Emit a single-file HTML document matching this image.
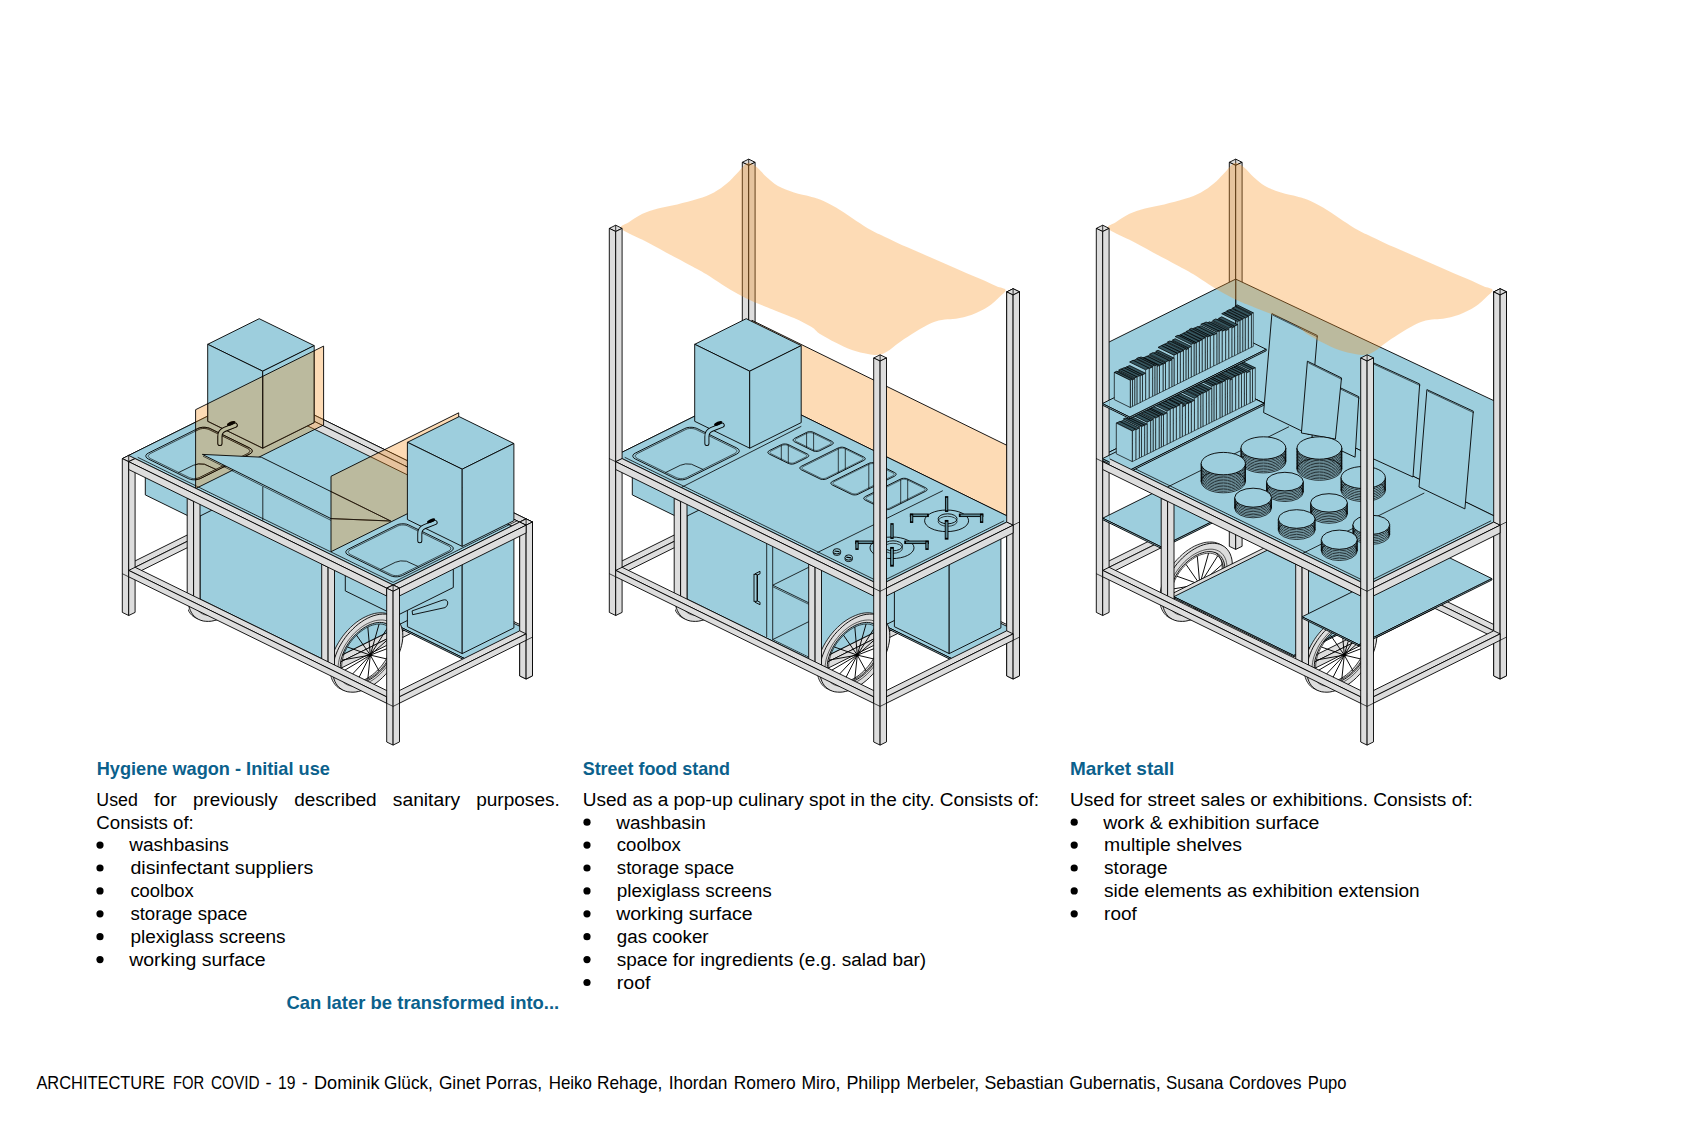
<!DOCTYPE html>
<html><head><meta charset="utf-8"><style>
html,body{margin:0;padding:0;background:#fff;}
svg{display:block;font-family:"Liberation Sans",sans-serif;}
</style></head><body>
<svg width="1688" height="1125" viewBox="0 0 1688 1125">
<rect width="1688" height="1125" fill="#fff"/>
<polygon points="255.3,392.5 261.7,395.6 268.1,392.5 261.7,389.3" fill="#dddddd" stroke="#000" stroke-width="0.9" stroke-linejoin="round"/>
<polygon points="255.3,546.3 261.7,549.4 261.7,395.6 255.3,392.5" fill="#dddddd" stroke="#000" stroke-width="0.9" stroke-linejoin="round"/>
<polygon points="261.7,549.4 268.1,546.3 268.1,392.5 261.7,395.6" fill="#dddddd" stroke="#000" stroke-width="0.9" stroke-linejoin="round"/><line x1="261.7" y1="389.3" x2="261.7" y2="395.6" stroke="#000" stroke-width="0.8"/>
<polygon points="261.7,504.3 519.7,630.8 526.1,627.6 268.1,501.2" fill="#dddddd" stroke="#000" stroke-width="0.9" stroke-linejoin="round"/>
<polygon points="261.7,510.7 519.7,637.2 519.7,630.8 261.7,504.3" fill="#dddddd" stroke="#000" stroke-width="0.9" stroke-linejoin="round"/>
<polygon points="519.7,637.2 526.1,634.0 526.1,627.6 519.7,630.8" fill="#dddddd" stroke="#000" stroke-width="0.9" stroke-linejoin="round"/>
<polygon points="128.7,564.1 135.1,567.3 261.7,504.3 255.3,501.2" fill="#dddddd" stroke="#000" stroke-width="0.9" stroke-linejoin="round"/>
<polygon points="128.7,570.5 135.1,573.7 135.1,567.3 128.7,564.1" fill="#dddddd" stroke="#000" stroke-width="0.9" stroke-linejoin="round"/>
<polygon points="135.1,573.7 261.7,510.7 261.7,504.3 135.1,567.3" fill="#dddddd" stroke="#000" stroke-width="0.9" stroke-linejoin="round"/>
<polygon points="320.2,432.1 326.6,435.2 333.0,432.1 326.6,428.9" fill="#dddddd" stroke="#000" stroke-width="0.9" stroke-linejoin="round"/>
<polygon points="320.2,533.0 326.6,536.1 326.6,435.2 320.2,432.1" fill="#dddddd" stroke="#000" stroke-width="0.9" stroke-linejoin="round"/>
<polygon points="326.6,536.1 333.0,533.0 333.0,432.1 326.6,435.2" fill="#dddddd" stroke="#000" stroke-width="0.9" stroke-linejoin="round"/>
<polygon points="454.7,498.0 461.1,501.1 467.5,498.0 461.1,494.8" fill="#dddddd" stroke="#000" stroke-width="0.9" stroke-linejoin="round"/>
<polygon points="454.7,598.9 461.1,602.0 461.1,501.1 454.7,498.0" fill="#dddddd" stroke="#000" stroke-width="0.9" stroke-linejoin="round"/>
<polygon points="461.1,602.0 467.5,598.9 467.5,498.0 461.1,501.1" fill="#dddddd" stroke="#000" stroke-width="0.9" stroke-linejoin="round"/>
<polygon points="519.7,522.1 526.1,525.2 532.5,522.0 526.1,518.9" fill="#dddddd" stroke="#000" stroke-width="0.9" stroke-linejoin="round"/>
<polygon points="519.7,675.9 526.1,679.0 526.1,525.2 519.7,522.1" fill="#dddddd" stroke="#000" stroke-width="0.9" stroke-linejoin="round"/>
<polygon points="526.1,679.0 532.5,675.8 532.5,522.0 526.1,525.2" fill="#dddddd" stroke="#000" stroke-width="0.9" stroke-linejoin="round"/><line x1="526.1" y1="518.9" x2="526.1" y2="525.2" stroke="#000" stroke-width="0.8"/>
<clipPath id="lw0"><rect x="188.0" y="0" width="200" height="1125"/></clipPath>
<g clip-path="url(#lw0)"><path d="M255.7,563.7 L255.6,560.7 L255.2,557.8 L254.5,555.2 L253.6,552.7 L252.4,550.5 L251.0,548.5 L249.4,546.7 L247.5,545.2 L245.4,544.0 L243.2,543.1 L240.8,542.4 L238.2,542.0 L235.5,542.0 L232.7,542.2 L229.8,542.7 L226.8,543.6 L223.8,544.7 L220.7,546.0 L217.6,547.7 L214.6,549.6 L211.6,551.7 L208.7,554.1 L205.9,556.7 L203.2,559.4 L200.6,562.4 L198.2,565.4 L196.0,568.6 L193.9,571.9 L192.0,575.2 L190.4,578.6 L189.0,582.0 L187.8,585.4 L186.9,588.8 L186.2,592.1 L185.8,595.3 L185.7,598.4 L185.8,601.4 L186.2,604.3 L186.9,606.9 L187.8,609.4 L189.0,611.6 L190.4,613.6 L192.0,615.4 L193.9,616.9 L196.0,618.1 L198.2,619.0 L200.6,619.7 L203.2,620.1 L205.9,620.1 L208.7,619.9 L211.6,619.4 L214.6,618.5 L217.6,617.4 L220.7,616.0 L223.8,614.4 L226.8,612.5 L229.8,610.4 L232.7,608.0 L235.5,605.4 L238.2,602.7 L240.8,599.7 L243.2,596.7 L245.4,593.5 L247.5,590.2 L249.4,586.9 L251.0,583.5 L252.4,580.1 L253.6,576.7 L254.5,573.3 L255.2,570.0 L255.6,566.8 Z M248.1,569.8 L247.8,572.4 L247.3,575.0 L246.5,577.6 L245.6,580.3 L244.5,583.0 L243.2,585.6 L241.8,588.3 L240.1,590.8 L238.4,593.3 L236.5,595.7 L234.4,598.0 L232.3,600.2 L230.1,602.2 L227.8,604.1 L225.5,605.8 L223.1,607.2 L220.7,608.5 L218.3,609.6 L215.9,610.5 L213.6,611.1 L211.3,611.6 L209.1,611.7 L207.0,611.7 L204.9,611.4 L203.0,610.9 L201.3,610.2 L199.6,609.2 L198.2,608.0 L196.9,606.6 L195.8,605.1 L194.9,603.3 L194.1,601.4 L193.6,599.3 L193.3,597.1 L193.2,594.7 L193.3,592.3 L193.6,589.7 L194.1,587.1 L194.9,584.5 L195.8,581.8 L196.9,579.1 L198.2,576.5 L199.6,573.8 L201.3,571.3 L203.0,568.8 L204.9,566.4 L207.0,564.1 L209.1,561.9 L211.3,559.9 L213.6,558.0 L215.9,556.3 L218.3,554.8 L220.7,553.5 L223.1,552.5 L225.5,551.6 L227.8,550.9 L230.1,550.5 L232.3,550.3 L234.5,550.4 L236.5,550.7 L238.4,551.2 L240.1,551.9 L241.8,552.9 L243.2,554.1 L244.5,555.5 L245.6,557.0 L246.5,558.8 L247.3,560.7 L247.8,562.8 L248.1,565.0 L248.2,567.4 Z" fill="#dddddd" stroke="#000" stroke-width="0.8" fill-rule="evenodd"/>
<path d="M258.3,564.9 L258.2,561.9 L257.8,559.1 L257.1,556.5 L256.2,554.0 L255.0,551.8 L253.6,549.8 L252.0,548.0 L250.1,546.5 L248.0,545.3 L245.8,544.3 L243.4,543.7 L240.8,543.3 L238.1,543.2 L235.3,543.5 L232.4,544.0 L229.4,544.8 L226.4,545.9 L223.3,547.3 L220.2,549.0 L217.2,550.9 L214.2,553.0 L211.3,555.4 L208.5,557.9 L205.8,560.7 L203.2,563.6 L200.8,566.7 L198.6,569.9 L196.5,573.1 L194.6,576.5 L193.0,579.9 L191.6,583.3 L190.4,586.7 L189.5,590.1 L188.8,593.4 L188.4,596.6 L188.3,599.7 L188.4,602.7 L188.8,605.5 L189.5,608.2 L190.4,610.6 L191.6,612.9 L193.0,614.9 L194.6,616.6 L196.5,618.1 L198.6,619.4 L200.8,620.3 L203.2,621.0 L205.8,621.3 L208.5,621.4 L211.3,621.2 L214.2,620.6 L217.2,619.8 L220.2,618.7 L223.3,617.3 L226.4,615.7 L229.4,613.8 L232.4,611.6 L235.3,609.3 L238.1,606.7 L240.8,603.9 L243.4,601.0 L245.8,597.9 L248.0,594.8 L250.1,591.5 L252.0,588.1 L253.6,584.8 L255.0,581.3 L256.2,577.9 L257.1,574.6 L257.8,571.3 L258.2,568.0 Z M250.7,571.1 L250.4,573.6 L249.9,576.2 L249.1,578.9 L248.2,581.6 L247.1,584.2 L245.8,586.9 L244.4,589.5 L242.7,592.1 L241.0,594.6 L239.1,597.0 L237.0,599.3 L234.9,601.5 L232.7,603.5 L230.4,605.3 L228.1,607.0 L225.7,608.5 L223.3,609.8 L220.9,610.9 L218.5,611.8 L216.2,612.4 L213.9,612.8 L211.7,613.0 L209.6,613.0 L207.5,612.7 L205.6,612.2 L203.9,611.4 L202.2,610.5 L200.8,609.3 L199.5,607.9 L198.4,606.3 L197.5,604.6 L196.7,602.6 L196.2,600.6 L195.9,598.3 L195.8,596.0 L195.9,593.5 L196.2,591.0 L196.7,588.4 L197.5,585.8 L198.4,583.1 L199.5,580.4 L200.8,577.7 L202.2,575.1 L203.9,572.5 L205.6,570.0 L207.5,567.6 L209.6,565.3 L211.7,563.2 L213.9,561.2 L216.2,559.3 L218.5,557.6 L220.9,556.1 L223.3,554.8 L225.7,553.7 L228.1,552.9 L230.4,552.2 L232.7,551.8 L234.9,551.6 L237.1,551.7 L239.1,552.0 L241.0,552.5 L242.7,553.2 L244.4,554.2 L245.8,555.3 L247.1,556.7 L248.2,558.3 L249.1,560.1 L249.9,562.0 L250.4,564.1 L250.7,566.3 L250.8,568.7 Z" fill="#dddddd" stroke="#000" stroke-width="0.9" fill-rule="evenodd"/>
<polygon points="253.0,567.6 252.9,565.0 252.5,562.6 252.0,560.4 251.2,558.3 250.2,556.4 249.0,554.7 247.6,553.2 246.1,551.9 244.3,550.9 242.4,550.1 240.3,549.5 238.2,549.2 235.9,549.2 233.5,549.4 231.0,549.8 228.5,550.5 225.9,551.4 223.3,552.6 220.7,554.0 218.1,555.6 215.6,557.5 213.1,559.5 210.7,561.6 208.5,564.0 206.3,566.5 204.2,569.1 202.3,571.8 200.5,574.5 199.0,577.4 197.6,580.3 196.4,583.1 195.4,586.0 194.6,588.9 194.1,591.7 193.7,594.4 193.6,597.1 193.7,599.6 194.1,602.0 194.6,604.3 195.4,606.3 196.4,608.2 197.6,610.0 199.0,611.4 200.5,612.7 202.3,613.8 204.2,614.6 206.3,615.1 208.4,615.4 210.7,615.5 213.1,615.3 215.6,614.8 218.1,614.1 220.7,613.2 223.3,612.0 225.9,610.6 228.5,609.0 231.0,607.2 233.5,605.2 235.9,603.0 238.1,600.7 240.3,598.2 242.4,595.6 244.3,592.9 246.1,590.1 247.6,587.3 249.0,584.4 250.2,581.5 251.2,578.6 252.0,575.7 252.5,572.9 252.9,570.2" fill="none" stroke="#000" stroke-width="0.6" stroke-linejoin="round"/>
<polygon points="249.4,569.3 249.3,567.1 249.0,565.0 248.5,563.0 247.8,561.2 247.0,559.5 245.9,558.0 244.7,556.7 243.3,555.6 241.8,554.7 240.1,554.0 238.3,553.5 236.4,553.2 234.3,553.2 232.2,553.4 230.1,553.8 227.8,554.4 225.6,555.2 223.3,556.2 221.0,557.4 218.8,558.9 216.5,560.5 214.4,562.2 212.3,564.1 210.3,566.2 208.3,568.4 206.5,570.7 204.8,573.0 203.3,575.5 201.9,578.0 200.7,580.5 199.6,583.0 198.8,585.6 198.1,588.1 197.6,590.6 197.3,593.0 197.2,595.3 197.3,597.5 197.6,599.6 198.1,601.6 198.8,603.4 199.6,605.1 200.7,606.6 201.9,607.9 203.3,609.0 204.8,609.9 206.5,610.7 208.3,611.1 210.2,611.4 212.3,611.5 214.4,611.3 216.5,610.9 218.8,610.3 221.0,609.5 223.3,608.4 225.6,607.2 227.8,605.8 230.1,604.2 232.2,602.4 234.3,600.5 236.3,598.4 238.3,596.3 240.1,594.0 241.8,591.6 243.3,589.2 244.7,586.7 245.9,584.1 247.0,581.6 247.8,579.1 248.5,576.5 249.0,574.1 249.3,571.7" fill="none" stroke="#000" stroke-width="0.7" stroke-linejoin="round"/>
<line x1="225.8" y1="584.3" x2="248.7" y2="563.9" stroke="#000" stroke-width="0.95"/>
<line x1="225.8" y1="584.3" x2="243.7" y2="555.9" stroke="#000" stroke-width="0.95"/>
<line x1="225.8" y1="584.3" x2="234.6" y2="553.2" stroke="#000" stroke-width="0.95"/>
<line x1="225.8" y1="584.3" x2="223.3" y2="556.2" stroke="#000" stroke-width="0.95"/>
<line x1="225.8" y1="584.3" x2="212.0" y2="564.4" stroke="#000" stroke-width="0.95"/>
<line x1="225.8" y1="584.3" x2="202.9" y2="576.2" stroke="#000" stroke-width="0.95"/>
<line x1="225.8" y1="584.3" x2="197.9" y2="589.2" stroke="#000" stroke-width="0.95"/>
<line x1="225.8" y1="584.3" x2="197.9" y2="600.8" stroke="#000" stroke-width="0.95"/>
<line x1="225.8" y1="584.3" x2="202.9" y2="608.7" stroke="#000" stroke-width="0.95"/>
<line x1="225.8" y1="584.3" x2="212.0" y2="611.5" stroke="#000" stroke-width="0.95"/>
<line x1="225.8" y1="584.3" x2="223.3" y2="608.4" stroke="#000" stroke-width="0.95"/>
<line x1="225.8" y1="584.3" x2="234.6" y2="600.2" stroke="#000" stroke-width="0.95"/>
<line x1="225.8" y1="584.3" x2="243.7" y2="588.5" stroke="#000" stroke-width="0.95"/>
<line x1="225.8" y1="584.3" x2="248.7" y2="575.5" stroke="#000" stroke-width="0.95"/>
<circle cx="225.8" cy="584.3" r="1.6" fill="#000"/></g>
<polygon points="193.6,595.9 200.0,599.1 326.6,536.1 320.2,533.0" fill="#dddddd" stroke="#000" stroke-width="0.9" stroke-linejoin="round"/>
<polygon points="193.6,602.3 200.0,605.5 200.0,599.1 193.6,595.9" fill="#dddddd" stroke="#000" stroke-width="0.9" stroke-linejoin="round"/>
<polygon points="200.0,605.5 326.6,542.5 326.6,536.1 200.0,599.1" fill="#dddddd" stroke="#000" stroke-width="0.9" stroke-linejoin="round"/><polygon points="328.1,661.8 334.5,665.0 461.1,602.0 454.7,598.9" fill="#dddddd" stroke="#000" stroke-width="0.9" stroke-linejoin="round"/>
<polygon points="328.1,668.2 334.5,671.4 334.5,665.0 328.1,661.8" fill="#dddddd" stroke="#000" stroke-width="0.9" stroke-linejoin="round"/>
<polygon points="334.5,671.4 461.1,608.4 461.1,602.0 334.5,665.0" fill="#dddddd" stroke="#000" stroke-width="0.9" stroke-linejoin="round"/>
<polygon points="200.0,498.2 328.1,560.9 454.7,498.0 326.6,435.2" fill="#9dcedd" stroke="#000" stroke-width="0.9" stroke-linejoin="round"/>
<polygon points="200.0,599.1 328.1,661.8 328.1,560.9 200.0,498.2" fill="#9dcedd" stroke="#000" stroke-width="0.9" stroke-linejoin="round"/>
<polygon points="328.1,661.8 454.7,598.9 454.7,498.0 328.1,560.9" fill="#9dcedd" stroke="#000" stroke-width="0.9" stroke-linejoin="round"/>
<polygon points="397.3,625.5 465.3,658.9 525.3,629.0 457.3,595.7" fill="#9dcedd" stroke="#000" stroke-width="0.9" stroke-linejoin="round"/>
<polygon points="397.3,627.0 465.3,660.4 465.3,658.9 397.3,625.5" fill="#9dcedd" stroke="#000" stroke-width="0.9" stroke-linejoin="round"/>
<polygon points="465.3,660.4 525.3,630.5 525.3,629.0 465.3,658.9" fill="#9dcedd" stroke="#000" stroke-width="0.9" stroke-linejoin="round"/>
<polygon points="407.4,519.5 462.2,546.4 513.9,520.7 459.1,493.8" fill="#9dcedd" stroke="#000" stroke-width="0.9" stroke-linejoin="round"/>
<polygon points="407.4,626.7 462.2,653.6 462.2,546.4 407.4,519.5" fill="#9dcedd" stroke="#000" stroke-width="0.9" stroke-linejoin="round"/>
<polygon points="462.2,653.6 513.9,627.9 513.9,520.7 462.2,546.4" fill="#9dcedd" stroke="#000" stroke-width="0.9" stroke-linejoin="round"/>
<polygon points="145.3,456.1 194.3,480.1 252.3,451.2 203.3,427.2" fill="#9dcedd" stroke="#000" stroke-width="0.9" stroke-linejoin="round"/>
<polygon points="145.3,494.9 194.3,518.9 194.3,480.1 145.3,456.1" fill="#9dcedd" stroke="#000" stroke-width="0.9" stroke-linejoin="round"/>
<polygon points="194.3,518.9 252.3,490.0 252.3,451.2 194.3,480.1" fill="#9dcedd" stroke="#000" stroke-width="0.9" stroke-linejoin="round"/>
<polygon points="345.3,552.1 396.3,577.1 453.3,548.7 402.3,523.7" fill="#9dcedd" stroke="#000" stroke-width="0.9" stroke-linejoin="round"/>
<polygon points="345.3,590.9 396.3,615.9 396.3,577.1 345.3,552.1" fill="#9dcedd" stroke="#000" stroke-width="0.9" stroke-linejoin="round"/>
<polygon points="396.3,615.9 453.3,587.5 453.3,548.7 396.3,577.1" fill="#9dcedd" stroke="#000" stroke-width="0.9" stroke-linejoin="round"/>
<path d="M412.1,610.9 L442.0,600.3 Q447.5,598.5 447.8,603 Q447.8,606 445.0,607.6 L412.6,614.7 Z" fill="none" stroke="#000" stroke-width="0.9"/>
<path d="M400.2,634.5 L400.1,631.5 L399.7,628.6 L399.0,626.0 L398.1,623.5 L396.9,621.3 L395.5,619.3 L393.9,617.5 L392.0,616.0 L389.9,614.8 L387.7,613.9 L385.3,613.2 L382.7,612.8 L380.0,612.8 L377.2,613.0 L374.3,613.5 L371.3,614.4 L368.3,615.5 L365.2,616.9 L362.1,618.5 L359.1,620.4 L356.1,622.5 L353.2,624.9 L350.4,627.5 L347.7,630.2 L345.1,633.2 L342.7,636.2 L340.5,639.4 L338.4,642.7 L336.5,646.0 L334.9,649.4 L333.5,652.8 L332.3,656.2 L331.4,659.6 L330.7,662.9 L330.3,666.1 L330.2,669.2 L330.3,672.2 L330.7,675.1 L331.4,677.7 L332.3,680.2 L333.5,682.4 L334.9,684.4 L336.5,686.2 L338.4,687.7 L340.5,688.9 L342.7,689.8 L345.1,690.5 L347.7,690.9 L350.4,690.9 L353.2,690.7 L356.1,690.2 L359.1,689.3 L362.1,688.2 L365.2,686.9 L368.3,685.2 L371.3,683.3 L374.3,681.2 L377.2,678.8 L380.0,676.2 L382.7,673.5 L385.3,670.5 L387.7,667.5 L389.9,664.3 L392.0,661.0 L393.9,657.7 L395.5,654.3 L396.9,650.9 L398.1,647.5 L399.0,644.1 L399.7,640.8 L400.1,637.6 Z M392.6,640.6 L392.3,643.2 L391.8,645.8 L391.0,648.4 L390.1,651.1 L389.0,653.8 L387.7,656.4 L386.3,659.1 L384.6,661.6 L382.9,664.1 L381.0,666.5 L378.9,668.8 L376.8,671.0 L374.6,673.0 L372.3,674.9 L370.0,676.6 L367.6,678.1 L365.2,679.4 L362.8,680.4 L360.4,681.3 L358.1,682.0 L355.8,682.4 L353.6,682.5 L351.4,682.5 L349.4,682.2 L347.5,681.7 L345.8,681.0 L344.1,680.0 L342.7,678.8 L341.4,677.4 L340.3,675.9 L339.4,674.1 L338.6,672.2 L338.1,670.1 L337.8,667.9 L337.7,665.5 L337.8,663.1 L338.1,660.5 L338.6,657.9 L339.4,655.3 L340.3,652.6 L341.4,649.9 L342.7,647.3 L344.1,644.6 L345.8,642.1 L347.5,639.6 L349.4,637.2 L351.4,634.9 L353.6,632.7 L355.8,630.7 L358.1,628.8 L360.4,627.1 L362.8,625.6 L365.2,624.4 L367.6,623.3 L370.0,622.4 L372.3,621.7 L374.6,621.3 L376.8,621.2 L378.9,621.2 L381.0,621.5 L382.9,622.0 L384.6,622.7 L386.3,623.7 L387.7,624.9 L389.0,626.3 L390.1,627.8 L391.0,629.6 L391.8,631.5 L392.3,633.6 L392.6,635.8 L392.7,638.2 Z" fill="#dddddd" stroke="#000" stroke-width="0.8" fill-rule="evenodd"/>
<path d="M402.8,635.7 L402.7,632.7 L402.3,629.9 L401.6,627.3 L400.7,624.8 L399.5,622.6 L398.1,620.6 L396.5,618.8 L394.6,617.3 L392.5,616.1 L390.3,615.1 L387.9,614.5 L385.3,614.1 L382.6,614.1 L379.8,614.3 L376.9,614.8 L373.9,615.6 L370.9,616.7 L367.8,618.1 L364.7,619.8 L361.7,621.7 L358.7,623.8 L355.8,626.2 L353.0,628.8 L350.3,631.5 L347.7,634.4 L345.3,637.5 L343.1,640.7 L341.0,644.0 L339.1,647.3 L337.5,650.7 L336.1,654.1 L334.9,657.5 L334.0,660.9 L333.3,664.2 L332.9,667.4 L332.8,670.5 L332.9,673.5 L333.3,676.3 L334.0,679.0 L334.9,681.4 L336.1,683.7 L337.5,685.7 L339.1,687.4 L341.0,688.9 L343.1,690.2 L345.3,691.1 L347.7,691.8 L350.3,692.1 L353.0,692.2 L355.8,692.0 L358.7,691.4 L361.7,690.6 L364.7,689.5 L367.8,688.1 L370.9,686.5 L373.9,684.6 L376.9,682.4 L379.8,680.1 L382.6,677.5 L385.3,674.7 L387.9,671.8 L390.3,668.8 L392.5,665.6 L394.6,662.3 L396.5,659.0 L398.1,655.6 L399.5,652.2 L400.7,648.7 L401.6,645.4 L402.3,642.1 L402.7,638.8 Z M395.2,641.9 L394.9,644.4 L394.4,647.0 L393.6,649.7 L392.7,652.4 L391.6,655.0 L390.3,657.7 L388.9,660.3 L387.2,662.9 L385.5,665.4 L383.6,667.8 L381.6,670.1 L379.4,672.3 L377.2,674.3 L374.9,676.1 L372.6,677.8 L370.2,679.3 L367.8,680.6 L365.4,681.7 L363.0,682.6 L360.7,683.2 L358.4,683.6 L356.2,683.8 L354.1,683.8 L352.0,683.5 L350.1,683.0 L348.4,682.2 L346.7,681.3 L345.3,680.1 L344.0,678.7 L342.9,677.1 L342.0,675.4 L341.2,673.4 L340.7,671.4 L340.4,669.1 L340.3,666.8 L340.4,664.3 L340.7,661.8 L341.2,659.2 L342.0,656.6 L342.9,653.9 L344.0,651.2 L345.3,648.5 L346.7,645.9 L348.4,643.3 L350.1,640.8 L352.0,638.4 L354.1,636.1 L356.2,634.0 L358.4,632.0 L360.7,630.1 L363.0,628.4 L365.4,626.9 L367.8,625.6 L370.2,624.5 L372.6,623.7 L374.9,623.0 L377.2,622.6 L379.4,622.4 L381.6,622.5 L383.6,622.8 L385.5,623.3 L387.2,624.0 L388.9,625.0 L390.3,626.2 L391.6,627.5 L392.7,629.1 L393.6,630.9 L394.4,632.8 L394.9,634.9 L395.2,637.1 L395.3,639.5 Z" fill="#dddddd" stroke="#000" stroke-width="0.9" fill-rule="evenodd"/>
<polygon points="397.5,638.4 397.4,635.8 397.0,633.4 396.5,631.2 395.7,629.1 394.7,627.2 393.5,625.5 392.1,624.0 390.6,622.7 388.8,621.7 386.9,620.9 384.8,620.3 382.7,620.0 380.4,620.0 378.0,620.2 375.5,620.6 373.0,621.3 370.4,622.3 367.8,623.4 365.2,624.8 362.6,626.4 360.1,628.3 357.6,630.3 355.2,632.4 353.0,634.8 350.8,637.3 348.7,639.9 346.8,642.6 345.0,645.3 343.5,648.2 342.1,651.1 340.9,654.0 339.9,656.8 339.1,659.7 338.6,662.5 338.2,665.2 338.1,667.9 338.2,670.4 338.6,672.8 339.1,675.1 339.9,677.2 340.9,679.1 342.1,680.8 343.5,682.3 345.0,683.5 346.8,684.6 348.7,685.4 350.8,685.9 352.9,686.2 355.2,686.3 357.6,686.1 360.1,685.6 362.6,684.9 365.2,684.0 367.8,682.8 370.4,681.4 373.0,679.8 375.5,678.0 378.0,676.0 380.4,673.8 382.6,671.5 384.8,669.0 386.9,666.4 388.8,663.7 390.6,660.9 392.1,658.1 393.5,655.2 394.7,652.3 395.7,649.4 396.5,646.6 397.0,643.7 397.4,641.0" fill="none" stroke="#000" stroke-width="0.6" stroke-linejoin="round"/>
<polygon points="393.9,640.2 393.8,637.9 393.5,635.8 393.0,633.8 392.3,632.0 391.5,630.3 390.4,628.8 389.2,627.5 387.8,626.4 386.3,625.5 384.6,624.8 382.8,624.3 380.9,624.0 378.8,624.0 376.7,624.2 374.6,624.6 372.3,625.2 370.1,626.0 367.8,627.0 365.5,628.3 363.3,629.7 361.0,631.3 358.9,633.0 356.8,635.0 354.8,637.0 352.8,639.2 351.0,641.5 349.3,643.8 347.8,646.3 346.4,648.8 345.2,651.3 344.1,653.9 343.3,656.4 342.6,658.9 342.1,661.4 341.8,663.8 341.7,666.1 341.8,668.3 342.1,670.4 342.6,672.4 343.3,674.2 344.1,675.9 345.2,677.4 346.4,678.7 347.8,679.8 349.3,680.8 351.0,681.5 352.8,681.9 354.8,682.2 356.8,682.3 358.9,682.1 361.0,681.7 363.3,681.1 365.5,680.3 367.8,679.2 370.1,678.0 372.3,676.6 374.6,675.0 376.7,673.2 378.8,671.3 380.9,669.2 382.8,667.1 384.6,664.8 386.3,662.4 387.8,660.0 389.2,657.5 390.4,654.9 391.5,652.4 392.3,649.9 393.0,647.3 393.5,644.9 393.8,642.5" fill="none" stroke="#000" stroke-width="0.7" stroke-linejoin="round"/>
<line x1="370.3" y1="655.1" x2="393.2" y2="634.7" stroke="#000" stroke-width="0.95"/>
<line x1="370.3" y1="655.1" x2="388.2" y2="626.7" stroke="#000" stroke-width="0.95"/>
<line x1="370.3" y1="655.1" x2="379.1" y2="624.0" stroke="#000" stroke-width="0.95"/>
<line x1="370.3" y1="655.1" x2="367.8" y2="627.0" stroke="#000" stroke-width="0.95"/>
<line x1="370.3" y1="655.1" x2="356.5" y2="635.2" stroke="#000" stroke-width="0.95"/>
<line x1="370.3" y1="655.1" x2="347.4" y2="647.0" stroke="#000" stroke-width="0.95"/>
<line x1="370.3" y1="655.1" x2="342.4" y2="660.0" stroke="#000" stroke-width="0.95"/>
<line x1="370.3" y1="655.1" x2="342.4" y2="671.6" stroke="#000" stroke-width="0.95"/>
<line x1="370.3" y1="655.1" x2="347.4" y2="679.5" stroke="#000" stroke-width="0.95"/>
<line x1="370.3" y1="655.1" x2="356.5" y2="682.3" stroke="#000" stroke-width="0.95"/>
<line x1="370.3" y1="655.1" x2="367.8" y2="679.2" stroke="#000" stroke-width="0.95"/>
<line x1="370.3" y1="655.1" x2="379.1" y2="671.0" stroke="#000" stroke-width="0.95"/>
<line x1="370.3" y1="655.1" x2="388.2" y2="659.3" stroke="#000" stroke-width="0.95"/>
<line x1="370.3" y1="655.1" x2="393.2" y2="646.3" stroke="#000" stroke-width="0.95"/>
<circle cx="370.3" cy="655.1" r="1.6" fill="#000"/>
<polygon points="128.7,455.4 135.1,458.6 261.7,395.6 255.3,392.5" fill="#dddddd" stroke="#000" stroke-width="0.9" stroke-linejoin="round"/>
<polygon points="128.7,463.2 135.1,466.4 135.1,458.6 128.7,455.4" fill="#dddddd" stroke="#000" stroke-width="0.9" stroke-linejoin="round"/>
<polygon points="135.1,466.4 261.7,403.4 261.7,395.6 135.1,458.6" fill="#dddddd" stroke="#000" stroke-width="0.9" stroke-linejoin="round"/>
<polygon points="122.3,458.6 393.1,591.3 532.5,522.0 261.7,389.3" fill="#9dcedd" stroke="#000" stroke-width="0.9" stroke-linejoin="round"/>
<polygon points="261.7,395.6 519.7,522.1 526.1,518.9 268.1,392.5" fill="#dddddd" stroke="#000" stroke-width="0.9" stroke-linejoin="round"/>
<polygon points="261.7,403.4 519.7,529.9 519.7,522.1 261.7,395.6" fill="#dddddd" stroke="#000" stroke-width="0.9" stroke-linejoin="round"/>
<polygon points="519.7,529.9 526.1,526.7 526.1,518.9 519.7,522.1" fill="#dddddd" stroke="#000" stroke-width="0.9" stroke-linejoin="round"/>
<line x1="135.1" y1="458.6" x2="393.1" y2="585.0" stroke="#000" stroke-width="0.75"/><line x1="393.1" y1="585.0" x2="519.7" y2="522.1" stroke="#000" stroke-width="0.75"/><line x1="137.7" y1="457.3" x2="393.1" y2="582.4" stroke="#000" stroke-width="0.75"/><line x1="393.1" y1="582.4" x2="517.1" y2="520.8" stroke="#000" stroke-width="0.75"/>
<polygon points="249.8,454.0 251.4,452.9 252.2,451.6 252.2,450.3 251.4,449.1 249.8,448.0 209.8,428.4 207.7,427.7 205.1,427.3 202.5,427.3 199.9,427.7 197.8,428.5 148.3,453.1 146.7,454.1 145.9,455.4 145.9,456.7 146.7,457.9 148.3,459.0 188.3,478.6 190.4,479.4 193.0,479.8 195.6,479.8 198.2,479.3 200.3,478.6" fill="#9dcedd" stroke="#000" stroke-width="0.9" stroke-linejoin="round"/>
<polygon points="247.8,453.5 249.1,452.6 249.8,451.5 249.8,450.5 249.1,449.4 247.8,448.5 208.8,429.4 207.0,428.8 204.9,428.5 202.7,428.5 200.6,428.8 198.8,429.5 150.3,453.6 149.0,454.5 148.3,455.5 148.3,456.6 149.0,457.6 150.3,458.5 189.3,477.6 191.1,478.2 193.2,478.6 195.4,478.6 197.5,478.2 199.3,477.6" fill="none" stroke="#000" stroke-width="0.6" stroke-linejoin="round"/>
<polyline points="178.3,472.7 193.3,465.3 198.5,463.9 204.4,464.2 216.3,469.6" fill="none" stroke="#000" stroke-width="0.8" stroke-linejoin="round"/>
<polygon points="450.8,551.5 452.4,550.4 453.2,549.1 453.2,547.8 452.4,546.6 450.8,545.5 408.8,525.0 406.7,524.2 404.1,523.8 401.5,523.8 398.9,524.2 396.8,525.0 348.3,549.1 346.7,550.2 345.9,551.4 345.9,552.7 346.7,554.0 348.3,555.0 390.3,575.6 392.4,576.4 395.0,576.8 397.6,576.8 400.2,576.3 402.3,575.6" fill="#9dcedd" stroke="#000" stroke-width="0.9" stroke-linejoin="round"/>
<polygon points="448.8,551.0 450.1,550.1 450.8,549.0 450.8,548.0 450.1,546.9 448.8,546.0 407.8,526.0 406.0,525.3 403.9,525.0 401.7,525.0 399.6,525.3 397.8,526.0 350.3,549.6 349.0,550.5 348.3,551.5 348.3,552.6 349.0,553.6 350.3,554.5 391.3,574.6 393.1,575.3 395.2,575.6 397.4,575.6 399.5,575.2 401.3,574.6" fill="none" stroke="#000" stroke-width="0.6" stroke-linejoin="round"/>
<polyline points="380.3,569.7 395.3,562.3 400.5,560.9 406.4,561.2 418.3,566.6" fill="none" stroke="#000" stroke-width="0.8" stroke-linejoin="round"/>
<polygon points="207.7,344.3 262.7,371.2 314.2,345.6 259.2,318.7" fill="#9dcedd" stroke="#000" stroke-width="0.9" stroke-linejoin="round"/>
<polygon points="207.7,421.3 262.7,448.2 262.7,371.2 207.7,344.3" fill="#9dcedd" stroke="#000" stroke-width="0.9" stroke-linejoin="round"/>
<polygon points="262.7,448.2 314.2,422.6 314.2,345.6 262.7,371.2" fill="#9dcedd" stroke="#000" stroke-width="0.9" stroke-linejoin="round"/>
<path d="M219.9,443.4 L219.9,436.5 Q219.9,431.2 224.8,429.3 L235.2,425.2" fill="none" stroke="#000" stroke-width="5.0" stroke-linecap="round" stroke-linejoin="round"/><path d="M219.9,443.4 L219.9,436.5 Q219.9,431.2 224.8,429.3 L235.2,425.2" fill="none" stroke="#9dcedd" stroke-width="3.2" stroke-linecap="round" stroke-linejoin="round"/><ellipse cx="231.2" cy="423.4" rx="4.4" ry="1.7" transform="rotate(-24 231.2 423.4)" fill="#000"/>
<polygon points="195.6,488.6 323.6,425.0 323.6,346.1 195.6,409.7" fill="rgba(248,145,30,0.33)"/>
<clipPath id="pg1_0"><polygon points="195.6,488.6 323.6,425.0 323.6,346.1 195.6,409.7"/></clipPath>
<g clip-path="url(#pg1_0)" opacity="0.85"><polygon points="207.7,344.3 262.7,371.2 314.2,345.6 259.2,318.7" fill="none" stroke="#111" stroke-width="0.9" stroke-linejoin="round"/>
<polygon points="207.7,421.3 262.7,448.2 262.7,371.2 207.7,344.3" fill="none" stroke="#111" stroke-width="0.9" stroke-linejoin="round"/>
<polygon points="262.7,448.2 314.2,422.6 314.2,345.6 262.7,371.2" fill="none" stroke="#111" stroke-width="0.9" stroke-linejoin="round"/><polygon points="249.8,454.0 251.4,452.9 252.2,451.6 252.2,450.3 251.4,449.1 249.8,448.0 209.8,428.4 207.7,427.7 205.1,427.3 202.5,427.3 199.9,427.7 197.8,428.5 148.3,453.1 146.7,454.1 145.9,455.4 145.9,456.7 146.7,457.9 148.3,459.0 188.3,478.6 190.4,479.4 193.0,479.8 195.6,479.8 198.2,479.3 200.3,478.6" fill="none" stroke="#000" stroke-width="0.9" stroke-linejoin="round"/>
<polygon points="247.8,453.5 249.1,452.6 249.8,451.5 249.8,450.5 249.1,449.4 247.8,448.5 208.8,429.4 207.0,428.8 204.9,428.5 202.7,428.5 200.6,428.8 198.8,429.5 150.3,453.6 149.0,454.5 148.3,455.5 148.3,456.6 149.0,457.6 150.3,458.5 189.3,477.6 191.1,478.2 193.2,478.6 195.4,478.6 197.5,478.2 199.3,477.6" fill="none" stroke="#000" stroke-width="0.6" stroke-linejoin="round"/>
<polyline points="178.3,472.7 193.3,465.3 198.5,463.9 204.4,464.2 216.3,469.6" fill="none" stroke="#000" stroke-width="0.8" stroke-linejoin="round"/><path d="M219.9,443.4 L219.9,436.5 Q219.9,431.2 224.8,429.3 L235.2,425.2" fill="none" stroke="#000" stroke-width="5.0" stroke-linecap="round" stroke-linejoin="round"/><path d="M219.9,443.4 L219.9,436.5 Q219.9,431.2 224.8,429.3 L235.2,425.2" fill="none" stroke="#bcbb9b" stroke-width="3.2" stroke-linecap="round" stroke-linejoin="round"/><ellipse cx="231.2" cy="423.4" rx="4.4" ry="1.7" transform="rotate(-24 231.2 423.4)" fill="#000"/><line x1="188.8" y1="484.8" x2="196.1" y2="488.3" stroke="#111" stroke-width="0.8"/></g>
<polygon points="195.6,488.6 323.6,425.0 323.6,346.1 195.6,409.7" fill="none" stroke="#000" stroke-width="0.9" stroke-linejoin="round"/>
<polygon points="202.4,454.4 261.3,457.2 390.7,521.0 331.0,518.6" fill="#9dcedd" stroke="#000" stroke-width="0.9" stroke-linejoin="round"/>
<line x1="203.0" y1="456.2" x2="331.0" y2="520.4" stroke="#000" stroke-width="0.6"/>
<line x1="262.8" y1="486.5" x2="262.8" y2="520.5" stroke="#000" stroke-width="0.8"/>
<polygon points="331.0,551.7 458.7,488.2 458.7,412.8 331.0,476.3" fill="rgba(248,145,30,0.33)"/>
<clipPath id="pg2_0"><polygon points="331.0,551.7 458.7,488.2 458.7,412.8 331.0,476.3"/></clipPath>
<g clip-path="url(#pg2_0)" opacity="0.85"><polygon points="202.4,454.4 261.3,457.2 390.7,521.0 331.0,518.6" fill="none" stroke="#111" stroke-width="0.9" stroke-linejoin="round"/><line x1="203.0" y1="456.2" x2="331.0" y2="520.4" stroke="#111" stroke-width="0.6"/><line x1="405.3" y1="466.0" x2="526.1" y2="525.2" stroke="#111" stroke-width="0.8"/></g>
<polygon points="331.0,551.7 458.7,488.2 458.7,412.8 331.0,476.3" fill="none" stroke="#000" stroke-width="0.9" stroke-linejoin="round"/>
<polygon points="407.4,442.3 462.2,469.2 513.9,443.5 459.1,416.6" fill="#9dcedd" stroke="#000" stroke-width="0.9" stroke-linejoin="round"/>
<polygon points="407.4,519.5 462.2,546.4 462.2,469.2 407.4,442.3" fill="#9dcedd" stroke="#000" stroke-width="0.9" stroke-linejoin="round"/>
<polygon points="462.2,546.4 513.9,520.7 513.9,443.5 462.2,469.2" fill="#9dcedd" stroke="#000" stroke-width="0.9" stroke-linejoin="round"/>
<path d="M419.8,540.7 L419.8,533.8 Q419.8,528.5 424.7,526.6 L435.1,522.5" fill="none" stroke="#000" stroke-width="5.0" stroke-linecap="round" stroke-linejoin="round"/><path d="M419.8,540.7 L419.8,533.8 Q419.8,528.5 424.7,526.6 L435.1,522.5" fill="none" stroke="#9dcedd" stroke-width="3.2" stroke-linecap="round" stroke-linejoin="round"/><ellipse cx="431.1" cy="520.7" rx="4.4" ry="1.7" transform="rotate(-24 431.1 520.7)" fill="#000"/>
<polygon points="519.7,522.1 526.1,525.2 532.5,522.0 526.1,518.9" fill="#dddddd" stroke="#000" stroke-width="0.9" stroke-linejoin="round"/>
<polygon points="519.7,675.9 526.1,679.0 526.1,525.2 519.7,522.1" fill="#dddddd" stroke="#000" stroke-width="0.9" stroke-linejoin="round"/>
<polygon points="526.1,679.0 532.5,675.8 532.5,522.0 526.1,525.2" fill="#dddddd" stroke="#000" stroke-width="0.9" stroke-linejoin="round"/><line x1="526.1" y1="518.9" x2="526.1" y2="525.2" stroke="#000" stroke-width="0.8"/><polyline points="519.7,637.2 526.1,640.3 532.5,637.1" fill="none" stroke="#000" stroke-width="0.7" stroke-linejoin="round"/>
<polygon points="393.1,693.7 399.5,696.8 526.1,633.9 519.7,630.8" fill="#dddddd" stroke="#000" stroke-width="0.9" stroke-linejoin="round"/>
<polygon points="393.1,700.1 399.5,703.2 399.5,696.8 393.1,693.7" fill="#dddddd" stroke="#000" stroke-width="0.9" stroke-linejoin="round"/>
<polygon points="399.5,703.2 526.1,640.3 526.1,633.9 399.5,696.8" fill="#dddddd" stroke="#000" stroke-width="0.9" stroke-linejoin="round"/>
<polygon points="393.1,585.0 399.5,588.1 526.1,525.2 519.7,522.1" fill="#dddddd" stroke="#000" stroke-width="0.9" stroke-linejoin="round"/>
<polygon points="393.1,592.8 399.5,595.9 399.5,588.1 393.1,585.0" fill="#dddddd" stroke="#000" stroke-width="0.9" stroke-linejoin="round"/>
<polygon points="399.5,595.9 526.1,533.0 526.1,525.2 399.5,588.1" fill="#dddddd" stroke="#000" stroke-width="0.9" stroke-linejoin="round"/>
<polygon points="122.3,458.6 128.7,461.7 135.1,458.6 128.7,455.4" fill="#dddddd" stroke="#000" stroke-width="0.9" stroke-linejoin="round"/>
<polygon points="122.3,612.4 128.7,615.5 128.7,461.7 122.3,458.6" fill="#dddddd" stroke="#000" stroke-width="0.9" stroke-linejoin="round"/>
<polygon points="128.7,615.5 135.1,612.4 135.1,458.6 128.7,461.7" fill="#dddddd" stroke="#000" stroke-width="0.9" stroke-linejoin="round"/><line x1="128.7" y1="455.4" x2="128.7" y2="461.7" stroke="#000" stroke-width="0.8"/><polyline points="122.3,573.7 128.7,576.8 135.1,573.7" fill="none" stroke="#000" stroke-width="0.7" stroke-linejoin="round"/>
<polygon points="187.2,498.2 193.6,501.3 200.0,498.2 193.6,495.0" fill="#dddddd" stroke="#000" stroke-width="0.9" stroke-linejoin="round"/>
<polygon points="187.2,599.1 193.6,602.2 193.6,501.3 187.2,498.2" fill="#dddddd" stroke="#000" stroke-width="0.9" stroke-linejoin="round"/>
<polygon points="193.6,602.2 200.0,599.1 200.0,498.2 193.6,501.3" fill="#dddddd" stroke="#000" stroke-width="0.9" stroke-linejoin="round"/>
<polygon points="321.7,564.1 328.1,567.2 334.5,564.1 328.1,560.9" fill="#dddddd" stroke="#000" stroke-width="0.9" stroke-linejoin="round"/>
<polygon points="321.7,665.0 328.1,668.1 328.1,567.2 321.7,564.1" fill="#dddddd" stroke="#000" stroke-width="0.9" stroke-linejoin="round"/>
<polygon points="328.1,668.1 334.5,665.0 334.5,564.1 328.1,567.2" fill="#dddddd" stroke="#000" stroke-width="0.9" stroke-linejoin="round"/>
<polygon points="128.7,570.4 386.7,696.9 393.1,693.7 135.1,567.3" fill="#dddddd" stroke="#000" stroke-width="0.9" stroke-linejoin="round"/>
<polygon points="128.7,576.8 386.7,703.3 386.7,696.9 128.7,570.4" fill="#dddddd" stroke="#000" stroke-width="0.9" stroke-linejoin="round"/>
<polygon points="386.7,703.3 393.1,700.1 393.1,693.7 386.7,696.9" fill="#dddddd" stroke="#000" stroke-width="0.9" stroke-linejoin="round"/>
<polygon points="128.7,461.7 386.7,588.2 393.1,585.0 135.1,458.6" fill="#dddddd" stroke="#000" stroke-width="0.9" stroke-linejoin="round"/>
<polygon points="128.7,469.5 386.7,596.0 386.7,588.2 128.7,461.7" fill="#dddddd" stroke="#000" stroke-width="0.9" stroke-linejoin="round"/>
<polygon points="386.7,596.0 393.1,592.8 393.1,585.0 386.7,588.2" fill="#dddddd" stroke="#000" stroke-width="0.9" stroke-linejoin="round"/>
<polygon points="386.7,588.2 393.1,591.3 399.5,588.1 393.1,585.0" fill="#dddddd" stroke="#000" stroke-width="0.9" stroke-linejoin="round"/>
<polygon points="386.7,742.0 393.1,745.1 393.1,591.3 386.7,588.2" fill="#dddddd" stroke="#000" stroke-width="0.9" stroke-linejoin="round"/>
<polygon points="393.1,745.1 399.5,741.9 399.5,588.1 393.1,591.3" fill="#dddddd" stroke="#000" stroke-width="0.9" stroke-linejoin="round"/><line x1="393.1" y1="585.0" x2="393.1" y2="591.3" stroke="#000" stroke-width="0.8"/><polyline points="386.7,703.3 393.1,706.4 399.5,703.2" fill="none" stroke="#000" stroke-width="0.7" stroke-linejoin="round"/>
<polygon points="742.3,162.3 748.7,165.4 755.1,162.3 748.7,159.1" fill="#dddddd" stroke="#000" stroke-width="0.9" stroke-linejoin="round"/>
<polygon points="742.3,546.3 748.7,549.4 748.7,165.4 742.3,162.3" fill="#dddddd" stroke="#000" stroke-width="0.9" stroke-linejoin="round"/>
<polygon points="748.7,549.4 755.1,546.3 755.1,162.3 748.7,165.4" fill="#dddddd" stroke="#000" stroke-width="0.9" stroke-linejoin="round"/><line x1="748.7" y1="159.1" x2="748.7" y2="165.4" stroke="#000" stroke-width="0.8"/>
<polygon points="748.7,504.3 1006.7,630.8 1013.1,627.6 755.1,501.2" fill="#dddddd" stroke="#000" stroke-width="0.9" stroke-linejoin="round"/>
<polygon points="748.7,510.7 1006.7,637.2 1006.7,630.8 748.7,504.3" fill="#dddddd" stroke="#000" stroke-width="0.9" stroke-linejoin="round"/>
<polygon points="1006.7,637.2 1013.1,634.0 1013.1,627.6 1006.7,630.8" fill="#dddddd" stroke="#000" stroke-width="0.9" stroke-linejoin="round"/>
<polygon points="615.7,564.1 622.1,567.3 748.7,504.3 742.3,501.2" fill="#dddddd" stroke="#000" stroke-width="0.9" stroke-linejoin="round"/>
<polygon points="615.7,570.5 622.1,573.7 622.1,567.3 615.7,564.1" fill="#dddddd" stroke="#000" stroke-width="0.9" stroke-linejoin="round"/>
<polygon points="622.1,573.7 748.7,510.7 748.7,504.3 622.1,567.3" fill="#dddddd" stroke="#000" stroke-width="0.9" stroke-linejoin="round"/>
<polygon points="807.2,432.1 813.6,435.2 820.0,432.1 813.6,428.9" fill="#dddddd" stroke="#000" stroke-width="0.9" stroke-linejoin="round"/>
<polygon points="807.2,533.0 813.6,536.1 813.6,435.2 807.2,432.1" fill="#dddddd" stroke="#000" stroke-width="0.9" stroke-linejoin="round"/>
<polygon points="813.6,536.1 820.0,533.0 820.0,432.1 813.6,435.2" fill="#dddddd" stroke="#000" stroke-width="0.9" stroke-linejoin="round"/>
<polygon points="941.7,498.0 948.1,501.1 954.5,498.0 948.1,494.8" fill="#dddddd" stroke="#000" stroke-width="0.9" stroke-linejoin="round"/>
<polygon points="941.7,598.9 948.1,602.0 948.1,501.1 941.7,498.0" fill="#dddddd" stroke="#000" stroke-width="0.9" stroke-linejoin="round"/>
<polygon points="948.1,602.0 954.5,598.9 954.5,498.0 948.1,501.1" fill="#dddddd" stroke="#000" stroke-width="0.9" stroke-linejoin="round"/>
<polygon points="1006.7,291.9 1013.1,295.0 1019.5,291.8 1013.1,288.7" fill="#dddddd" stroke="#000" stroke-width="0.9" stroke-linejoin="round"/>
<polygon points="1006.7,675.9 1013.1,679.0 1013.1,295.0 1006.7,291.9" fill="#dddddd" stroke="#000" stroke-width="0.9" stroke-linejoin="round"/>
<polygon points="1013.1,679.0 1019.5,675.8 1019.5,291.8 1013.1,295.0" fill="#dddddd" stroke="#000" stroke-width="0.9" stroke-linejoin="round"/><line x1="1013.1" y1="288.7" x2="1013.1" y2="295.0" stroke="#000" stroke-width="0.8"/>
<clipPath id="lw487"><rect x="675.0" y="0" width="200" height="1125"/></clipPath>
<polygon points="751.9,394.0 1009.9,520.5 1009.9,446.8 751.9,320.3" fill="rgba(248,145,30,0.33)" stroke="#000" stroke-width="0.9" stroke-linejoin="round"/>
<g clip-path="url(#lw487)"><path d="M742.7,563.7 L742.6,560.7 L742.2,557.8 L741.5,555.2 L740.6,552.7 L739.4,550.5 L738.0,548.5 L736.4,546.7 L734.5,545.2 L732.4,544.0 L730.2,543.1 L727.8,542.4 L725.2,542.0 L722.5,542.0 L719.7,542.2 L716.8,542.7 L713.8,543.6 L710.8,544.7 L707.7,546.0 L704.6,547.7 L701.6,549.6 L698.6,551.7 L695.7,554.1 L692.9,556.7 L690.2,559.4 L687.6,562.4 L685.2,565.4 L683.0,568.6 L680.9,571.9 L679.0,575.2 L677.4,578.6 L676.0,582.0 L674.8,585.4 L673.9,588.8 L673.2,592.1 L672.8,595.3 L672.7,598.4 L672.8,601.4 L673.2,604.3 L673.9,606.9 L674.8,609.4 L676.0,611.6 L677.4,613.6 L679.0,615.4 L680.9,616.9 L683.0,618.1 L685.2,619.0 L687.6,619.7 L690.2,620.1 L692.9,620.1 L695.7,619.9 L698.6,619.4 L701.6,618.5 L704.6,617.4 L707.7,616.0 L710.8,614.4 L713.8,612.5 L716.8,610.4 L719.7,608.0 L722.5,605.4 L725.2,602.7 L727.8,599.7 L730.2,596.7 L732.4,593.5 L734.5,590.2 L736.4,586.9 L738.0,583.5 L739.4,580.1 L740.6,576.7 L741.5,573.3 L742.2,570.0 L742.6,566.8 Z M735.1,569.8 L734.8,572.4 L734.3,575.0 L733.5,577.6 L732.6,580.3 L731.5,583.0 L730.2,585.6 L728.8,588.3 L727.1,590.8 L725.4,593.3 L723.5,595.7 L721.4,598.0 L719.3,600.2 L717.1,602.2 L714.8,604.1 L712.5,605.8 L710.1,607.2 L707.7,608.5 L705.3,609.6 L702.9,610.5 L700.6,611.1 L698.3,611.6 L696.1,611.7 L693.9,611.7 L691.9,611.4 L690.0,610.9 L688.3,610.2 L686.6,609.2 L685.2,608.0 L683.9,606.6 L682.8,605.1 L681.9,603.3 L681.1,601.4 L680.6,599.3 L680.3,597.1 L680.2,594.7 L680.3,592.3 L680.6,589.7 L681.1,587.1 L681.9,584.5 L682.8,581.8 L683.9,579.1 L685.2,576.5 L686.6,573.8 L688.3,571.3 L690.0,568.8 L691.9,566.4 L693.9,564.1 L696.1,561.9 L698.3,559.9 L700.6,558.0 L702.9,556.3 L705.3,554.8 L707.7,553.5 L710.1,552.5 L712.5,551.6 L714.8,550.9 L717.1,550.5 L719.3,550.3 L721.4,550.4 L723.5,550.7 L725.4,551.2 L727.1,551.9 L728.8,552.9 L730.2,554.1 L731.5,555.5 L732.6,557.0 L733.5,558.8 L734.3,560.7 L734.8,562.8 L735.1,565.0 L735.2,567.4 Z" fill="#dddddd" stroke="#000" stroke-width="0.8" fill-rule="evenodd"/>
<path d="M745.3,564.9 L745.2,561.9 L744.8,559.1 L744.1,556.5 L743.2,554.0 L742.0,551.8 L740.6,549.8 L739.0,548.0 L737.1,546.5 L735.0,545.3 L732.8,544.3 L730.4,543.7 L727.8,543.3 L725.1,543.2 L722.3,543.5 L719.4,544.0 L716.4,544.8 L713.4,545.9 L710.3,547.3 L707.2,549.0 L704.2,550.9 L701.2,553.0 L698.3,555.4 L695.5,557.9 L692.8,560.7 L690.2,563.6 L687.8,566.7 L685.6,569.9 L683.5,573.1 L681.6,576.5 L680.0,579.9 L678.6,583.3 L677.4,586.7 L676.5,590.1 L675.8,593.4 L675.4,596.6 L675.3,599.7 L675.4,602.7 L675.8,605.5 L676.5,608.2 L677.4,610.6 L678.6,612.9 L680.0,614.9 L681.6,616.6 L683.5,618.1 L685.6,619.4 L687.8,620.3 L690.2,621.0 L692.8,621.3 L695.5,621.4 L698.3,621.2 L701.2,620.6 L704.2,619.8 L707.2,618.7 L710.3,617.3 L713.4,615.7 L716.4,613.8 L719.4,611.6 L722.3,609.3 L725.1,606.7 L727.8,603.9 L730.4,601.0 L732.8,597.9 L735.0,594.8 L737.1,591.5 L739.0,588.1 L740.6,584.8 L742.0,581.3 L743.2,577.9 L744.1,574.6 L744.8,571.3 L745.2,568.0 Z M737.7,571.1 L737.4,573.6 L736.9,576.2 L736.1,578.9 L735.2,581.6 L734.1,584.2 L732.8,586.9 L731.4,589.5 L729.7,592.1 L728.0,594.6 L726.1,597.0 L724.0,599.3 L721.9,601.5 L719.7,603.5 L717.4,605.3 L715.1,607.0 L712.7,608.5 L710.3,609.8 L707.9,610.9 L705.5,611.8 L703.2,612.4 L700.9,612.8 L698.7,613.0 L696.5,613.0 L694.5,612.7 L692.6,612.2 L690.9,611.4 L689.2,610.5 L687.8,609.3 L686.5,607.9 L685.4,606.3 L684.5,604.6 L683.7,602.6 L683.2,600.6 L682.9,598.3 L682.8,596.0 L682.9,593.5 L683.2,591.0 L683.7,588.4 L684.5,585.8 L685.4,583.1 L686.5,580.4 L687.8,577.7 L689.2,575.1 L690.9,572.5 L692.6,570.0 L694.5,567.6 L696.5,565.3 L698.7,563.2 L700.9,561.2 L703.2,559.3 L705.5,557.6 L707.9,556.1 L710.3,554.8 L712.7,553.7 L715.1,552.9 L717.4,552.2 L719.7,551.8 L721.9,551.6 L724.0,551.7 L726.1,552.0 L728.0,552.5 L729.7,553.2 L731.4,554.2 L732.8,555.3 L734.1,556.7 L735.2,558.3 L736.1,560.1 L736.9,562.0 L737.4,564.1 L737.7,566.3 L737.8,568.7 Z" fill="#dddddd" stroke="#000" stroke-width="0.9" fill-rule="evenodd"/>
<polygon points="740.0,567.6 739.9,565.0 739.5,562.6 739.0,560.4 738.2,558.3 737.2,556.4 736.0,554.7 734.6,553.2 733.1,551.9 731.3,550.9 729.4,550.1 727.3,549.5 725.1,549.2 722.9,549.2 720.5,549.4 718.0,549.8 715.5,550.5 712.9,551.4 710.3,552.6 707.7,554.0 705.1,555.6 702.6,557.5 700.1,559.5 697.7,561.6 695.4,564.0 693.3,566.5 691.2,569.1 689.3,571.8 687.5,574.5 686.0,577.4 684.6,580.3 683.4,583.1 682.4,586.0 681.6,588.9 681.1,591.7 680.7,594.4 680.6,597.1 680.7,599.6 681.1,602.0 681.6,604.3 682.4,606.3 683.4,608.2 684.6,610.0 686.0,611.4 687.5,612.7 689.3,613.8 691.2,614.6 693.3,615.1 695.4,615.4 697.7,615.5 700.1,615.3 702.6,614.8 705.1,614.1 707.7,613.2 710.3,612.0 712.9,610.6 715.5,609.0 718.0,607.2 720.5,605.2 722.9,603.0 725.1,600.7 727.3,598.2 729.4,595.6 731.3,592.9 733.1,590.1 734.6,587.3 736.0,584.4 737.2,581.5 738.2,578.6 739.0,575.7 739.5,572.9 739.9,570.2" fill="none" stroke="#000" stroke-width="0.6" stroke-linejoin="round"/>
<polygon points="736.4,569.3 736.3,567.1 736.0,565.0 735.5,563.0 734.8,561.2 734.0,559.5 732.9,558.0 731.7,556.7 730.3,555.6 728.8,554.7 727.1,554.0 725.3,553.5 723.3,553.2 721.3,553.2 719.2,553.4 717.1,553.8 714.8,554.4 712.6,555.2 710.3,556.2 708.0,557.4 705.8,558.9 703.5,560.5 701.4,562.2 699.3,564.1 697.2,566.2 695.3,568.4 693.5,570.7 691.8,573.0 690.3,575.5 688.9,578.0 687.7,580.5 686.6,583.0 685.8,585.6 685.1,588.1 684.6,590.6 684.3,593.0 684.2,595.3 684.3,597.5 684.6,599.6 685.1,601.6 685.8,603.4 686.6,605.1 687.7,606.6 688.9,607.9 690.3,609.0 691.8,609.9 693.5,610.7 695.3,611.1 697.2,611.4 699.3,611.5 701.4,611.3 703.5,610.9 705.8,610.3 708.0,609.5 710.3,608.4 712.6,607.2 714.8,605.8 717.1,604.2 719.2,602.4 721.3,600.5 723.3,598.4 725.3,596.3 727.1,594.0 728.8,591.6 730.3,589.2 731.7,586.7 732.9,584.1 734.0,581.6 734.8,579.1 735.5,576.5 736.0,574.1 736.3,571.7" fill="none" stroke="#000" stroke-width="0.7" stroke-linejoin="round"/>
<line x1="712.8" y1="584.3" x2="735.7" y2="563.9" stroke="#000" stroke-width="0.95"/>
<line x1="712.8" y1="584.3" x2="730.7" y2="555.9" stroke="#000" stroke-width="0.95"/>
<line x1="712.8" y1="584.3" x2="721.6" y2="553.2" stroke="#000" stroke-width="0.95"/>
<line x1="712.8" y1="584.3" x2="710.3" y2="556.2" stroke="#000" stroke-width="0.95"/>
<line x1="712.8" y1="584.3" x2="699.0" y2="564.4" stroke="#000" stroke-width="0.95"/>
<line x1="712.8" y1="584.3" x2="689.9" y2="576.2" stroke="#000" stroke-width="0.95"/>
<line x1="712.8" y1="584.3" x2="684.9" y2="589.2" stroke="#000" stroke-width="0.95"/>
<line x1="712.8" y1="584.3" x2="684.9" y2="600.8" stroke="#000" stroke-width="0.95"/>
<line x1="712.8" y1="584.3" x2="689.9" y2="608.7" stroke="#000" stroke-width="0.95"/>
<line x1="712.8" y1="584.3" x2="699.0" y2="611.5" stroke="#000" stroke-width="0.95"/>
<line x1="712.8" y1="584.3" x2="710.3" y2="608.4" stroke="#000" stroke-width="0.95"/>
<line x1="712.8" y1="584.3" x2="721.6" y2="600.2" stroke="#000" stroke-width="0.95"/>
<line x1="712.8" y1="584.3" x2="730.7" y2="588.5" stroke="#000" stroke-width="0.95"/>
<line x1="712.8" y1="584.3" x2="735.7" y2="575.5" stroke="#000" stroke-width="0.95"/>
<circle cx="712.8" cy="584.3" r="1.6" fill="#000"/></g>
<polygon points="680.6,595.9 687.0,599.1 813.6,536.1 807.2,533.0" fill="#dddddd" stroke="#000" stroke-width="0.9" stroke-linejoin="round"/>
<polygon points="680.6,602.3 687.0,605.5 687.0,599.1 680.6,595.9" fill="#dddddd" stroke="#000" stroke-width="0.9" stroke-linejoin="round"/>
<polygon points="687.0,605.5 813.6,542.5 813.6,536.1 687.0,599.1" fill="#dddddd" stroke="#000" stroke-width="0.9" stroke-linejoin="round"/><polygon points="815.1,661.8 821.5,665.0 948.1,602.0 941.7,598.9" fill="#dddddd" stroke="#000" stroke-width="0.9" stroke-linejoin="round"/>
<polygon points="815.1,668.2 821.5,671.4 821.5,665.0 815.1,661.8" fill="#dddddd" stroke="#000" stroke-width="0.9" stroke-linejoin="round"/>
<polygon points="821.5,671.4 948.1,608.4 948.1,602.0 821.5,665.0" fill="#dddddd" stroke="#000" stroke-width="0.9" stroke-linejoin="round"/>
<polygon points="687.0,498.2 815.1,560.9 941.7,498.0 813.6,435.2" fill="#9dcedd" stroke="#000" stroke-width="0.9" stroke-linejoin="round"/>
<polygon points="687.0,599.1 815.1,661.8 815.1,560.9 687.0,498.2" fill="#9dcedd" stroke="#000" stroke-width="0.9" stroke-linejoin="round"/>
<polygon points="815.1,661.8 941.7,598.9 941.7,498.0 815.1,560.9" fill="#9dcedd" stroke="#000" stroke-width="0.9" stroke-linejoin="round"/>
<line x1="766.7" y1="637.1" x2="766.7" y2="536.2" stroke="#000" stroke-width="0.8"/>
<line x1="772.7" y1="640.1" x2="772.7" y2="539.2" stroke="#000" stroke-width="0.8"/>
<clipPath id="oc487"><polygon points="772.7,640.1 816.1,661.3 816.1,560.4 772.7,539.2"/></clipPath>
<g clip-path="url(#oc487)"><polygon points="772.7,639.6 816.1,660.8 941.7,598.4 898.3,577.1" fill="#9dcedd" stroke="#000" stroke-width="0.8" stroke-linejoin="round"/><polygon points="772.7,585.2 816.1,606.4 941.7,544.0 898.3,522.7" fill="#9dcedd" stroke="#000" stroke-width="0.8" stroke-linejoin="round"/><line x1="772.7" y1="586.7" x2="816.1" y2="607.9" stroke="#000" stroke-width="0.6"/><line x1="898.3" y1="577.6" x2="898.3" y2="476.7" stroke="#000" stroke-width="0.6"/></g>
<polygon points="884.3,625.5 952.3,658.9 1012.3,629.0 944.3,595.7" fill="#9dcedd" stroke="#000" stroke-width="0.9" stroke-linejoin="round"/>
<polygon points="884.3,627.0 952.3,660.4 952.3,658.9 884.3,625.5" fill="#9dcedd" stroke="#000" stroke-width="0.9" stroke-linejoin="round"/>
<polygon points="952.3,660.4 1012.3,630.5 1012.3,629.0 952.3,658.9" fill="#9dcedd" stroke="#000" stroke-width="0.9" stroke-linejoin="round"/>
<polygon points="894.4,519.5 949.2,546.4 1000.9,520.7 946.1,493.8" fill="#9dcedd" stroke="#000" stroke-width="0.9" stroke-linejoin="round"/>
<polygon points="894.4,626.7 949.2,653.6 949.2,546.4 894.4,519.5" fill="#9dcedd" stroke="#000" stroke-width="0.9" stroke-linejoin="round"/>
<polygon points="949.2,653.6 1000.9,627.9 1000.9,520.7 949.2,546.4" fill="#9dcedd" stroke="#000" stroke-width="0.9" stroke-linejoin="round"/>
<path d="M755.0,573.8 l5,-2.5 v2.5 l-2.5,1.2 v26 l2.5,1.2 v2.5 l-5,-2.5 z" fill="#9dcedd" stroke="#000" stroke-width="0.9" stroke-linejoin="round"/>
<rect x="754.0" y="574.3" width="3" height="27" fill="#9dcedd" stroke="#000" stroke-width="0.9"/>
<polygon points="632.3,456.1 681.3,480.1 739.3,451.2 690.3,427.2" fill="#9dcedd" stroke="#000" stroke-width="0.9" stroke-linejoin="round"/>
<polygon points="632.3,494.9 681.3,518.9 681.3,480.1 632.3,456.1" fill="#9dcedd" stroke="#000" stroke-width="0.9" stroke-linejoin="round"/>
<polygon points="681.3,518.9 739.3,490.0 739.3,451.2 681.3,480.1" fill="#9dcedd" stroke="#000" stroke-width="0.9" stroke-linejoin="round"/>
<path d="M887.2,634.5 L887.1,631.5 L886.7,628.6 L886.0,626.0 L885.1,623.5 L883.9,621.3 L882.5,619.3 L880.9,617.5 L879.0,616.0 L876.9,614.8 L874.7,613.9 L872.3,613.2 L869.7,612.8 L867.0,612.8 L864.2,613.0 L861.3,613.5 L858.3,614.4 L855.3,615.5 L852.2,616.9 L849.1,618.5 L846.1,620.4 L843.1,622.5 L840.2,624.9 L837.4,627.5 L834.7,630.2 L832.1,633.2 L829.7,636.2 L827.5,639.4 L825.4,642.7 L823.5,646.0 L821.9,649.4 L820.5,652.8 L819.3,656.2 L818.4,659.6 L817.7,662.9 L817.3,666.1 L817.2,669.2 L817.3,672.2 L817.7,675.1 L818.4,677.7 L819.3,680.2 L820.5,682.4 L821.9,684.4 L823.5,686.2 L825.4,687.7 L827.5,688.9 L829.7,689.8 L832.1,690.5 L834.7,690.9 L837.4,690.9 L840.2,690.7 L843.1,690.2 L846.1,689.3 L849.1,688.2 L852.2,686.9 L855.3,685.2 L858.3,683.3 L861.3,681.2 L864.2,678.8 L867.0,676.2 L869.7,673.5 L872.3,670.5 L874.7,667.5 L876.9,664.3 L879.0,661.0 L880.9,657.7 L882.5,654.3 L883.9,650.9 L885.1,647.5 L886.0,644.1 L886.7,640.8 L887.1,637.6 Z M879.6,640.6 L879.3,643.2 L878.8,645.8 L878.0,648.4 L877.1,651.1 L876.0,653.8 L874.7,656.4 L873.3,659.1 L871.6,661.6 L869.9,664.1 L868.0,666.5 L865.9,668.8 L863.8,671.0 L861.6,673.0 L859.3,674.9 L857.0,676.6 L854.6,678.1 L852.2,679.4 L849.8,680.4 L847.4,681.3 L845.1,682.0 L842.8,682.4 L840.6,682.5 L838.4,682.5 L836.4,682.2 L834.5,681.7 L832.8,681.0 L831.1,680.0 L829.7,678.8 L828.4,677.4 L827.3,675.9 L826.4,674.1 L825.6,672.2 L825.1,670.1 L824.8,667.9 L824.7,665.5 L824.8,663.1 L825.1,660.5 L825.6,657.9 L826.4,655.3 L827.3,652.6 L828.4,649.9 L829.7,647.3 L831.1,644.6 L832.8,642.1 L834.5,639.6 L836.4,637.2 L838.4,634.9 L840.6,632.7 L842.8,630.7 L845.1,628.8 L847.4,627.1 L849.8,625.6 L852.2,624.4 L854.6,623.3 L857.0,622.4 L859.3,621.7 L861.6,621.3 L863.8,621.2 L865.9,621.2 L868.0,621.5 L869.9,622.0 L871.6,622.7 L873.3,623.7 L874.7,624.9 L876.0,626.3 L877.1,627.8 L878.0,629.6 L878.8,631.5 L879.3,633.6 L879.6,635.8 L879.7,638.2 Z" fill="#dddddd" stroke="#000" stroke-width="0.8" fill-rule="evenodd"/>
<path d="M889.8,635.7 L889.7,632.7 L889.3,629.9 L888.6,627.3 L887.7,624.8 L886.5,622.6 L885.1,620.6 L883.5,618.8 L881.6,617.3 L879.5,616.1 L877.3,615.1 L874.9,614.5 L872.3,614.1 L869.6,614.1 L866.8,614.3 L863.9,614.8 L860.9,615.6 L857.9,616.7 L854.8,618.1 L851.7,619.8 L848.7,621.7 L845.7,623.8 L842.8,626.2 L840.0,628.8 L837.3,631.5 L834.7,634.4 L832.3,637.5 L830.1,640.7 L828.0,644.0 L826.1,647.3 L824.5,650.7 L823.1,654.1 L821.9,657.5 L821.0,660.9 L820.3,664.2 L819.9,667.4 L819.8,670.5 L819.9,673.5 L820.3,676.3 L821.0,679.0 L821.9,681.4 L823.1,683.7 L824.5,685.7 L826.1,687.4 L828.0,688.9 L830.1,690.2 L832.3,691.1 L834.7,691.8 L837.3,692.1 L840.0,692.2 L842.8,692.0 L845.7,691.4 L848.7,690.6 L851.7,689.5 L854.8,688.1 L857.9,686.5 L860.9,684.6 L863.9,682.4 L866.8,680.1 L869.6,677.5 L872.3,674.7 L874.9,671.8 L877.3,668.8 L879.5,665.6 L881.6,662.3 L883.5,659.0 L885.1,655.6 L886.5,652.2 L887.7,648.7 L888.6,645.4 L889.3,642.1 L889.7,638.8 Z M882.2,641.9 L881.9,644.4 L881.4,647.0 L880.6,649.7 L879.7,652.4 L878.6,655.0 L877.3,657.7 L875.9,660.3 L874.2,662.9 L872.5,665.4 L870.6,667.8 L868.5,670.1 L866.4,672.3 L864.2,674.3 L861.9,676.1 L859.6,677.8 L857.2,679.3 L854.8,680.6 L852.4,681.7 L850.0,682.6 L847.7,683.2 L845.4,683.6 L843.2,683.8 L841.0,683.8 L839.0,683.5 L837.1,683.0 L835.4,682.2 L833.7,681.3 L832.3,680.1 L831.0,678.7 L829.9,677.1 L829.0,675.4 L828.2,673.4 L827.7,671.4 L827.4,669.1 L827.3,666.8 L827.4,664.3 L827.7,661.8 L828.2,659.2 L829.0,656.6 L829.9,653.9 L831.0,651.2 L832.3,648.5 L833.7,645.9 L835.4,643.3 L837.1,640.8 L839.0,638.4 L841.0,636.1 L843.2,634.0 L845.4,632.0 L847.7,630.1 L850.0,628.4 L852.4,626.9 L854.8,625.6 L857.2,624.5 L859.6,623.7 L861.9,623.0 L864.2,622.6 L866.4,622.4 L868.5,622.5 L870.6,622.8 L872.5,623.3 L874.2,624.0 L875.9,625.0 L877.3,626.2 L878.6,627.5 L879.7,629.1 L880.6,630.9 L881.4,632.8 L881.9,634.9 L882.2,637.1 L882.3,639.5 Z" fill="#dddddd" stroke="#000" stroke-width="0.9" fill-rule="evenodd"/>
<polygon points="884.5,638.4 884.4,635.8 884.0,633.4 883.5,631.2 882.7,629.1 881.7,627.2 880.5,625.5 879.1,624.0 877.6,622.7 875.8,621.7 873.9,620.9 871.8,620.3 869.6,620.0 867.4,620.0 865.0,620.2 862.5,620.6 860.0,621.3 857.4,622.3 854.8,623.4 852.2,624.8 849.6,626.4 847.1,628.3 844.6,630.3 842.2,632.4 839.9,634.8 837.8,637.3 835.7,639.9 833.8,642.6 832.0,645.3 830.5,648.2 829.1,651.1 827.9,654.0 826.9,656.8 826.1,659.7 825.6,662.5 825.2,665.2 825.1,667.9 825.2,670.4 825.6,672.8 826.1,675.1 826.9,677.2 827.9,679.1 829.1,680.8 830.5,682.3 832.0,683.5 833.8,684.6 835.7,685.4 837.8,685.9 839.9,686.2 842.2,686.3 844.6,686.1 847.1,685.6 849.6,684.9 852.2,684.0 854.8,682.8 857.4,681.4 860.0,679.8 862.5,678.0 865.0,676.0 867.4,673.8 869.6,671.5 871.8,669.0 873.9,666.4 875.8,663.7 877.6,660.9 879.1,658.1 880.5,655.2 881.7,652.3 882.7,649.4 883.5,646.6 884.0,643.7 884.4,641.0" fill="none" stroke="#000" stroke-width="0.6" stroke-linejoin="round"/>
<polygon points="880.9,640.2 880.8,637.9 880.5,635.8 880.0,633.8 879.3,632.0 878.5,630.3 877.4,628.8 876.2,627.5 874.8,626.4 873.3,625.5 871.6,624.8 869.8,624.3 867.8,624.0 865.8,624.0 863.7,624.2 861.6,624.6 859.3,625.2 857.1,626.0 854.8,627.0 852.5,628.3 850.3,629.7 848.0,631.3 845.9,633.0 843.8,635.0 841.8,637.0 839.8,639.2 838.0,641.5 836.3,643.8 834.8,646.3 833.4,648.8 832.2,651.3 831.1,653.9 830.3,656.4 829.6,658.9 829.1,661.4 828.8,663.8 828.7,666.1 828.8,668.3 829.1,670.4 829.6,672.4 830.3,674.2 831.1,675.9 832.2,677.4 833.4,678.7 834.8,679.8 836.3,680.8 838.0,681.5 839.8,681.9 841.7,682.2 843.8,682.3 845.9,682.1 848.0,681.7 850.3,681.1 852.5,680.3 854.8,679.2 857.1,678.0 859.3,676.6 861.6,675.0 863.7,673.2 865.8,671.3 867.8,669.2 869.8,667.1 871.6,664.8 873.3,662.4 874.8,660.0 876.2,657.5 877.4,654.9 878.5,652.4 879.3,649.9 880.0,647.3 880.5,644.9 880.8,642.5" fill="none" stroke="#000" stroke-width="0.7" stroke-linejoin="round"/>
<line x1="857.3" y1="655.1" x2="880.2" y2="634.7" stroke="#000" stroke-width="0.95"/>
<line x1="857.3" y1="655.1" x2="875.2" y2="626.7" stroke="#000" stroke-width="0.95"/>
<line x1="857.3" y1="655.1" x2="866.1" y2="624.0" stroke="#000" stroke-width="0.95"/>
<line x1="857.3" y1="655.1" x2="854.8" y2="627.0" stroke="#000" stroke-width="0.95"/>
<line x1="857.3" y1="655.1" x2="843.5" y2="635.2" stroke="#000" stroke-width="0.95"/>
<line x1="857.3" y1="655.1" x2="834.4" y2="647.0" stroke="#000" stroke-width="0.95"/>
<line x1="857.3" y1="655.1" x2="829.4" y2="660.0" stroke="#000" stroke-width="0.95"/>
<line x1="857.3" y1="655.1" x2="829.4" y2="671.6" stroke="#000" stroke-width="0.95"/>
<line x1="857.3" y1="655.1" x2="834.4" y2="679.5" stroke="#000" stroke-width="0.95"/>
<line x1="857.3" y1="655.1" x2="843.5" y2="682.3" stroke="#000" stroke-width="0.95"/>
<line x1="857.3" y1="655.1" x2="854.8" y2="679.2" stroke="#000" stroke-width="0.95"/>
<line x1="857.3" y1="655.1" x2="866.1" y2="671.0" stroke="#000" stroke-width="0.95"/>
<line x1="857.3" y1="655.1" x2="875.2" y2="659.3" stroke="#000" stroke-width="0.95"/>
<line x1="857.3" y1="655.1" x2="880.2" y2="646.3" stroke="#000" stroke-width="0.95"/>
<circle cx="857.3" cy="655.1" r="1.6" fill="#000"/>
<polygon points="615.7,455.4 622.1,458.6 748.7,395.6 742.3,392.5" fill="#dddddd" stroke="#000" stroke-width="0.9" stroke-linejoin="round"/>
<polygon points="615.7,463.2 622.1,466.4 622.1,458.6 615.7,455.4" fill="#dddddd" stroke="#000" stroke-width="0.9" stroke-linejoin="round"/>
<polygon points="622.1,466.4 748.7,403.4 748.7,395.6 622.1,458.6" fill="#dddddd" stroke="#000" stroke-width="0.9" stroke-linejoin="round"/>
<polygon points="748.7,395.6 1006.7,522.1 1013.1,518.9 755.1,392.5" fill="#dddddd" stroke="#000" stroke-width="0.9" stroke-linejoin="round"/>
<polygon points="748.7,403.4 1006.7,529.9 1006.7,522.1 748.7,395.6" fill="#dddddd" stroke="#000" stroke-width="0.9" stroke-linejoin="round"/>
<polygon points="1006.7,529.9 1013.1,526.7 1013.1,518.9 1006.7,522.1" fill="#dddddd" stroke="#000" stroke-width="0.9" stroke-linejoin="round"/>
<polygon points="609.3,458.6 880.1,591.3 1019.5,522.0 748.7,389.3" fill="#9dcedd" stroke="#000" stroke-width="0.9" stroke-linejoin="round"/>
<line x1="622.1" y1="458.6" x2="880.1" y2="585.0" stroke="#000" stroke-width="0.75"/><line x1="880.1" y1="585.0" x2="1006.7" y2="522.1" stroke="#000" stroke-width="0.75"/><line x1="624.7" y1="457.3" x2="880.1" y2="582.4" stroke="#000" stroke-width="0.75"/><line x1="880.1" y1="582.4" x2="1004.1" y2="520.8" stroke="#000" stroke-width="0.75"/>
<line x1="681.2" y1="487.5" x2="801.3" y2="426.3" stroke="#000" stroke-width="0.8"/>
<line x1="817.3" y1="552.6" x2="942.8" y2="490.7" stroke="#000" stroke-width="0.8"/>
<polygon points="736.8,454.0 738.4,452.9 739.2,451.6 739.2,450.3 738.4,449.1 736.8,448.0 696.8,428.4 694.7,427.7 692.1,427.3 689.5,427.3 686.9,427.7 684.8,428.5 635.3,453.1 633.7,454.1 632.9,455.4 632.9,456.7 633.7,457.9 635.3,459.0 675.3,478.6 677.4,479.4 680.0,479.8 682.6,479.8 685.2,479.3 687.3,478.6" fill="#9dcedd" stroke="#000" stroke-width="0.9" stroke-linejoin="round"/>
<polygon points="734.8,453.5 736.1,452.6 736.8,451.5 736.8,450.5 736.1,449.4 734.8,448.5 695.8,429.4 694.0,428.8 691.9,428.5 689.7,428.5 687.6,428.8 685.8,429.5 637.3,453.6 636.0,454.5 635.3,455.5 635.3,456.6 636.0,457.6 637.3,458.5 676.3,477.6 678.1,478.2 680.2,478.6 682.4,478.6 684.5,478.2 686.3,477.6" fill="none" stroke="#000" stroke-width="0.6" stroke-linejoin="round"/>
<polyline points="665.3,472.7 680.3,465.3 685.5,463.9 691.4,464.2 703.3,469.6" fill="none" stroke="#000" stroke-width="0.8" stroke-linejoin="round"/>
<clipPath id="w0"><polygon points="807.3,457.4 808.2,456.8 808.7,456.1 808.7,455.3 808.2,454.6 807.3,454.0 788.3,444.6 787.0,444.2 785.6,444.0 784.0,444.0 782.6,444.2 781.3,444.7 769.3,450.6 768.4,451.3 767.9,452.0 767.9,452.8 768.4,453.5 769.3,454.1 788.3,463.4 789.6,463.8 791.0,464.1 792.6,464.1 794.0,463.8 795.3,463.4"/></clipPath>
<polygon points="807.3,457.4 808.2,456.8 808.7,456.1 808.7,455.3 808.2,454.6 807.3,454.0 788.3,444.6 787.0,444.2 785.6,444.0 784.0,444.0 782.6,444.2 781.3,444.7 769.3,450.6 768.4,451.3 767.9,452.0 767.9,452.8 768.4,453.5 769.3,454.1 788.3,463.4 789.6,463.8 791.0,464.1 792.6,464.1 794.0,463.8 795.3,463.4" fill="#9dcedd" stroke="#000" stroke-width="0.9" stroke-linejoin="round"/>
<g clip-path="url(#w0)"><line x1="781.3" y1="444.7" x2="781.3" y2="484.7" stroke="#000" stroke-width="0.7"/><line x1="788.3" y1="444.6" x2="788.3" y2="484.6" stroke="#000" stroke-width="0.7"/></g>
<polygon points="805.6,457.1 806.3,456.6 806.7,456.0 806.7,455.4 806.3,454.8 805.6,454.3 787.6,445.5 786.6,445.1 785.4,444.9 784.2,445.0 783.0,445.1 782.0,445.5 771.0,451.0 770.3,451.5 769.9,452.1 769.9,452.7 770.3,453.2 771.0,453.7 789.0,462.6 790.0,462.9 791.2,463.1 792.4,463.1 793.6,462.9 794.6,462.5" fill="none" stroke="#000" stroke-width="0.5" stroke-linejoin="round"/>
<clipPath id="w1"><polygon points="831.8,444.7 832.7,444.1 833.2,443.4 833.2,442.6 832.7,441.9 831.8,441.3 813.6,432.4 812.3,431.9 810.9,431.7 809.3,431.7 807.9,431.9 806.6,432.4 794.6,438.4 793.7,439.0 793.2,439.7 793.2,440.5 793.7,441.2 794.6,441.8 812.8,450.7 814.1,451.2 815.5,451.4 817.1,451.4 818.5,451.2 819.8,450.7"/></clipPath>
<polygon points="831.8,444.7 832.7,444.1 833.2,443.4 833.2,442.6 832.7,441.9 831.8,441.3 813.6,432.4 812.3,431.9 810.9,431.7 809.3,431.7 807.9,431.9 806.6,432.4 794.6,438.4 793.7,439.0 793.2,439.7 793.2,440.5 793.7,441.2 794.6,441.8 812.8,450.7 814.1,451.2 815.5,451.4 817.1,451.4 818.5,451.2 819.8,450.7" fill="#9dcedd" stroke="#000" stroke-width="0.9" stroke-linejoin="round"/>
<g clip-path="url(#w1)"><line x1="806.6" y1="432.4" x2="806.6" y2="472.4" stroke="#000" stroke-width="0.7"/><line x1="813.6" y1="432.4" x2="813.6" y2="472.4" stroke="#000" stroke-width="0.7"/></g>
<polygon points="830.1,444.4 830.8,443.9 831.2,443.3 831.2,442.7 830.8,442.1 830.1,441.6 812.9,433.2 811.9,432.9 810.7,432.7 809.5,432.7 808.3,432.9 807.3,433.2 796.3,438.7 795.6,439.2 795.2,439.8 795.2,440.4 795.6,441.0 796.3,441.5 813.5,449.9 814.5,450.2 815.7,450.4 816.9,450.4 818.1,450.2 819.1,449.9" fill="none" stroke="#000" stroke-width="0.5" stroke-linejoin="round"/>
<clipPath id="w2"><polygon points="863.8,460.4 864.7,459.8 865.2,459.1 865.2,458.3 864.7,457.6 863.8,457.0 845.3,447.9 844.0,447.5 842.6,447.2 841.0,447.2 839.6,447.5 838.3,447.9 801.3,466.3 800.4,466.9 799.9,467.7 799.9,468.4 800.4,469.2 801.3,469.8 819.8,478.8 821.1,479.3 822.5,479.5 824.1,479.5 825.5,479.3 826.8,478.8"/></clipPath>
<polygon points="863.8,460.4 864.7,459.8 865.2,459.1 865.2,458.3 864.7,457.6 863.8,457.0 845.3,447.9 844.0,447.5 842.6,447.2 841.0,447.2 839.6,447.5 838.3,447.9 801.3,466.3 800.4,466.9 799.9,467.7 799.9,468.4 800.4,469.2 801.3,469.8 819.8,478.8 821.1,479.3 822.5,479.5 824.1,479.5 825.5,479.3 826.8,478.8" fill="#9dcedd" stroke="#000" stroke-width="0.9" stroke-linejoin="round"/>
<g clip-path="url(#w2)"><line x1="838.3" y1="447.9" x2="838.3" y2="487.9" stroke="#000" stroke-width="0.7"/><line x1="845.3" y1="447.9" x2="845.3" y2="487.9" stroke="#000" stroke-width="0.7"/></g>
<polygon points="862.1,460.1 862.8,459.6 863.2,459.0 863.2,458.4 862.8,457.8 862.1,457.3 844.6,448.7 843.6,448.4 842.4,448.2 841.2,448.2 840.0,448.4 839.0,448.8 803.0,466.7 802.3,467.2 801.9,467.7 801.9,468.3 802.3,468.9 803.0,469.4 820.5,478.0 821.5,478.4 822.7,478.5 823.9,478.5 825.1,478.3 826.1,478.0" fill="none" stroke="#000" stroke-width="0.5" stroke-linejoin="round"/>
<clipPath id="w3"><polygon points="894.7,476.1 895.6,475.4 896.1,474.7 896.1,473.9 895.6,473.2 894.7,472.6 875.8,463.3 874.5,462.9 873.1,462.7 871.5,462.7 870.1,462.9 868.8,463.4 832.3,481.5 831.4,482.1 830.9,482.9 830.9,483.6 831.4,484.3 832.3,485.0 851.2,494.2 852.5,494.7 853.9,494.9 855.5,494.9 856.9,494.7 858.2,494.2"/></clipPath>
<polygon points="894.7,476.1 895.6,475.4 896.1,474.7 896.1,473.9 895.6,473.2 894.7,472.6 875.8,463.3 874.5,462.9 873.1,462.7 871.5,462.7 870.1,462.9 868.8,463.4 832.3,481.5 831.4,482.1 830.9,482.9 830.9,483.6 831.4,484.3 832.3,485.0 851.2,494.2 852.5,494.7 853.9,494.9 855.5,494.9 856.9,494.7 858.2,494.2" fill="#9dcedd" stroke="#000" stroke-width="0.9" stroke-linejoin="round"/>
<g clip-path="url(#w3)"><line x1="868.8" y1="463.4" x2="868.8" y2="503.4" stroke="#000" stroke-width="0.7"/><line x1="875.8" y1="463.3" x2="875.8" y2="503.3" stroke="#000" stroke-width="0.7"/></g>
<polygon points="893.0,475.7 893.7,475.2 894.1,474.6 894.1,474.0 893.7,473.4 893.0,473.0 875.1,464.2 874.1,463.8 872.9,463.6 871.7,463.6 870.5,463.8 869.5,464.2 834.0,481.8 833.3,482.3 832.9,482.9 832.9,483.5 833.3,484.1 834.0,484.6 851.9,493.4 852.9,493.7 854.1,493.9 855.3,493.9 856.5,493.7 857.5,493.4" fill="none" stroke="#000" stroke-width="0.5" stroke-linejoin="round"/>
<clipPath id="w4"><polygon points="925.7,491.2 926.6,490.6 927.1,489.9 927.1,489.1 926.6,488.4 925.7,487.8 907.7,479.0 906.4,478.5 905.0,478.3 903.4,478.3 902.0,478.5 900.7,479.0 865.2,496.6 864.3,497.3 863.8,498.0 863.8,498.8 864.3,499.5 865.2,500.1 883.2,508.9 884.5,509.4 885.9,509.6 887.5,509.6 888.9,509.3 890.2,508.9"/></clipPath>
<polygon points="925.7,491.2 926.6,490.6 927.1,489.9 927.1,489.1 926.6,488.4 925.7,487.8 907.7,479.0 906.4,478.5 905.0,478.3 903.4,478.3 902.0,478.5 900.7,479.0 865.2,496.6 864.3,497.3 863.8,498.0 863.8,498.8 864.3,499.5 865.2,500.1 883.2,508.9 884.5,509.4 885.9,509.6 887.5,509.6 888.9,509.3 890.2,508.9" fill="#9dcedd" stroke="#000" stroke-width="0.9" stroke-linejoin="round"/>
<g clip-path="url(#w4)"><line x1="900.7" y1="479.0" x2="900.7" y2="519.0" stroke="#000" stroke-width="0.7"/><line x1="907.7" y1="479.0" x2="907.7" y2="519.0" stroke="#000" stroke-width="0.7"/></g>
<polygon points="924.0,490.9 924.7,490.4 925.1,489.8 925.1,489.2 924.7,488.6 924.0,488.1 907.0,479.8 906.0,479.5 904.8,479.3 903.6,479.3 902.4,479.5 901.4,479.8 866.9,497.0 866.2,497.5 865.8,498.1 865.8,498.7 866.2,499.3 866.9,499.7 883.9,508.1 884.9,508.4 886.1,508.6 887.3,508.6 888.5,508.4 889.5,508.1" fill="none" stroke="#000" stroke-width="0.5" stroke-linejoin="round"/>
<ellipse cx="946.6" cy="520.8" rx="22" ry="10.8" fill="none" stroke="#000" stroke-width="0.9"/>
<ellipse cx="947.6" cy="518.8" rx="9.5" ry="5" fill="#9dcedd" stroke="#000" stroke-width="0.9"/>
<ellipse cx="947.6" cy="521.3" rx="9.5" ry="5" fill="none" stroke="#000" stroke-width="0.7"/>
<line x1="946.6" y1="497.8" x2="946.6" y2="510.3" stroke="#000" stroke-width="3.3" stroke-linecap="square"/><line x1="946.6" y1="497.8" x2="946.6" y2="510.3" stroke="#5d8a96" stroke-width="1.5"/>
<line x1="946.6" y1="521.8" x2="946.6" y2="537.8" stroke="#000" stroke-width="3.7" stroke-linecap="square"/><line x1="946.6" y1="521.8" x2="946.6" y2="537.8" stroke="#5d8a96" stroke-width="1.9"/>
<line x1="911.6" y1="515.3" x2="927.1" y2="515.3" stroke="#000" stroke-width="3.5" stroke-linecap="square"/><line x1="911.6" y1="515.3" x2="927.1" y2="515.3" stroke="#5d8a96" stroke-width="1.7"/>
<line x1="911.6" y1="515.3" x2="911.6" y2="521.3" stroke="#000" stroke-width="3.3" stroke-linecap="square"/><line x1="911.6" y1="515.3" x2="911.6" y2="521.3" stroke="#5d8a96" stroke-width="1.5"/>
<line x1="960.6" y1="515.3" x2="981.6" y2="515.3" stroke="#000" stroke-width="3.5" stroke-linecap="square"/><line x1="960.6" y1="515.3" x2="981.6" y2="515.3" stroke="#5d8a96" stroke-width="1.7"/>
<line x1="981.6" y1="515.3" x2="981.6" y2="521.3" stroke="#000" stroke-width="3.3" stroke-linecap="square"/><line x1="981.6" y1="515.3" x2="981.6" y2="521.3" stroke="#5d8a96" stroke-width="1.5"/>
<ellipse cx="892.0" cy="547.8" rx="22" ry="10.8" fill="none" stroke="#000" stroke-width="0.9"/>
<ellipse cx="893.0" cy="545.8" rx="9.5" ry="5" fill="#9dcedd" stroke="#000" stroke-width="0.9"/>
<ellipse cx="893.0" cy="548.3" rx="9.5" ry="5" fill="none" stroke="#000" stroke-width="0.7"/>
<line x1="892.0" y1="524.8" x2="892.0" y2="537.3" stroke="#000" stroke-width="3.3" stroke-linecap="square"/><line x1="892.0" y1="524.8" x2="892.0" y2="537.3" stroke="#5d8a96" stroke-width="1.5"/>
<line x1="892.0" y1="548.8" x2="892.0" y2="564.8" stroke="#000" stroke-width="3.7" stroke-linecap="square"/><line x1="892.0" y1="548.8" x2="892.0" y2="564.8" stroke="#5d8a96" stroke-width="1.9"/>
<line x1="857.0" y1="542.3" x2="872.5" y2="542.3" stroke="#000" stroke-width="3.5" stroke-linecap="square"/><line x1="857.0" y1="542.3" x2="872.5" y2="542.3" stroke="#5d8a96" stroke-width="1.7"/>
<line x1="857.0" y1="542.3" x2="857.0" y2="548.3" stroke="#000" stroke-width="3.3" stroke-linecap="square"/><line x1="857.0" y1="542.3" x2="857.0" y2="548.3" stroke="#5d8a96" stroke-width="1.5"/>
<line x1="906.0" y1="542.3" x2="927.0" y2="542.3" stroke="#000" stroke-width="3.5" stroke-linecap="square"/><line x1="906.0" y1="542.3" x2="927.0" y2="542.3" stroke="#5d8a96" stroke-width="1.7"/>
<line x1="927.0" y1="542.3" x2="927.0" y2="548.3" stroke="#000" stroke-width="3.3" stroke-linecap="square"/><line x1="927.0" y1="542.3" x2="927.0" y2="548.3" stroke="#5d8a96" stroke-width="1.5"/>
<ellipse cx="836.9" cy="552.8" rx="3.8" ry="2.6" fill="#9dcedd" stroke="#000" stroke-width="0.9"/><ellipse cx="836.9" cy="551.3" rx="3.8" ry="2.6" fill="#9dcedd" stroke="#000" stroke-width="0.9"/><line x1="834.4" y1="551.0" x2="839.4" y2="551.6" stroke="#000" stroke-width="1.2"/>
<ellipse cx="848.7" cy="559.0" rx="3.8" ry="2.6" fill="#9dcedd" stroke="#000" stroke-width="0.9"/><ellipse cx="848.7" cy="557.5" rx="3.8" ry="2.6" fill="#9dcedd" stroke="#000" stroke-width="0.9"/><line x1="846.2" y1="557.2" x2="851.2" y2="557.8" stroke="#000" stroke-width="1.2"/>
<polygon points="694.7,344.3 749.7,371.2 801.2,345.6 746.2,318.7" fill="#9dcedd" stroke="#000" stroke-width="0.9" stroke-linejoin="round"/>
<polygon points="694.7,421.3 749.7,448.2 749.7,371.2 694.7,344.3" fill="#9dcedd" stroke="#000" stroke-width="0.9" stroke-linejoin="round"/>
<polygon points="749.7,448.2 801.2,422.6 801.2,345.6 749.7,371.2" fill="#9dcedd" stroke="#000" stroke-width="0.9" stroke-linejoin="round"/>
<path d="M706.9,443.4 L706.9,436.5 Q706.9,431.2 711.8,429.3 L722.2,425.2" fill="none" stroke="#000" stroke-width="5.0" stroke-linecap="round" stroke-linejoin="round"/><path d="M706.9,443.4 L706.9,436.5 Q706.9,431.2 711.8,429.3 L722.2,425.2" fill="none" stroke="#9dcedd" stroke-width="3.2" stroke-linecap="round" stroke-linejoin="round"/><ellipse cx="718.2" cy="423.4" rx="4.4" ry="1.7" transform="rotate(-24 718.2 423.4)" fill="#000"/>
<path d="M621.2,228.4 C619.1,225.5 625.7,224.4 629.2,222.0 C632.7,219.6 637.2,216.3 642.0,214.0 C646.8,211.7 652.1,210.0 658.0,208.4 C663.9,206.8 670.5,206.0 677.2,204.4 C683.9,202.8 691.9,200.8 698.0,198.8 C704.1,196.8 709.2,194.9 714.0,192.4 C718.8,189.9 723.1,186.7 726.8,183.6 C730.5,180.5 733.5,177.1 736.4,174.0 C739.3,170.9 742.3,167.1 744.4,165.2 C746.5,163.3 747.1,162.4 749.2,162.8 C751.3,163.2 754.3,165.2 757.2,167.6 C760.1,170.0 763.3,174.1 766.8,177.2 C770.3,180.3 773.5,183.5 778.0,186.0 C782.5,188.5 788.7,190.7 794.0,192.4 C799.3,194.1 805.7,195.2 810.0,196.4 C814.3,197.6 815.7,197.7 820.0,199.6 C824.3,201.5 830.7,204.5 836.0,207.6 C841.3,210.7 846.7,214.5 852.0,218.0 C857.3,221.5 862.7,225.3 868.0,228.4 C873.3,231.5 877.3,233.2 884.0,236.4 C890.7,239.6 900.0,244.0 908.0,247.6 C916.0,251.2 924.0,254.5 932.0,258.0 C940.0,261.5 948.0,264.9 956.0,268.4 C964.0,271.9 973.3,275.9 980.0,278.8 C986.7,281.7 991.7,284.1 996.0,286.0 C1000.3,287.9 1005.1,288.1 1005.6,290.0 C1006.1,291.9 1002.1,294.4 999.2,297.2 C996.3,300.0 992.5,303.9 988.0,306.8 C983.5,309.7 977.3,312.8 972.0,314.8 C966.7,316.8 960.5,318.0 956.0,318.8 C951.5,319.6 948.8,318.9 944.8,319.6 C940.8,320.3 936.8,320.8 932.0,322.8 C927.2,324.8 921.3,328.4 916.0,331.6 C910.7,334.8 904.8,338.7 900.0,342.0 C895.2,345.3 890.7,349.5 887.2,351.6 C883.7,353.7 882.4,354.4 879.2,354.8 C876.0,355.2 872.5,354.8 868.0,354.0 C863.5,353.2 857.3,351.9 852.0,350.0 C846.7,348.1 841.3,345.5 836.0,342.8 C830.7,340.1 824.1,336.6 820.0,334.0 C815.9,331.4 815.9,329.7 811.6,327.0 C807.3,324.3 800.9,321.1 794.0,318.0 C787.1,314.9 776.7,311.1 770.0,308.4 C763.3,305.7 759.3,304.4 754.0,302.0 C748.7,299.6 743.3,296.9 738.0,294.0 C732.7,291.1 727.3,287.7 722.0,284.4 C716.7,281.1 711.3,277.2 706.0,274.0 C700.7,270.8 696.7,268.8 690.0,265.2 C683.3,261.6 674.0,256.7 666.0,252.4 C658.0,248.1 649.5,243.6 642.0,239.6 C634.5,235.6 623.3,231.3 621.2,228.4 Z" fill="rgba(248,145,30,0.33)"/>
<polygon points="1006.7,291.9 1013.1,295.0 1019.5,291.8 1013.1,288.7" fill="#dddddd" stroke="#000" stroke-width="0.9" stroke-linejoin="round"/>
<polygon points="1006.7,675.9 1013.1,679.0 1013.1,295.0 1006.7,291.9" fill="#dddddd" stroke="#000" stroke-width="0.9" stroke-linejoin="round"/>
<polygon points="1013.1,679.0 1019.5,675.8 1019.5,291.8 1013.1,295.0" fill="#dddddd" stroke="#000" stroke-width="0.9" stroke-linejoin="round"/><line x1="1013.1" y1="288.7" x2="1013.1" y2="295.0" stroke="#000" stroke-width="0.8"/><polyline points="1006.7,637.2 1013.1,640.3 1019.5,637.1" fill="none" stroke="#000" stroke-width="0.7" stroke-linejoin="round"/><polyline points="1006.7,522.1 1013.1,525.2 1019.5,522.0" fill="none" stroke="#000" stroke-width="0.7" stroke-linejoin="round"/>
<polygon points="880.1,693.7 886.5,696.8 1013.1,633.9 1006.7,630.8" fill="#dddddd" stroke="#000" stroke-width="0.9" stroke-linejoin="round"/>
<polygon points="880.1,700.1 886.5,703.2 886.5,696.8 880.1,693.7" fill="#dddddd" stroke="#000" stroke-width="0.9" stroke-linejoin="round"/>
<polygon points="886.5,703.2 1013.1,640.3 1013.1,633.9 886.5,696.8" fill="#dddddd" stroke="#000" stroke-width="0.9" stroke-linejoin="round"/>
<polygon points="880.1,585.0 886.5,588.1 1013.1,525.2 1006.7,522.1" fill="#dddddd" stroke="#000" stroke-width="0.9" stroke-linejoin="round"/>
<polygon points="880.1,592.8 886.5,595.9 886.5,588.1 880.1,585.0" fill="#dddddd" stroke="#000" stroke-width="0.9" stroke-linejoin="round"/>
<polygon points="886.5,595.9 1013.1,533.0 1013.1,525.2 886.5,588.1" fill="#dddddd" stroke="#000" stroke-width="0.9" stroke-linejoin="round"/>
<polygon points="609.3,228.4 615.7,231.5 622.1,228.4 615.7,225.2" fill="#dddddd" stroke="#000" stroke-width="0.9" stroke-linejoin="round"/>
<polygon points="609.3,612.4 615.7,615.5 615.7,231.5 609.3,228.4" fill="#dddddd" stroke="#000" stroke-width="0.9" stroke-linejoin="round"/>
<polygon points="615.7,615.5 622.1,612.4 622.1,228.4 615.7,231.5" fill="#dddddd" stroke="#000" stroke-width="0.9" stroke-linejoin="round"/><line x1="615.7" y1="225.2" x2="615.7" y2="231.5" stroke="#000" stroke-width="0.8"/><polyline points="609.3,573.7 615.7,576.8 622.1,573.7" fill="none" stroke="#000" stroke-width="0.7" stroke-linejoin="round"/><polyline points="609.3,458.6 615.7,461.7 622.1,458.6" fill="none" stroke="#000" stroke-width="0.7" stroke-linejoin="round"/>
<polygon points="674.2,498.2 680.6,501.3 687.0,498.2 680.6,495.0" fill="#dddddd" stroke="#000" stroke-width="0.9" stroke-linejoin="round"/>
<polygon points="674.2,599.1 680.6,602.2 680.6,501.3 674.2,498.2" fill="#dddddd" stroke="#000" stroke-width="0.9" stroke-linejoin="round"/>
<polygon points="680.6,602.2 687.0,599.1 687.0,498.2 680.6,501.3" fill="#dddddd" stroke="#000" stroke-width="0.9" stroke-linejoin="round"/>
<polygon points="808.7,564.1 815.1,567.2 821.5,564.1 815.1,560.9" fill="#dddddd" stroke="#000" stroke-width="0.9" stroke-linejoin="round"/>
<polygon points="808.7,665.0 815.1,668.1 815.1,567.2 808.7,564.1" fill="#dddddd" stroke="#000" stroke-width="0.9" stroke-linejoin="round"/>
<polygon points="815.1,668.1 821.5,665.0 821.5,564.1 815.1,567.2" fill="#dddddd" stroke="#000" stroke-width="0.9" stroke-linejoin="round"/>
<polygon points="615.7,570.4 873.7,696.9 880.1,693.7 622.1,567.3" fill="#dddddd" stroke="#000" stroke-width="0.9" stroke-linejoin="round"/>
<polygon points="615.7,576.8 873.7,703.3 873.7,696.9 615.7,570.4" fill="#dddddd" stroke="#000" stroke-width="0.9" stroke-linejoin="round"/>
<polygon points="873.7,703.3 880.1,700.1 880.1,693.7 873.7,696.9" fill="#dddddd" stroke="#000" stroke-width="0.9" stroke-linejoin="round"/>
<polygon points="615.7,461.7 873.7,588.2 880.1,585.0 622.1,458.6" fill="#dddddd" stroke="#000" stroke-width="0.9" stroke-linejoin="round"/>
<polygon points="615.7,469.5 873.7,596.0 873.7,588.2 615.7,461.7" fill="#dddddd" stroke="#000" stroke-width="0.9" stroke-linejoin="round"/>
<polygon points="873.7,596.0 880.1,592.8 880.1,585.0 873.7,588.2" fill="#dddddd" stroke="#000" stroke-width="0.9" stroke-linejoin="round"/>
<polygon points="873.7,358.0 880.1,361.1 886.5,357.9 880.1,354.8" fill="#dddddd" stroke="#000" stroke-width="0.9" stroke-linejoin="round"/>
<polygon points="873.7,742.0 880.1,745.1 880.1,361.1 873.7,358.0" fill="#dddddd" stroke="#000" stroke-width="0.9" stroke-linejoin="round"/>
<polygon points="880.1,745.1 886.5,741.9 886.5,357.9 880.1,361.1" fill="#dddddd" stroke="#000" stroke-width="0.9" stroke-linejoin="round"/><line x1="880.1" y1="354.8" x2="880.1" y2="361.1" stroke="#000" stroke-width="0.8"/><polyline points="873.7,703.3 880.1,706.4 886.5,703.2" fill="none" stroke="#000" stroke-width="0.7" stroke-linejoin="round"/><polyline points="873.7,588.2 880.1,591.3 886.5,588.1" fill="none" stroke="#000" stroke-width="0.7" stroke-linejoin="round"/>
<polygon points="1229.3,162.3 1235.7,165.4 1242.1,162.3 1235.7,159.1" fill="#dddddd" stroke="#000" stroke-width="0.9" stroke-linejoin="round"/>
<polygon points="1229.3,546.3 1235.7,549.4 1235.7,165.4 1229.3,162.3" fill="#dddddd" stroke="#000" stroke-width="0.9" stroke-linejoin="round"/>
<polygon points="1235.7,549.4 1242.1,546.3 1242.1,162.3 1235.7,165.4" fill="#dddddd" stroke="#000" stroke-width="0.9" stroke-linejoin="round"/><line x1="1235.7" y1="159.1" x2="1235.7" y2="165.4" stroke="#000" stroke-width="0.8"/>
<polygon points="1235.7,504.3 1493.7,630.8 1500.1,627.6 1242.1,501.2" fill="#dddddd" stroke="#000" stroke-width="0.9" stroke-linejoin="round"/>
<polygon points="1235.7,510.7 1493.7,637.2 1493.7,630.8 1235.7,504.3" fill="#dddddd" stroke="#000" stroke-width="0.9" stroke-linejoin="round"/>
<polygon points="1493.7,637.2 1500.1,634.0 1500.1,627.6 1493.7,630.8" fill="#dddddd" stroke="#000" stroke-width="0.9" stroke-linejoin="round"/>
<polygon points="1102.7,564.1 1109.1,567.3 1235.7,504.3 1229.3,501.2" fill="#dddddd" stroke="#000" stroke-width="0.9" stroke-linejoin="round"/>
<polygon points="1102.7,570.5 1109.1,573.7 1109.1,567.3 1102.7,564.1" fill="#dddddd" stroke="#000" stroke-width="0.9" stroke-linejoin="round"/>
<polygon points="1109.1,573.7 1235.7,510.7 1235.7,504.3 1109.1,567.3" fill="#dddddd" stroke="#000" stroke-width="0.9" stroke-linejoin="round"/>
<polygon points="1294.2,432.1 1300.6,435.2 1307.0,432.1 1300.6,428.9" fill="#dddddd" stroke="#000" stroke-width="0.9" stroke-linejoin="round"/>
<polygon points="1294.2,533.0 1300.6,536.1 1300.6,435.2 1294.2,432.1" fill="#dddddd" stroke="#000" stroke-width="0.9" stroke-linejoin="round"/>
<polygon points="1300.6,536.1 1307.0,533.0 1307.0,432.1 1300.6,435.2" fill="#dddddd" stroke="#000" stroke-width="0.9" stroke-linejoin="round"/>
<polygon points="1428.7,498.0 1435.1,501.1 1441.5,498.0 1435.1,494.8" fill="#dddddd" stroke="#000" stroke-width="0.9" stroke-linejoin="round"/>
<polygon points="1428.7,598.9 1435.1,602.0 1435.1,501.1 1428.7,498.0" fill="#dddddd" stroke="#000" stroke-width="0.9" stroke-linejoin="round"/>
<polygon points="1435.1,602.0 1441.5,598.9 1441.5,498.0 1435.1,501.1" fill="#dddddd" stroke="#000" stroke-width="0.9" stroke-linejoin="round"/>
<polygon points="1493.7,291.9 1500.1,295.0 1506.5,291.8 1500.1,288.7" fill="#dddddd" stroke="#000" stroke-width="0.9" stroke-linejoin="round"/>
<polygon points="1493.7,675.9 1500.1,679.0 1500.1,295.0 1493.7,291.9" fill="#dddddd" stroke="#000" stroke-width="0.9" stroke-linejoin="round"/>
<polygon points="1500.1,679.0 1506.5,675.8 1506.5,291.8 1500.1,295.0" fill="#dddddd" stroke="#000" stroke-width="0.9" stroke-linejoin="round"/><line x1="1500.1" y1="288.7" x2="1500.1" y2="295.0" stroke="#000" stroke-width="0.8"/>
<polygon points="1235.7,392.3 1497.1,520.4 1497.1,402.2 1235.7,279.1" fill="#9dcedd" stroke="#000" stroke-width="0.9" stroke-linejoin="round"/>
<polygon points="1105.7,456.9 1235.7,392.3 1235.7,279.1 1105.7,343.7" fill="#9dcedd" stroke="#000" stroke-width="0.9" stroke-linejoin="round"/>
<path d="M1229.7,563.7 L1229.6,560.7 L1229.2,557.8 L1228.5,555.2 L1227.6,552.7 L1226.4,550.5 L1225.0,548.5 L1223.4,546.7 L1221.5,545.2 L1219.4,544.0 L1217.2,543.1 L1214.8,542.4 L1212.2,542.0 L1209.5,542.0 L1206.7,542.2 L1203.8,542.7 L1200.8,543.6 L1197.8,544.7 L1194.7,546.0 L1191.6,547.7 L1188.6,549.6 L1185.6,551.7 L1182.7,554.1 L1179.9,556.7 L1177.2,559.4 L1174.6,562.4 L1172.2,565.4 L1170.0,568.6 L1167.9,571.9 L1166.0,575.2 L1164.4,578.6 L1163.0,582.0 L1161.8,585.4 L1160.9,588.8 L1160.2,592.1 L1159.8,595.3 L1159.7,598.4 L1159.8,601.4 L1160.2,604.3 L1160.9,606.9 L1161.8,609.4 L1163.0,611.6 L1164.4,613.6 L1166.0,615.4 L1167.9,616.9 L1170.0,618.1 L1172.2,619.0 L1174.6,619.7 L1177.2,620.1 L1179.9,620.1 L1182.7,619.9 L1185.6,619.4 L1188.6,618.5 L1191.6,617.4 L1194.7,616.0 L1197.8,614.4 L1200.8,612.5 L1203.8,610.4 L1206.7,608.0 L1209.5,605.4 L1212.2,602.7 L1214.8,599.7 L1217.2,596.7 L1219.4,593.5 L1221.5,590.2 L1223.4,586.9 L1225.0,583.5 L1226.4,580.1 L1227.6,576.7 L1228.5,573.3 L1229.2,570.0 L1229.6,566.8 Z M1222.1,569.8 L1221.8,572.4 L1221.3,575.0 L1220.5,577.6 L1219.6,580.3 L1218.5,583.0 L1217.2,585.6 L1215.8,588.3 L1214.1,590.8 L1212.4,593.3 L1210.5,595.7 L1208.5,598.0 L1206.3,600.2 L1204.1,602.2 L1201.8,604.1 L1199.5,605.8 L1197.1,607.2 L1194.7,608.5 L1192.3,609.6 L1189.9,610.5 L1187.6,611.1 L1185.3,611.6 L1183.1,611.7 L1181.0,611.7 L1178.9,611.4 L1177.0,610.9 L1175.3,610.2 L1173.6,609.2 L1172.2,608.0 L1170.9,606.6 L1169.8,605.1 L1168.9,603.3 L1168.1,601.4 L1167.6,599.3 L1167.3,597.1 L1167.2,594.7 L1167.3,592.3 L1167.6,589.7 L1168.1,587.1 L1168.9,584.5 L1169.8,581.8 L1170.9,579.1 L1172.2,576.5 L1173.6,573.8 L1175.3,571.3 L1177.0,568.8 L1178.9,566.4 L1181.0,564.1 L1183.1,561.9 L1185.3,559.9 L1187.6,558.0 L1189.9,556.3 L1192.3,554.8 L1194.7,553.5 L1197.1,552.5 L1199.5,551.6 L1201.8,550.9 L1204.1,550.5 L1206.3,550.3 L1208.5,550.4 L1210.5,550.7 L1212.4,551.2 L1214.1,551.9 L1215.8,552.9 L1217.2,554.1 L1218.5,555.5 L1219.6,557.0 L1220.5,558.8 L1221.3,560.7 L1221.8,562.8 L1222.1,565.0 L1222.2,567.4 Z" fill="#dddddd" stroke="#000" stroke-width="0.8" fill-rule="evenodd"/>
<path d="M1232.3,564.9 L1232.2,561.9 L1231.8,559.1 L1231.1,556.5 L1230.2,554.0 L1229.0,551.8 L1227.6,549.8 L1226.0,548.0 L1224.1,546.5 L1222.0,545.3 L1219.8,544.3 L1217.4,543.7 L1214.8,543.3 L1212.1,543.2 L1209.3,543.5 L1206.4,544.0 L1203.4,544.8 L1200.4,545.9 L1197.3,547.3 L1194.2,549.0 L1191.2,550.9 L1188.2,553.0 L1185.3,555.4 L1182.5,557.9 L1179.8,560.7 L1177.2,563.6 L1174.8,566.7 L1172.6,569.9 L1170.5,573.1 L1168.6,576.5 L1167.0,579.9 L1165.6,583.3 L1164.4,586.7 L1163.5,590.1 L1162.8,593.4 L1162.4,596.6 L1162.3,599.7 L1162.4,602.7 L1162.8,605.5 L1163.5,608.2 L1164.4,610.6 L1165.6,612.9 L1167.0,614.9 L1168.6,616.6 L1170.5,618.1 L1172.6,619.4 L1174.8,620.3 L1177.2,621.0 L1179.8,621.3 L1182.5,621.4 L1185.3,621.2 L1188.2,620.6 L1191.2,619.8 L1194.2,618.7 L1197.3,617.3 L1200.4,615.7 L1203.4,613.8 L1206.4,611.6 L1209.3,609.3 L1212.1,606.7 L1214.8,603.9 L1217.4,601.0 L1219.8,597.9 L1222.0,594.8 L1224.1,591.5 L1226.0,588.1 L1227.6,584.8 L1229.0,581.3 L1230.2,577.9 L1231.1,574.6 L1231.8,571.3 L1232.2,568.0 Z M1224.7,571.1 L1224.4,573.6 L1223.9,576.2 L1223.1,578.9 L1222.2,581.6 L1221.1,584.2 L1219.8,586.9 L1218.4,589.5 L1216.7,592.1 L1215.0,594.6 L1213.1,597.0 L1211.0,599.3 L1208.9,601.5 L1206.7,603.5 L1204.4,605.3 L1202.1,607.0 L1199.7,608.5 L1197.3,609.8 L1194.9,610.9 L1192.5,611.8 L1190.2,612.4 L1187.9,612.8 L1185.7,613.0 L1183.5,613.0 L1181.5,612.7 L1179.6,612.2 L1177.9,611.4 L1176.2,610.5 L1174.8,609.3 L1173.5,607.9 L1172.4,606.3 L1171.5,604.6 L1170.7,602.6 L1170.2,600.6 L1169.9,598.3 L1169.8,596.0 L1169.9,593.5 L1170.2,591.0 L1170.7,588.4 L1171.5,585.8 L1172.4,583.1 L1173.5,580.4 L1174.8,577.7 L1176.2,575.1 L1177.9,572.5 L1179.6,570.0 L1181.5,567.6 L1183.5,565.3 L1185.7,563.2 L1187.9,561.2 L1190.2,559.3 L1192.5,557.6 L1194.9,556.1 L1197.3,554.8 L1199.7,553.7 L1202.1,552.9 L1204.4,552.2 L1206.7,551.8 L1208.9,551.6 L1211.0,551.7 L1213.1,552.0 L1215.0,552.5 L1216.7,553.2 L1218.4,554.2 L1219.8,555.3 L1221.1,556.7 L1222.2,558.3 L1223.1,560.1 L1223.9,562.0 L1224.4,564.1 L1224.7,566.3 L1224.8,568.7 Z" fill="#dddddd" stroke="#000" stroke-width="0.9" fill-rule="evenodd"/>
<polygon points="1227.0,567.6 1226.9,565.0 1226.5,562.6 1226.0,560.4 1225.2,558.3 1224.2,556.4 1223.0,554.7 1221.6,553.2 1220.1,551.9 1218.3,550.9 1216.4,550.1 1214.3,549.5 1212.1,549.2 1209.9,549.2 1207.5,549.4 1205.0,549.8 1202.5,550.5 1199.9,551.4 1197.3,552.6 1194.7,554.0 1192.1,555.6 1189.6,557.5 1187.1,559.5 1184.7,561.6 1182.5,564.0 1180.3,566.5 1178.2,569.1 1176.3,571.8 1174.5,574.5 1173.0,577.4 1171.6,580.3 1170.4,583.1 1169.4,586.0 1168.6,588.9 1168.1,591.7 1167.7,594.4 1167.6,597.1 1167.7,599.6 1168.1,602.0 1168.6,604.3 1169.4,606.3 1170.4,608.2 1171.6,610.0 1173.0,611.4 1174.5,612.7 1176.3,613.8 1178.2,614.6 1180.3,615.1 1182.5,615.4 1184.7,615.5 1187.1,615.3 1189.6,614.8 1192.1,614.1 1194.7,613.2 1197.3,612.0 1199.9,610.6 1202.5,609.0 1205.0,607.2 1207.5,605.2 1209.9,603.0 1212.1,600.7 1214.3,598.2 1216.4,595.6 1218.3,592.9 1220.1,590.1 1221.6,587.3 1223.0,584.4 1224.2,581.5 1225.2,578.6 1226.0,575.7 1226.5,572.9 1226.9,570.2" fill="none" stroke="#000" stroke-width="0.6" stroke-linejoin="round"/>
<polygon points="1223.4,569.3 1223.3,567.1 1223.0,565.0 1222.5,563.0 1221.8,561.2 1221.0,559.5 1219.9,558.0 1218.7,556.7 1217.3,555.6 1215.8,554.7 1214.1,554.0 1212.3,553.5 1210.3,553.2 1208.3,553.2 1206.2,553.4 1204.1,553.8 1201.8,554.4 1199.6,555.2 1197.3,556.2 1195.0,557.4 1192.8,558.9 1190.5,560.5 1188.4,562.2 1186.3,564.1 1184.2,566.2 1182.3,568.4 1180.5,570.7 1178.8,573.0 1177.3,575.5 1175.9,578.0 1174.7,580.5 1173.6,583.0 1172.8,585.6 1172.1,588.1 1171.6,590.6 1171.3,593.0 1171.2,595.3 1171.3,597.5 1171.6,599.6 1172.1,601.6 1172.8,603.4 1173.6,605.1 1174.7,606.6 1175.9,607.9 1177.3,609.0 1178.8,609.9 1180.5,610.7 1182.3,611.1 1184.2,611.4 1186.3,611.5 1188.4,611.3 1190.5,610.9 1192.8,610.3 1195.0,609.5 1197.3,608.4 1199.6,607.2 1201.8,605.8 1204.1,604.2 1206.2,602.4 1208.3,600.5 1210.3,598.4 1212.3,596.3 1214.1,594.0 1215.8,591.6 1217.3,589.2 1218.7,586.7 1219.9,584.1 1221.0,581.6 1221.8,579.1 1222.5,576.5 1223.0,574.1 1223.3,571.7" fill="none" stroke="#000" stroke-width="0.7" stroke-linejoin="round"/>
<line x1="1199.8" y1="584.3" x2="1222.7" y2="563.9" stroke="#000" stroke-width="0.95"/>
<line x1="1199.8" y1="584.3" x2="1217.7" y2="555.9" stroke="#000" stroke-width="0.95"/>
<line x1="1199.8" y1="584.3" x2="1208.6" y2="553.2" stroke="#000" stroke-width="0.95"/>
<line x1="1199.8" y1="584.3" x2="1197.3" y2="556.2" stroke="#000" stroke-width="0.95"/>
<line x1="1199.8" y1="584.3" x2="1186.0" y2="564.4" stroke="#000" stroke-width="0.95"/>
<line x1="1199.8" y1="584.3" x2="1176.9" y2="576.2" stroke="#000" stroke-width="0.95"/>
<line x1="1199.8" y1="584.3" x2="1171.9" y2="589.2" stroke="#000" stroke-width="0.95"/>
<line x1="1199.8" y1="584.3" x2="1171.9" y2="600.8" stroke="#000" stroke-width="0.95"/>
<line x1="1199.8" y1="584.3" x2="1176.9" y2="608.7" stroke="#000" stroke-width="0.95"/>
<line x1="1199.8" y1="584.3" x2="1186.0" y2="611.5" stroke="#000" stroke-width="0.95"/>
<line x1="1199.8" y1="584.3" x2="1197.3" y2="608.4" stroke="#000" stroke-width="0.95"/>
<line x1="1199.8" y1="584.3" x2="1208.6" y2="600.2" stroke="#000" stroke-width="0.95"/>
<line x1="1199.8" y1="584.3" x2="1217.7" y2="588.5" stroke="#000" stroke-width="0.95"/>
<line x1="1199.8" y1="584.3" x2="1222.7" y2="575.5" stroke="#000" stroke-width="0.95"/>
<circle cx="1199.8" cy="584.3" r="1.6" fill="#000"/>
<polygon points="1167.6,595.9 1174.0,599.1 1300.6,536.1 1294.2,533.0" fill="#dddddd" stroke="#000" stroke-width="0.9" stroke-linejoin="round"/>
<polygon points="1167.6,602.3 1174.0,605.5 1174.0,599.1 1167.6,595.9" fill="#dddddd" stroke="#000" stroke-width="0.9" stroke-linejoin="round"/>
<polygon points="1174.0,605.5 1300.6,542.5 1300.6,536.1 1174.0,599.1" fill="#dddddd" stroke="#000" stroke-width="0.9" stroke-linejoin="round"/><polygon points="1302.1,661.8 1308.5,665.0 1435.1,602.0 1428.7,598.9" fill="#dddddd" stroke="#000" stroke-width="0.9" stroke-linejoin="round"/>
<polygon points="1302.1,668.2 1308.5,671.4 1308.5,665.0 1302.1,661.8" fill="#dddddd" stroke="#000" stroke-width="0.9" stroke-linejoin="round"/>
<polygon points="1308.5,671.4 1435.1,608.4 1435.1,602.0 1308.5,665.0" fill="#dddddd" stroke="#000" stroke-width="0.9" stroke-linejoin="round"/>
<polygon points="1173.8,596.7 1293.8,655.5 1387.3,609.0 1267.3,550.2" fill="#9dcedd" stroke="#000" stroke-width="0.9" stroke-linejoin="round"/>
<polygon points="1173.8,597.9 1293.8,656.7 1293.8,655.5 1173.8,596.7" fill="#9dcedd" stroke="#000" stroke-width="0.9" stroke-linejoin="round"/>
<polygon points="1293.8,656.7 1387.3,610.2 1387.3,609.0 1293.8,655.5" fill="#9dcedd" stroke="#000" stroke-width="0.9" stroke-linejoin="round"/>
<path d="M1374.2,634.5 L1374.1,631.5 L1373.7,628.6 L1373.0,626.0 L1372.1,623.5 L1370.9,621.3 L1369.5,619.3 L1367.9,617.5 L1366.0,616.0 L1363.9,614.8 L1361.7,613.9 L1359.3,613.2 L1356.7,612.8 L1354.0,612.8 L1351.2,613.0 L1348.3,613.5 L1345.3,614.4 L1342.3,615.5 L1339.2,616.9 L1336.1,618.5 L1333.1,620.4 L1330.1,622.5 L1327.2,624.9 L1324.4,627.5 L1321.7,630.2 L1319.1,633.2 L1316.7,636.2 L1314.5,639.4 L1312.4,642.7 L1310.5,646.0 L1308.9,649.4 L1307.5,652.8 L1306.3,656.2 L1305.4,659.6 L1304.7,662.9 L1304.3,666.1 L1304.2,669.2 L1304.3,672.2 L1304.7,675.1 L1305.4,677.7 L1306.3,680.2 L1307.5,682.4 L1308.9,684.4 L1310.5,686.2 L1312.4,687.7 L1314.5,688.9 L1316.7,689.8 L1319.1,690.5 L1321.7,690.9 L1324.4,690.9 L1327.2,690.7 L1330.1,690.2 L1333.1,689.3 L1336.1,688.2 L1339.2,686.9 L1342.3,685.2 L1345.3,683.3 L1348.3,681.2 L1351.2,678.8 L1354.0,676.2 L1356.7,673.5 L1359.3,670.5 L1361.7,667.5 L1363.9,664.3 L1366.0,661.0 L1367.9,657.7 L1369.5,654.3 L1370.9,650.9 L1372.1,647.5 L1373.0,644.1 L1373.7,640.8 L1374.1,637.6 Z M1366.6,640.6 L1366.3,643.2 L1365.8,645.8 L1365.0,648.4 L1364.1,651.1 L1363.0,653.8 L1361.7,656.4 L1360.3,659.1 L1358.6,661.6 L1356.9,664.1 L1355.0,666.5 L1353.0,668.8 L1350.8,671.0 L1348.6,673.0 L1346.3,674.9 L1344.0,676.6 L1341.6,678.1 L1339.2,679.4 L1336.8,680.4 L1334.4,681.3 L1332.1,682.0 L1329.8,682.4 L1327.6,682.5 L1325.5,682.5 L1323.4,682.2 L1321.5,681.7 L1319.8,681.0 L1318.1,680.0 L1316.7,678.8 L1315.4,677.4 L1314.3,675.9 L1313.4,674.1 L1312.6,672.2 L1312.1,670.1 L1311.8,667.9 L1311.7,665.5 L1311.8,663.1 L1312.1,660.5 L1312.6,657.9 L1313.4,655.3 L1314.3,652.6 L1315.4,649.9 L1316.7,647.3 L1318.1,644.6 L1319.8,642.1 L1321.5,639.6 L1323.4,637.2 L1325.5,634.9 L1327.6,632.7 L1329.8,630.7 L1332.1,628.8 L1334.4,627.1 L1336.8,625.6 L1339.2,624.4 L1341.6,623.3 L1344.0,622.4 L1346.3,621.7 L1348.6,621.3 L1350.8,621.2 L1353.0,621.2 L1355.0,621.5 L1356.9,622.0 L1358.6,622.7 L1360.3,623.7 L1361.7,624.9 L1363.0,626.3 L1364.1,627.8 L1365.0,629.6 L1365.8,631.5 L1366.3,633.6 L1366.6,635.8 L1366.7,638.2 Z" fill="#dddddd" stroke="#000" stroke-width="0.8" fill-rule="evenodd"/>
<path d="M1376.8,635.7 L1376.7,632.7 L1376.3,629.9 L1375.6,627.3 L1374.7,624.8 L1373.5,622.6 L1372.1,620.6 L1370.5,618.8 L1368.6,617.3 L1366.5,616.1 L1364.3,615.1 L1361.9,614.5 L1359.3,614.1 L1356.6,614.1 L1353.8,614.3 L1350.9,614.8 L1347.9,615.6 L1344.9,616.7 L1341.8,618.1 L1338.7,619.8 L1335.7,621.7 L1332.7,623.8 L1329.8,626.2 L1327.0,628.8 L1324.3,631.5 L1321.7,634.4 L1319.3,637.5 L1317.1,640.7 L1315.0,644.0 L1313.1,647.3 L1311.5,650.7 L1310.1,654.1 L1308.9,657.5 L1308.0,660.9 L1307.3,664.2 L1306.9,667.4 L1306.8,670.5 L1306.9,673.5 L1307.3,676.3 L1308.0,679.0 L1308.9,681.4 L1310.1,683.7 L1311.5,685.7 L1313.1,687.4 L1315.0,688.9 L1317.1,690.2 L1319.3,691.1 L1321.7,691.8 L1324.3,692.1 L1327.0,692.2 L1329.8,692.0 L1332.7,691.4 L1335.7,690.6 L1338.7,689.5 L1341.8,688.1 L1344.9,686.5 L1347.9,684.6 L1350.9,682.4 L1353.8,680.1 L1356.6,677.5 L1359.3,674.7 L1361.9,671.8 L1364.3,668.8 L1366.5,665.6 L1368.6,662.3 L1370.5,659.0 L1372.1,655.6 L1373.5,652.2 L1374.7,648.7 L1375.6,645.4 L1376.3,642.1 L1376.7,638.8 Z M1369.2,641.9 L1368.9,644.4 L1368.4,647.0 L1367.6,649.7 L1366.7,652.4 L1365.6,655.0 L1364.3,657.7 L1362.9,660.3 L1361.2,662.9 L1359.5,665.4 L1357.6,667.8 L1355.5,670.1 L1353.4,672.3 L1351.2,674.3 L1348.9,676.1 L1346.6,677.8 L1344.2,679.3 L1341.8,680.6 L1339.4,681.7 L1337.0,682.6 L1334.7,683.2 L1332.4,683.6 L1330.2,683.8 L1328.0,683.8 L1326.0,683.5 L1324.1,683.0 L1322.4,682.2 L1320.7,681.3 L1319.3,680.1 L1318.0,678.7 L1316.9,677.1 L1316.0,675.4 L1315.2,673.4 L1314.7,671.4 L1314.4,669.1 L1314.3,666.8 L1314.4,664.3 L1314.7,661.8 L1315.2,659.2 L1316.0,656.6 L1316.9,653.9 L1318.0,651.2 L1319.3,648.5 L1320.7,645.9 L1322.4,643.3 L1324.1,640.8 L1326.0,638.4 L1328.0,636.1 L1330.2,634.0 L1332.4,632.0 L1334.7,630.1 L1337.0,628.4 L1339.4,626.9 L1341.8,625.6 L1344.2,624.5 L1346.6,623.7 L1348.9,623.0 L1351.2,622.6 L1353.4,622.4 L1355.5,622.5 L1357.6,622.8 L1359.5,623.3 L1361.2,624.0 L1362.9,625.0 L1364.3,626.2 L1365.6,627.5 L1366.7,629.1 L1367.6,630.9 L1368.4,632.8 L1368.9,634.9 L1369.2,637.1 L1369.3,639.5 Z" fill="#dddddd" stroke="#000" stroke-width="0.9" fill-rule="evenodd"/>
<polygon points="1371.5,638.4 1371.4,635.8 1371.0,633.4 1370.5,631.2 1369.7,629.1 1368.7,627.2 1367.5,625.5 1366.1,624.0 1364.6,622.7 1362.8,621.7 1360.9,620.9 1358.8,620.3 1356.6,620.0 1354.4,620.0 1352.0,620.2 1349.5,620.6 1347.0,621.3 1344.4,622.3 1341.8,623.4 1339.2,624.8 1336.6,626.4 1334.1,628.3 1331.6,630.3 1329.2,632.4 1327.0,634.8 1324.8,637.3 1322.7,639.9 1320.8,642.6 1319.0,645.3 1317.5,648.2 1316.1,651.1 1314.9,654.0 1313.9,656.8 1313.1,659.7 1312.6,662.5 1312.2,665.2 1312.1,667.9 1312.2,670.4 1312.6,672.8 1313.1,675.1 1313.9,677.2 1314.9,679.1 1316.1,680.8 1317.5,682.3 1319.0,683.5 1320.8,684.6 1322.7,685.4 1324.8,685.9 1327.0,686.2 1329.2,686.3 1331.6,686.1 1334.1,685.6 1336.6,684.9 1339.2,684.0 1341.8,682.8 1344.4,681.4 1347.0,679.8 1349.5,678.0 1352.0,676.0 1354.4,673.8 1356.6,671.5 1358.8,669.0 1360.9,666.4 1362.8,663.7 1364.6,660.9 1366.1,658.1 1367.5,655.2 1368.7,652.3 1369.7,649.4 1370.5,646.6 1371.0,643.7 1371.4,641.0" fill="none" stroke="#000" stroke-width="0.6" stroke-linejoin="round"/>
<polygon points="1367.9,640.2 1367.8,637.9 1367.5,635.8 1367.0,633.8 1366.3,632.0 1365.5,630.3 1364.4,628.8 1363.2,627.5 1361.8,626.4 1360.3,625.5 1358.6,624.8 1356.8,624.3 1354.8,624.0 1352.8,624.0 1350.7,624.2 1348.6,624.6 1346.3,625.2 1344.1,626.0 1341.8,627.0 1339.5,628.3 1337.3,629.7 1335.0,631.3 1332.9,633.0 1330.8,635.0 1328.8,637.0 1326.8,639.2 1325.0,641.5 1323.3,643.8 1321.8,646.3 1320.4,648.8 1319.2,651.3 1318.1,653.9 1317.3,656.4 1316.6,658.9 1316.1,661.4 1315.8,663.8 1315.7,666.1 1315.8,668.3 1316.1,670.4 1316.6,672.4 1317.3,674.2 1318.1,675.9 1319.2,677.4 1320.4,678.7 1321.8,679.8 1323.3,680.8 1325.0,681.5 1326.8,681.9 1328.8,682.2 1330.8,682.3 1332.9,682.1 1335.0,681.7 1337.3,681.1 1339.5,680.3 1341.8,679.2 1344.1,678.0 1346.3,676.6 1348.6,675.0 1350.7,673.2 1352.8,671.3 1354.8,669.2 1356.8,667.1 1358.6,664.8 1360.3,662.4 1361.8,660.0 1363.2,657.5 1364.4,654.9 1365.5,652.4 1366.3,649.9 1367.0,647.3 1367.5,644.9 1367.8,642.5" fill="none" stroke="#000" stroke-width="0.7" stroke-linejoin="round"/>
<line x1="1344.3" y1="655.1" x2="1367.2" y2="634.7" stroke="#000" stroke-width="0.95"/>
<line x1="1344.3" y1="655.1" x2="1362.2" y2="626.7" stroke="#000" stroke-width="0.95"/>
<line x1="1344.3" y1="655.1" x2="1353.1" y2="624.0" stroke="#000" stroke-width="0.95"/>
<line x1="1344.3" y1="655.1" x2="1341.8" y2="627.0" stroke="#000" stroke-width="0.95"/>
<line x1="1344.3" y1="655.1" x2="1330.5" y2="635.2" stroke="#000" stroke-width="0.95"/>
<line x1="1344.3" y1="655.1" x2="1321.4" y2="647.0" stroke="#000" stroke-width="0.95"/>
<line x1="1344.3" y1="655.1" x2="1316.4" y2="660.0" stroke="#000" stroke-width="0.95"/>
<line x1="1344.3" y1="655.1" x2="1316.4" y2="671.6" stroke="#000" stroke-width="0.95"/>
<line x1="1344.3" y1="655.1" x2="1321.4" y2="679.5" stroke="#000" stroke-width="0.95"/>
<line x1="1344.3" y1="655.1" x2="1330.5" y2="682.3" stroke="#000" stroke-width="0.95"/>
<line x1="1344.3" y1="655.1" x2="1341.8" y2="679.2" stroke="#000" stroke-width="0.95"/>
<line x1="1344.3" y1="655.1" x2="1353.1" y2="671.0" stroke="#000" stroke-width="0.95"/>
<line x1="1344.3" y1="655.1" x2="1362.2" y2="659.3" stroke="#000" stroke-width="0.95"/>
<line x1="1344.3" y1="655.1" x2="1367.2" y2="646.3" stroke="#000" stroke-width="0.95"/>
<circle cx="1344.3" cy="655.1" r="1.6" fill="#000"/>
<polygon points="1102.7,518.2 1161.2,546.9 1294.2,480.8 1235.7,452.1" fill="#9dcedd" stroke="#000" stroke-width="0.9" stroke-linejoin="round"/>
<polygon points="1102.7,519.7 1161.2,548.4 1161.2,546.9 1102.7,518.2" fill="#9dcedd" stroke="#000" stroke-width="0.9" stroke-linejoin="round"/>
<polygon points="1161.2,548.4 1294.2,482.3 1294.2,480.8 1161.2,546.9" fill="#9dcedd" stroke="#000" stroke-width="0.9" stroke-linejoin="round"/>
<polygon points="1302.1,616.8 1358.9,644.7 1491.9,578.6 1435.1,550.7" fill="#9dcedd" stroke="#000" stroke-width="0.9" stroke-linejoin="round"/>
<polygon points="1302.1,618.2 1358.9,646.1 1358.9,644.7 1302.1,616.8" fill="#9dcedd" stroke="#000" stroke-width="0.9" stroke-linejoin="round"/>
<polygon points="1358.9,646.1 1491.9,580.0 1491.9,578.6 1358.9,644.7" fill="#9dcedd" stroke="#000" stroke-width="0.9" stroke-linejoin="round"/>
<polygon points="1235.7,395.6 1493.7,522.1 1500.1,518.9 1242.1,392.5" fill="#dddddd" stroke="#000" stroke-width="0.9" stroke-linejoin="round"/>
<polygon points="1235.7,403.4 1493.7,529.9 1493.7,522.1 1235.7,395.6" fill="#dddddd" stroke="#000" stroke-width="0.9" stroke-linejoin="round"/>
<polygon points="1493.7,529.9 1500.1,526.7 1500.1,518.9 1493.7,522.1" fill="#dddddd" stroke="#000" stroke-width="0.9" stroke-linejoin="round"/>
<polygon points="1102.7,455.4 1109.1,458.6 1235.7,395.6 1229.3,392.5" fill="#dddddd" stroke="#000" stroke-width="0.9" stroke-linejoin="round"/>
<polygon points="1102.7,463.2 1109.1,466.4 1109.1,458.6 1102.7,455.4" fill="#dddddd" stroke="#000" stroke-width="0.9" stroke-linejoin="round"/>
<polygon points="1109.1,466.4 1235.7,403.4 1235.7,395.6 1109.1,458.6" fill="#dddddd" stroke="#000" stroke-width="0.9" stroke-linejoin="round"/>
<polygon points="1096.3,458.6 1367.1,591.3 1506.5,522.0 1235.7,389.3" fill="#9dcedd" stroke="#000" stroke-width="0.9" stroke-linejoin="round"/>
<line x1="1109.1" y1="458.6" x2="1367.1" y2="585.0" stroke="#000" stroke-width="0.75"/><line x1="1367.1" y1="585.0" x2="1493.7" y2="522.1" stroke="#000" stroke-width="0.75"/><line x1="1111.7" y1="457.3" x2="1367.1" y2="582.4" stroke="#000" stroke-width="0.75"/><line x1="1367.1" y1="582.4" x2="1491.1" y2="520.8" stroke="#000" stroke-width="0.75"/>
<line x1="1167.4" y1="487.1" x2="1289.0" y2="426.7" stroke="#000" stroke-width="0.8"/>
<line x1="1302.7" y1="553.4" x2="1424.3" y2="493.0" stroke="#000" stroke-width="0.8"/>
<polygon points="1102.3,458.7 1127.8,471.2 1264.2,403.4 1238.7,390.9" fill="#9dcedd" stroke="#000" stroke-width="0.9" stroke-linejoin="round"/>
<polygon points="1102.3,460.3 1127.8,472.8 1127.8,471.2 1102.3,458.7" fill="#9dcedd" stroke="#000" stroke-width="0.9" stroke-linejoin="round"/>
<polygon points="1127.8,472.8 1264.2,405.0 1264.2,403.4 1127.8,471.2" fill="#9dcedd" stroke="#000" stroke-width="0.9" stroke-linejoin="round"/>
<polygon points="1236.5,361.3 1252.5,369.2 1255.3,367.8 1239.3,359.9" fill="#35555e" stroke="#000" stroke-width="0.75" stroke-linejoin="round"/>
<polygon points="1252.5,401.9 1255.3,400.5 1255.3,367.8 1252.5,369.2" fill="#9dcedd" stroke="#000" stroke-width="0.6" stroke-linejoin="round"/>
<polygon points="1234.0,362.0 1250.0,369.8 1252.5,368.6 1236.5,360.7" fill="#35555e" stroke="#000" stroke-width="0.75" stroke-linejoin="round"/>
<polygon points="1250.0,403.1 1252.5,401.9 1252.5,368.6 1250.0,369.8" fill="#9dcedd" stroke="#000" stroke-width="0.6" stroke-linejoin="round"/>
<polygon points="1230.5,365.2 1246.5,373.1 1250.0,371.3 1234.0,363.5" fill="#35555e" stroke="#000" stroke-width="0.75" stroke-linejoin="round"/>
<polygon points="1246.5,404.8 1250.0,403.1 1250.0,371.3 1246.5,373.1" fill="#9dcedd" stroke="#000" stroke-width="0.6" stroke-linejoin="round"/>
<polygon points="1228.3,364.7 1244.3,372.6 1246.5,371.5 1230.5,363.6" fill="#35555e" stroke="#000" stroke-width="0.75" stroke-linejoin="round"/>
<polygon points="1244.3,405.9 1246.5,404.8 1246.5,371.5 1244.3,372.6" fill="#9dcedd" stroke="#000" stroke-width="0.6" stroke-linejoin="round"/>
<polygon points="1225.5,365.8 1241.5,373.6 1244.3,372.3 1228.3,364.4" fill="#35555e" stroke="#000" stroke-width="0.75" stroke-linejoin="round"/>
<polygon points="1241.5,407.3 1244.3,405.9 1244.3,372.3 1241.5,373.6" fill="#9dcedd" stroke="#000" stroke-width="0.6" stroke-linejoin="round"/>
<polygon points="1222.7,367.1 1238.7,375.0 1241.5,373.6 1225.5,365.7" fill="#35555e" stroke="#000" stroke-width="0.75" stroke-linejoin="round"/>
<polygon points="1238.7,408.7 1241.5,407.3 1241.5,373.6 1238.7,375.0" fill="#9dcedd" stroke="#000" stroke-width="0.6" stroke-linejoin="round"/>
<polygon points="1219.6,368.4 1235.6,376.2 1238.7,374.7 1222.7,366.9" fill="#35555e" stroke="#000" stroke-width="0.75" stroke-linejoin="round"/>
<polygon points="1235.6,410.3 1238.7,408.7 1238.7,374.7 1235.6,376.2" fill="#9dcedd" stroke="#000" stroke-width="0.6" stroke-linejoin="round"/>
<polygon points="1216.1,370.1 1232.1,377.9 1235.6,376.2 1219.6,368.3" fill="#35555e" stroke="#000" stroke-width="0.75" stroke-linejoin="round"/>
<polygon points="1232.1,412.0 1235.6,410.3 1235.6,376.2 1232.1,377.9" fill="#9dcedd" stroke="#000" stroke-width="0.6" stroke-linejoin="round"/>
<polygon points="1213.9,372.3 1229.9,380.2 1232.1,379.1 1216.1,371.2" fill="#35555e" stroke="#000" stroke-width="0.75" stroke-linejoin="round"/>
<polygon points="1229.9,413.1 1232.1,412.0 1232.1,379.1 1229.9,380.2" fill="#9dcedd" stroke="#000" stroke-width="0.6" stroke-linejoin="round"/>
<polygon points="1211.4,371.9 1227.4,379.7 1229.9,378.5 1213.9,370.6" fill="#35555e" stroke="#000" stroke-width="0.75" stroke-linejoin="round"/>
<polygon points="1227.4,414.3 1229.9,413.1 1229.9,378.5 1227.4,379.7" fill="#9dcedd" stroke="#000" stroke-width="0.6" stroke-linejoin="round"/>
<polygon points="1209.2,372.3 1225.2,380.2 1227.4,379.1 1211.4,371.2" fill="#35555e" stroke="#000" stroke-width="0.75" stroke-linejoin="round"/>
<polygon points="1225.2,415.4 1227.4,414.3 1227.4,379.1 1225.2,380.2" fill="#9dcedd" stroke="#000" stroke-width="0.6" stroke-linejoin="round"/>
<polygon points="1206.1,374.4 1222.1,382.2 1225.2,380.7 1209.2,372.9" fill="#35555e" stroke="#000" stroke-width="0.75" stroke-linejoin="round"/>
<polygon points="1222.1,417.0 1225.2,415.4 1225.2,380.7 1222.1,382.2" fill="#9dcedd" stroke="#000" stroke-width="0.6" stroke-linejoin="round"/>
<polygon points="1203.9,375.5 1219.9,383.4 1222.1,382.3 1206.1,374.4" fill="#35555e" stroke="#000" stroke-width="0.75" stroke-linejoin="round"/>
<polygon points="1219.9,418.1 1222.1,417.0 1222.1,382.3 1219.9,383.4" fill="#9dcedd" stroke="#000" stroke-width="0.6" stroke-linejoin="round"/>
<polygon points="1200.4,376.9 1216.4,384.8 1219.9,383.0 1203.9,375.2" fill="#35555e" stroke="#000" stroke-width="0.75" stroke-linejoin="round"/>
<polygon points="1216.4,419.8 1219.9,418.1 1219.9,383.0 1216.4,384.8" fill="#9dcedd" stroke="#000" stroke-width="0.6" stroke-linejoin="round"/>
<polygon points="1197.9,377.6 1213.9,385.4 1216.4,384.2 1200.4,376.4" fill="#35555e" stroke="#000" stroke-width="0.75" stroke-linejoin="round"/>
<polygon points="1213.9,421.0 1216.4,419.8 1216.4,384.2 1213.9,385.4" fill="#9dcedd" stroke="#000" stroke-width="0.6" stroke-linejoin="round"/>
<polygon points="1195.7,378.6 1211.7,386.4 1213.9,385.3 1197.9,377.5" fill="#35555e" stroke="#000" stroke-width="0.75" stroke-linejoin="round"/>
<polygon points="1211.7,422.1 1213.9,421.0 1213.9,385.3 1211.7,386.4" fill="#9dcedd" stroke="#000" stroke-width="0.6" stroke-linejoin="round"/>
<polygon points="1192.9,382.0 1208.9,389.9 1211.7,388.5 1195.7,380.7" fill="#35555e" stroke="#000" stroke-width="0.75" stroke-linejoin="round"/>
<polygon points="1208.9,423.5 1211.7,422.1 1211.7,388.5 1208.9,389.9" fill="#9dcedd" stroke="#000" stroke-width="0.6" stroke-linejoin="round"/>
<polygon points="1190.4,383.7 1206.4,391.6 1208.9,390.3 1192.9,382.5" fill="#35555e" stroke="#000" stroke-width="0.75" stroke-linejoin="round"/>
<polygon points="1206.4,424.8 1208.9,423.5 1208.9,390.3 1206.4,391.6" fill="#9dcedd" stroke="#000" stroke-width="0.6" stroke-linejoin="round"/>
<polygon points="1186.9,385.5 1202.9,393.3 1206.4,391.6 1190.4,383.8" fill="#35555e" stroke="#000" stroke-width="0.75" stroke-linejoin="round"/>
<polygon points="1202.9,426.5 1206.4,424.8 1206.4,391.6 1202.9,393.3" fill="#9dcedd" stroke="#000" stroke-width="0.6" stroke-linejoin="round"/>
<polygon points="1184.7,386.3 1200.7,394.1 1202.9,393.0 1186.9,385.2" fill="#35555e" stroke="#000" stroke-width="0.75" stroke-linejoin="round"/>
<polygon points="1200.7,427.6 1202.9,426.5 1202.9,393.0 1200.7,394.1" fill="#9dcedd" stroke="#000" stroke-width="0.6" stroke-linejoin="round"/>
<polygon points="1181.9,388.0 1197.9,395.8 1200.7,394.4 1184.7,386.6" fill="#35555e" stroke="#000" stroke-width="0.75" stroke-linejoin="round"/>
<polygon points="1197.9,429.0 1200.7,427.6 1200.7,394.4 1197.9,395.8" fill="#9dcedd" stroke="#000" stroke-width="0.6" stroke-linejoin="round"/>
<polygon points="1178.4,390.4 1194.4,398.3 1197.9,396.5 1181.9,388.7" fill="#35555e" stroke="#000" stroke-width="0.75" stroke-linejoin="round"/>
<polygon points="1194.4,430.7 1197.9,429.0 1197.9,396.5 1194.4,398.3" fill="#9dcedd" stroke="#000" stroke-width="0.6" stroke-linejoin="round"/>
<polygon points="1175.3,394.0 1191.3,401.9 1194.4,400.3 1178.4,392.5" fill="#35555e" stroke="#000" stroke-width="0.75" stroke-linejoin="round"/>
<polygon points="1191.3,432.3 1194.4,430.7 1194.4,400.3 1191.3,401.9" fill="#9dcedd" stroke="#000" stroke-width="0.6" stroke-linejoin="round"/>
<polygon points="1172.5,395.7 1188.5,403.5 1191.3,402.1 1175.3,394.3" fill="#35555e" stroke="#000" stroke-width="0.75" stroke-linejoin="round"/>
<polygon points="1188.5,433.7 1191.3,432.3 1191.3,402.1 1188.5,403.5" fill="#9dcedd" stroke="#000" stroke-width="0.6" stroke-linejoin="round"/>
<polygon points="1169.4,396.6 1185.4,404.5 1188.5,402.9 1172.5,395.1" fill="#35555e" stroke="#000" stroke-width="0.75" stroke-linejoin="round"/>
<polygon points="1185.4,435.2 1188.5,433.7 1188.5,402.9 1185.4,404.5" fill="#9dcedd" stroke="#000" stroke-width="0.6" stroke-linejoin="round"/>
<polygon points="1166.3,399.1 1182.3,406.9 1185.4,405.4 1169.4,397.5" fill="#35555e" stroke="#000" stroke-width="0.75" stroke-linejoin="round"/>
<polygon points="1182.3,436.7 1185.4,435.2 1185.4,405.4 1182.3,406.9" fill="#9dcedd" stroke="#000" stroke-width="0.6" stroke-linejoin="round"/>
<polygon points="1163.8,396.4 1179.8,404.3 1182.3,403.0 1166.3,395.2" fill="#35555e" stroke="#000" stroke-width="0.75" stroke-linejoin="round"/>
<polygon points="1179.8,438.0 1182.3,436.7 1182.3,403.0 1179.8,404.3" fill="#9dcedd" stroke="#000" stroke-width="0.6" stroke-linejoin="round"/>
<polygon points="1160.3,398.9 1176.3,406.7 1179.8,405.0 1163.8,397.1" fill="#35555e" stroke="#000" stroke-width="0.75" stroke-linejoin="round"/>
<polygon points="1176.3,439.7 1179.8,438.0 1179.8,405.0 1176.3,406.7" fill="#9dcedd" stroke="#000" stroke-width="0.6" stroke-linejoin="round"/>
<polygon points="1157.2,400.5 1173.2,408.3 1176.3,406.8 1160.3,398.9" fill="#35555e" stroke="#000" stroke-width="0.75" stroke-linejoin="round"/>
<polygon points="1173.2,441.3 1176.3,439.7 1176.3,406.8 1173.2,408.3" fill="#9dcedd" stroke="#000" stroke-width="0.6" stroke-linejoin="round"/>
<polygon points="1154.1,401.5 1170.1,409.3 1173.2,407.8 1157.2,400.0" fill="#35555e" stroke="#000" stroke-width="0.75" stroke-linejoin="round"/>
<polygon points="1170.1,442.8 1173.2,441.3 1173.2,407.8 1170.1,409.3" fill="#9dcedd" stroke="#000" stroke-width="0.6" stroke-linejoin="round"/>
<polygon points="1151.0,403.2 1167.0,411.1 1170.1,409.5 1154.1,401.7" fill="#35555e" stroke="#000" stroke-width="0.75" stroke-linejoin="round"/>
<polygon points="1167.0,444.4 1170.1,442.8 1170.1,409.5 1167.0,411.1" fill="#9dcedd" stroke="#000" stroke-width="0.6" stroke-linejoin="round"/>
<polygon points="1147.5,406.9 1163.5,414.7 1167.0,413.0 1151.0,405.2" fill="#35555e" stroke="#000" stroke-width="0.75" stroke-linejoin="round"/>
<polygon points="1163.5,446.1 1167.0,444.4 1167.0,413.0 1163.5,414.7" fill="#9dcedd" stroke="#000" stroke-width="0.6" stroke-linejoin="round"/>
<polygon points="1145.3,407.8 1161.3,415.6 1163.5,414.6 1147.5,406.7" fill="#35555e" stroke="#000" stroke-width="0.75" stroke-linejoin="round"/>
<polygon points="1161.3,447.2 1163.5,446.1 1163.5,414.6 1161.3,415.6" fill="#9dcedd" stroke="#000" stroke-width="0.6" stroke-linejoin="round"/>
<polygon points="1143.1,408.1 1159.1,415.9 1161.3,414.8 1145.3,407.0" fill="#35555e" stroke="#000" stroke-width="0.75" stroke-linejoin="round"/>
<polygon points="1159.1,448.3 1161.3,447.2 1161.3,414.8 1159.1,415.9" fill="#9dcedd" stroke="#000" stroke-width="0.6" stroke-linejoin="round"/>
<polygon points="1139.6,410.3 1155.6,418.1 1159.1,416.4 1143.1,408.5" fill="#35555e" stroke="#000" stroke-width="0.75" stroke-linejoin="round"/>
<polygon points="1155.6,450.0 1159.1,448.3 1159.1,416.4 1155.6,418.1" fill="#9dcedd" stroke="#000" stroke-width="0.6" stroke-linejoin="round"/>
<polygon points="1137.1,410.8 1153.1,418.6 1155.6,417.3 1139.6,409.5" fill="#35555e" stroke="#000" stroke-width="0.75" stroke-linejoin="round"/>
<polygon points="1153.1,451.3 1155.6,450.0 1155.6,417.3 1153.1,418.6" fill="#9dcedd" stroke="#000" stroke-width="0.6" stroke-linejoin="round"/>
<polygon points="1134.6,413.0 1150.6,420.9 1153.1,419.6 1137.1,411.8" fill="#35555e" stroke="#000" stroke-width="0.75" stroke-linejoin="round"/>
<polygon points="1150.6,452.5 1153.1,451.3 1153.1,419.6 1150.6,420.9" fill="#9dcedd" stroke="#000" stroke-width="0.6" stroke-linejoin="round"/>
<polygon points="1131.1,414.4 1147.1,422.2 1150.6,420.5 1134.6,412.6" fill="#35555e" stroke="#000" stroke-width="0.75" stroke-linejoin="round"/>
<polygon points="1147.1,454.2 1150.6,452.5 1150.6,420.5 1147.1,422.2" fill="#9dcedd" stroke="#000" stroke-width="0.6" stroke-linejoin="round"/>
<polygon points="1128.6,417.5 1144.6,425.3 1147.1,424.1 1131.1,416.2" fill="#35555e" stroke="#000" stroke-width="0.75" stroke-linejoin="round"/>
<polygon points="1144.6,455.5 1147.1,454.2 1147.1,424.1 1144.6,425.3" fill="#9dcedd" stroke="#000" stroke-width="0.6" stroke-linejoin="round"/>
<polygon points="1125.5,418.9 1141.5,426.7 1144.6,425.2 1128.6,417.4" fill="#35555e" stroke="#000" stroke-width="0.75" stroke-linejoin="round"/>
<polygon points="1141.5,457.0 1144.6,455.5 1144.6,425.2 1141.5,426.7" fill="#9dcedd" stroke="#000" stroke-width="0.6" stroke-linejoin="round"/>
<polygon points="1123.3,419.0 1139.3,426.8 1141.5,425.7 1125.5,417.9" fill="#35555e" stroke="#000" stroke-width="0.75" stroke-linejoin="round"/>
<polygon points="1139.3,458.1 1141.5,457.0 1141.5,425.7 1139.3,426.8" fill="#9dcedd" stroke="#000" stroke-width="0.6" stroke-linejoin="round"/>
<polygon points="1119.8,422.0 1135.8,429.9 1139.3,428.1 1123.3,420.3" fill="#35555e" stroke="#000" stroke-width="0.75" stroke-linejoin="round"/>
<polygon points="1135.8,459.9 1139.3,458.1 1139.3,428.1 1135.8,429.9" fill="#9dcedd" stroke="#000" stroke-width="0.6" stroke-linejoin="round"/>
<polygon points="1116.3,423.1 1132.3,431.0 1135.8,429.2 1119.8,421.4" fill="#35555e" stroke="#000" stroke-width="0.75" stroke-linejoin="round"/>
<polygon points="1132.3,461.6 1135.8,459.9 1135.8,429.2 1132.3,431.0" fill="#9dcedd" stroke="#000" stroke-width="0.6" stroke-linejoin="round"/>
<polygon points="1116.3,453.8 1132.3,461.6 1132.3,431.0 1116.3,423.1" fill="#9dcedd" stroke="#000" stroke-width="0.7" stroke-linejoin="round"/>
<polygon points="1102.3,403.6 1129.8,417.1 1266.2,349.3 1238.7,335.8" fill="#9dcedd" stroke="#000" stroke-width="0.9" stroke-linejoin="round"/>
<polygon points="1102.3,405.1 1129.8,418.6 1129.8,417.1 1102.3,403.6" fill="#9dcedd" stroke="#000" stroke-width="0.9" stroke-linejoin="round"/>
<polygon points="1129.8,418.6 1266.2,350.8 1266.2,349.3 1129.8,417.1" fill="#9dcedd" stroke="#000" stroke-width="0.9" stroke-linejoin="round"/>
<polygon points="1235.4,305.9 1251.4,313.7 1253.3,312.8 1237.3,304.9" fill="#35555e" stroke="#000" stroke-width="0.75" stroke-linejoin="round"/>
<polygon points="1251.4,347.3 1253.3,346.4 1253.3,312.8 1251.4,313.7" fill="#9dcedd" stroke="#000" stroke-width="0.6" stroke-linejoin="round"/>
<polygon points="1232.3,308.2 1248.3,316.0 1251.4,314.5 1235.4,306.6" fill="#35555e" stroke="#000" stroke-width="0.75" stroke-linejoin="round"/>
<polygon points="1248.3,348.8 1251.4,347.3 1251.4,314.5 1248.3,316.0" fill="#9dcedd" stroke="#000" stroke-width="0.6" stroke-linejoin="round"/>
<polygon points="1229.2,310.2 1245.2,318.1 1248.3,316.5 1232.3,308.7" fill="#35555e" stroke="#000" stroke-width="0.75" stroke-linejoin="round"/>
<polygon points="1245.2,350.4 1248.3,348.8 1248.3,316.5 1245.2,318.1" fill="#9dcedd" stroke="#000" stroke-width="0.6" stroke-linejoin="round"/>
<polygon points="1226.7,311.0 1242.7,318.8 1245.2,317.6 1229.2,309.7" fill="#35555e" stroke="#000" stroke-width="0.75" stroke-linejoin="round"/>
<polygon points="1242.7,351.6 1245.2,350.4 1245.2,317.6 1242.7,318.8" fill="#9dcedd" stroke="#000" stroke-width="0.6" stroke-linejoin="round"/>
<polygon points="1223.9,312.8 1239.9,320.6 1242.7,319.2 1226.7,311.4" fill="#35555e" stroke="#000" stroke-width="0.75" stroke-linejoin="round"/>
<polygon points="1239.9,353.0 1242.7,351.6 1242.7,319.2 1239.9,320.6" fill="#9dcedd" stroke="#000" stroke-width="0.6" stroke-linejoin="round"/>
<polygon points="1221.7,313.7 1237.7,321.6 1239.9,320.5 1223.9,312.7" fill="#35555e" stroke="#000" stroke-width="0.75" stroke-linejoin="round"/>
<polygon points="1237.7,354.1 1239.9,353.0 1239.9,320.5 1237.7,321.6" fill="#9dcedd" stroke="#000" stroke-width="0.6" stroke-linejoin="round"/>
<polygon points="1218.6,318.4 1234.6,326.2 1237.7,324.7 1221.7,316.8" fill="#35555e" stroke="#000" stroke-width="0.75" stroke-linejoin="round"/>
<polygon points="1234.6,355.7 1237.7,354.1 1237.7,324.7 1234.6,326.2" fill="#9dcedd" stroke="#000" stroke-width="0.6" stroke-linejoin="round"/>
<polygon points="1215.8,320.3 1231.8,328.1 1234.6,326.7 1218.6,318.9" fill="#35555e" stroke="#000" stroke-width="0.75" stroke-linejoin="round"/>
<polygon points="1231.8,357.0 1234.6,355.7 1234.6,326.7 1231.8,328.1" fill="#9dcedd" stroke="#000" stroke-width="0.6" stroke-linejoin="round"/>
<polygon points="1212.7,320.5 1228.7,328.3 1231.8,326.8 1215.8,318.9" fill="#35555e" stroke="#000" stroke-width="0.75" stroke-linejoin="round"/>
<polygon points="1228.7,358.6 1231.8,357.0 1231.8,326.8 1228.7,328.3" fill="#9dcedd" stroke="#000" stroke-width="0.6" stroke-linejoin="round"/>
<polygon points="1209.6,323.0 1225.6,330.8 1228.7,329.3 1212.7,321.4" fill="#35555e" stroke="#000" stroke-width="0.75" stroke-linejoin="round"/>
<polygon points="1225.6,360.1 1228.7,358.6 1228.7,329.3 1225.6,330.8" fill="#9dcedd" stroke="#000" stroke-width="0.6" stroke-linejoin="round"/>
<polygon points="1206.1,323.6 1222.1,331.4 1225.6,329.7 1209.6,321.8" fill="#35555e" stroke="#000" stroke-width="0.75" stroke-linejoin="round"/>
<polygon points="1222.1,361.9 1225.6,360.1 1225.6,329.7 1222.1,331.4" fill="#9dcedd" stroke="#000" stroke-width="0.6" stroke-linejoin="round"/>
<polygon points="1203.0,323.6 1219.0,331.4 1222.1,329.9 1206.1,322.0" fill="#35555e" stroke="#000" stroke-width="0.75" stroke-linejoin="round"/>
<polygon points="1219.0,363.4 1222.1,361.9 1222.1,329.9 1219.0,331.4" fill="#9dcedd" stroke="#000" stroke-width="0.6" stroke-linejoin="round"/>
<polygon points="1200.8,324.3 1216.8,332.1 1219.0,331.0 1203.0,323.2" fill="#35555e" stroke="#000" stroke-width="0.75" stroke-linejoin="round"/>
<polygon points="1216.8,364.5 1219.0,363.4 1219.0,331.0 1216.8,332.1" fill="#9dcedd" stroke="#000" stroke-width="0.6" stroke-linejoin="round"/>
<polygon points="1197.7,327.2 1213.7,335.1 1216.8,333.5 1200.8,325.7" fill="#35555e" stroke="#000" stroke-width="0.75" stroke-linejoin="round"/>
<polygon points="1213.7,366.0 1216.8,364.5 1216.8,333.5 1213.7,335.1" fill="#9dcedd" stroke="#000" stroke-width="0.6" stroke-linejoin="round"/>
<polygon points="1194.2,328.3 1210.2,336.1 1213.7,334.4 1197.7,326.5" fill="#35555e" stroke="#000" stroke-width="0.75" stroke-linejoin="round"/>
<polygon points="1210.2,367.8 1213.7,366.0 1213.7,334.4 1210.2,336.1" fill="#9dcedd" stroke="#000" stroke-width="0.6" stroke-linejoin="round"/>
<polygon points="1191.4,329.4 1207.4,337.2 1210.2,335.8 1194.2,328.0" fill="#35555e" stroke="#000" stroke-width="0.75" stroke-linejoin="round"/>
<polygon points="1207.4,369.2 1210.2,367.8 1210.2,335.8 1207.4,337.2" fill="#9dcedd" stroke="#000" stroke-width="0.6" stroke-linejoin="round"/>
<polygon points="1189.2,329.4 1205.2,337.3 1207.4,336.2 1191.4,328.3" fill="#35555e" stroke="#000" stroke-width="0.75" stroke-linejoin="round"/>
<polygon points="1205.2,370.3 1207.4,369.2 1207.4,336.2 1205.2,337.3" fill="#9dcedd" stroke="#000" stroke-width="0.6" stroke-linejoin="round"/>
<polygon points="1186.1,331.5 1202.1,339.4 1205.2,337.8 1189.2,330.0" fill="#35555e" stroke="#000" stroke-width="0.75" stroke-linejoin="round"/>
<polygon points="1202.1,371.8 1205.2,370.3 1205.2,337.8 1202.1,339.4" fill="#9dcedd" stroke="#000" stroke-width="0.6" stroke-linejoin="round"/>
<polygon points="1183.3,333.3 1199.3,341.2 1202.1,339.8 1186.1,331.9" fill="#35555e" stroke="#000" stroke-width="0.75" stroke-linejoin="round"/>
<polygon points="1199.3,373.2 1202.1,371.8 1202.1,339.8 1199.3,341.2" fill="#9dcedd" stroke="#000" stroke-width="0.6" stroke-linejoin="round"/>
<polygon points="1180.2,334.9 1196.2,342.7 1199.3,341.2 1183.3,333.3" fill="#35555e" stroke="#000" stroke-width="0.75" stroke-linejoin="round"/>
<polygon points="1196.2,374.7 1199.3,373.2 1199.3,341.2 1196.2,342.7" fill="#9dcedd" stroke="#000" stroke-width="0.6" stroke-linejoin="round"/>
<polygon points="1178.0,336.0 1194.0,343.9 1196.2,342.8 1180.2,334.9" fill="#35555e" stroke="#000" stroke-width="0.75" stroke-linejoin="round"/>
<polygon points="1194.0,375.8 1196.2,374.7 1196.2,342.8 1194.0,343.9" fill="#9dcedd" stroke="#000" stroke-width="0.6" stroke-linejoin="round"/>
<polygon points="1175.2,336.6 1191.2,344.5 1194.0,343.1 1178.0,335.2" fill="#35555e" stroke="#000" stroke-width="0.75" stroke-linejoin="round"/>
<polygon points="1191.2,377.2 1194.0,375.8 1194.0,343.1 1191.2,344.5" fill="#9dcedd" stroke="#000" stroke-width="0.6" stroke-linejoin="round"/>
<polygon points="1172.4,340.1 1188.4,347.9 1191.2,346.5 1175.2,338.7" fill="#35555e" stroke="#000" stroke-width="0.75" stroke-linejoin="round"/>
<polygon points="1188.4,378.6 1191.2,377.2 1191.2,346.5 1188.4,347.9" fill="#9dcedd" stroke="#000" stroke-width="0.6" stroke-linejoin="round"/>
<polygon points="1169.9,342.0 1185.9,349.9 1188.4,348.6 1172.4,340.8" fill="#35555e" stroke="#000" stroke-width="0.75" stroke-linejoin="round"/>
<polygon points="1185.9,379.9 1188.4,378.6 1188.4,348.6 1185.9,349.9" fill="#9dcedd" stroke="#000" stroke-width="0.6" stroke-linejoin="round"/>
<polygon points="1167.4,342.1 1183.4,350.0 1185.9,348.7 1169.9,340.9" fill="#35555e" stroke="#000" stroke-width="0.75" stroke-linejoin="round"/>
<polygon points="1183.4,381.1 1185.9,379.9 1185.9,348.7 1183.4,350.0" fill="#9dcedd" stroke="#000" stroke-width="0.6" stroke-linejoin="round"/>
<polygon points="1164.3,344.4 1180.3,352.2 1183.4,350.7 1167.4,342.8" fill="#35555e" stroke="#000" stroke-width="0.75" stroke-linejoin="round"/>
<polygon points="1180.3,382.6 1183.4,381.1 1183.4,350.7 1180.3,352.2" fill="#9dcedd" stroke="#000" stroke-width="0.6" stroke-linejoin="round"/>
<polygon points="1161.5,345.6 1177.5,353.4 1180.3,352.0 1164.3,344.2" fill="#35555e" stroke="#000" stroke-width="0.75" stroke-linejoin="round"/>
<polygon points="1177.5,384.0 1180.3,382.6 1180.3,352.0 1177.5,353.4" fill="#9dcedd" stroke="#000" stroke-width="0.6" stroke-linejoin="round"/>
<polygon points="1158.0,347.4 1174.0,355.2 1177.5,353.5 1161.5,345.6" fill="#35555e" stroke="#000" stroke-width="0.75" stroke-linejoin="round"/>
<polygon points="1174.0,385.8 1177.5,384.0 1177.5,353.5 1174.0,355.2" fill="#9dcedd" stroke="#000" stroke-width="0.6" stroke-linejoin="round"/>
<polygon points="1155.8,351.3 1171.8,359.2 1174.0,358.1 1158.0,350.2" fill="#35555e" stroke="#000" stroke-width="0.75" stroke-linejoin="round"/>
<polygon points="1171.8,386.9 1174.0,385.8 1174.0,358.1 1171.8,359.2" fill="#9dcedd" stroke="#000" stroke-width="0.6" stroke-linejoin="round"/>
<polygon points="1153.0,353.5 1169.0,361.3 1171.8,359.9 1155.8,352.1" fill="#35555e" stroke="#000" stroke-width="0.75" stroke-linejoin="round"/>
<polygon points="1169.0,388.3 1171.8,386.9 1171.8,359.9 1169.0,361.3" fill="#9dcedd" stroke="#000" stroke-width="0.6" stroke-linejoin="round"/>
<polygon points="1149.5,354.3 1165.5,362.2 1169.0,360.4 1153.0,352.6" fill="#35555e" stroke="#000" stroke-width="0.75" stroke-linejoin="round"/>
<polygon points="1165.5,390.0 1169.0,388.3 1169.0,360.4 1165.5,362.2" fill="#9dcedd" stroke="#000" stroke-width="0.6" stroke-linejoin="round"/>
<polygon points="1147.0,356.4 1163.0,364.3 1165.5,363.0 1149.5,355.2" fill="#35555e" stroke="#000" stroke-width="0.75" stroke-linejoin="round"/>
<polygon points="1163.0,391.2 1165.5,390.0 1165.5,363.0 1163.0,364.3" fill="#9dcedd" stroke="#000" stroke-width="0.6" stroke-linejoin="round"/>
<polygon points="1143.5,357.8 1159.5,365.7 1163.0,363.9 1147.0,356.1" fill="#35555e" stroke="#000" stroke-width="0.75" stroke-linejoin="round"/>
<polygon points="1159.5,393.0 1163.0,391.2 1163.0,363.9 1159.5,365.7" fill="#9dcedd" stroke="#000" stroke-width="0.6" stroke-linejoin="round"/>
<polygon points="1141.0,358.7 1157.0,366.6 1159.5,365.3 1143.5,357.5" fill="#35555e" stroke="#000" stroke-width="0.75" stroke-linejoin="round"/>
<polygon points="1157.0,394.2 1159.5,393.0 1159.5,365.3 1157.0,366.6" fill="#9dcedd" stroke="#000" stroke-width="0.6" stroke-linejoin="round"/>
<polygon points="1138.8,358.0 1154.8,365.9 1157.0,364.8 1141.0,356.9" fill="#35555e" stroke="#000" stroke-width="0.75" stroke-linejoin="round"/>
<polygon points="1154.8,395.3 1157.0,394.2 1157.0,364.8 1154.8,365.9" fill="#9dcedd" stroke="#000" stroke-width="0.6" stroke-linejoin="round"/>
<polygon points="1136.6,358.5 1152.6,366.3 1154.8,365.2 1138.8,357.4" fill="#35555e" stroke="#000" stroke-width="0.75" stroke-linejoin="round"/>
<polygon points="1152.6,396.4 1154.8,395.3 1154.8,365.2 1152.6,366.3" fill="#9dcedd" stroke="#000" stroke-width="0.6" stroke-linejoin="round"/>
<polygon points="1133.1,360.8 1149.1,368.7 1152.6,366.9 1136.6,359.1" fill="#35555e" stroke="#000" stroke-width="0.75" stroke-linejoin="round"/>
<polygon points="1149.1,398.1 1152.6,396.4 1152.6,366.9 1149.1,368.7" fill="#9dcedd" stroke="#000" stroke-width="0.6" stroke-linejoin="round"/>
<polygon points="1129.6,362.0 1145.6,369.8 1149.1,368.1 1133.1,360.2" fill="#35555e" stroke="#000" stroke-width="0.75" stroke-linejoin="round"/>
<polygon points="1145.6,399.9 1149.1,398.1 1149.1,368.1 1145.6,369.8" fill="#9dcedd" stroke="#000" stroke-width="0.6" stroke-linejoin="round"/>
<polygon points="1126.5,367.0 1142.5,374.9 1145.6,373.3 1129.6,365.5" fill="#35555e" stroke="#000" stroke-width="0.75" stroke-linejoin="round"/>
<polygon points="1142.5,401.4 1145.6,399.9 1145.6,373.3 1142.5,374.9" fill="#9dcedd" stroke="#000" stroke-width="0.6" stroke-linejoin="round"/>
<polygon points="1124.0,368.2 1140.0,376.1 1142.5,374.8 1126.5,367.0" fill="#35555e" stroke="#000" stroke-width="0.75" stroke-linejoin="round"/>
<polygon points="1140.0,402.7 1142.5,401.4 1142.5,374.8 1140.0,376.1" fill="#9dcedd" stroke="#000" stroke-width="0.6" stroke-linejoin="round"/>
<polygon points="1120.9,369.2 1136.9,377.1 1140.0,375.5 1124.0,367.7" fill="#35555e" stroke="#000" stroke-width="0.75" stroke-linejoin="round"/>
<polygon points="1136.9,404.2 1140.0,402.7 1140.0,375.5 1136.9,377.1" fill="#9dcedd" stroke="#000" stroke-width="0.6" stroke-linejoin="round"/>
<polygon points="1118.7,370.1 1134.7,377.9 1136.9,376.9 1120.9,369.0" fill="#35555e" stroke="#000" stroke-width="0.75" stroke-linejoin="round"/>
<polygon points="1134.7,405.3 1136.9,404.2 1136.9,376.9 1134.7,377.9" fill="#9dcedd" stroke="#000" stroke-width="0.6" stroke-linejoin="round"/>
<polygon points="1116.5,372.1 1132.5,379.9 1134.7,378.8 1118.7,371.0" fill="#35555e" stroke="#000" stroke-width="0.75" stroke-linejoin="round"/>
<polygon points="1132.5,406.4 1134.7,405.3 1134.7,378.8 1132.5,379.9" fill="#9dcedd" stroke="#000" stroke-width="0.6" stroke-linejoin="round"/>
<polygon points="1114.3,372.4 1130.3,380.3 1132.5,379.2 1116.5,371.3" fill="#35555e" stroke="#000" stroke-width="0.75" stroke-linejoin="round"/>
<polygon points="1130.3,407.5 1132.5,406.4 1132.5,379.2 1130.3,380.3" fill="#9dcedd" stroke="#000" stroke-width="0.6" stroke-linejoin="round"/>
<polygon points="1114.3,399.6 1130.3,407.5 1130.3,380.3 1114.3,372.4" fill="#9dcedd" stroke="#000" stroke-width="0.7" stroke-linejoin="round"/>
<polygon points="1271.9,313.6 1317.3,335.5 1309.0,434.5 1263.6,412.6" fill="#9dcedd" stroke="#000" stroke-width="0.9" stroke-linejoin="round"/>
<line x1="1272.9" y1="315.2" x2="1317.9" y2="337.1" stroke="#000" stroke-width="0.6"/>
<polygon points="1316.0,376.0 1358.8,396.7 1355.1,457.2 1312.0,437.0" fill="#9dcedd" stroke="#000" stroke-width="0.9" stroke-linejoin="round"/>
<line x1="1317.0" y1="377.6" x2="1359.4" y2="398.3" stroke="#000" stroke-width="0.6"/>
<polygon points="1307.4,361.2 1341.5,377.9 1335.4,439.1 1301.4,433.0" fill="#9dcedd" stroke="#000" stroke-width="0.9" stroke-linejoin="round"/>
<line x1="1308.4" y1="362.8" x2="1342.1" y2="379.5" stroke="#000" stroke-width="0.6"/>
<polygon points="1369.0,360.8 1419.7,384.0 1413.0,477.0 1365.0,455.0" fill="#9dcedd" stroke="#000" stroke-width="0.9" stroke-linejoin="round"/>
<line x1="1370.0" y1="362.4" x2="1420.3" y2="385.6" stroke="#000" stroke-width="0.6"/>
<polygon points="1426.9,389.6 1473.3,411.2 1464.9,508.9 1419.0,487.0" fill="#9dcedd" stroke="#000" stroke-width="0.9" stroke-linejoin="round"/>
<line x1="1427.9" y1="391.2" x2="1473.9" y2="412.8" stroke="#000" stroke-width="0.6"/>
<path d="M1241.0,448.0 L1241.0,461.7 A22.4,11.2 0 0 1 1285.8,461.7 L1285.8,448.0 A22.4,11.2 0 0 1 1241.0,448.0 Z" fill="#97c6d4" stroke="#000" stroke-width="0.8"/>
<path d="M1241.0,449.5 A22.4,11.2 0 0 0 1285.8,449.5" fill="none" stroke="#000" stroke-width="0.75"/>
<path d="M1241.0,451.0 A22.4,11.2 0 0 0 1285.8,451.0" fill="none" stroke="#000" stroke-width="0.75"/>
<path d="M1241.0,452.6 A22.4,11.2 0 0 0 1285.8,452.6" fill="none" stroke="#000" stroke-width="0.75"/>
<path d="M1241.0,454.1 A22.4,11.2 0 0 0 1285.8,454.1" fill="none" stroke="#000" stroke-width="0.75"/>
<path d="M1241.0,455.6 A22.4,11.2 0 0 0 1285.8,455.6" fill="none" stroke="#000" stroke-width="0.75"/>
<path d="M1241.0,457.1 A22.4,11.2 0 0 0 1285.8,457.1" fill="none" stroke="#000" stroke-width="0.75"/>
<path d="M1241.0,458.7 A22.4,11.2 0 0 0 1285.8,458.7" fill="none" stroke="#000" stroke-width="0.75"/>
<path d="M1241.0,460.2 A22.4,11.2 0 0 0 1285.8,460.2" fill="none" stroke="#000" stroke-width="0.75"/>
<path d="M1241.0,461.7 A22.4,11.2 0 0 0 1285.8,461.7" fill="none" stroke="#000" stroke-width="0.75"/>
<ellipse cx="1263.4" cy="448.0" rx="22.4" ry="11.2" fill="#9dcedd" stroke="#000" stroke-width="0.9"/>
<path d="M1297.0,448.0 L1297.0,469.1 A22.4,11.2 0 0 1 1341.8,469.1 L1341.8,448.0 A22.4,11.2 0 0 1 1297.0,448.0 Z" fill="#97c6d4" stroke="#000" stroke-width="0.8"/>
<path d="M1297.0,449.5 A22.4,11.2 0 0 0 1341.8,449.5" fill="none" stroke="#000" stroke-width="0.75"/>
<path d="M1297.0,451.0 A22.4,11.2 0 0 0 1341.8,451.0" fill="none" stroke="#000" stroke-width="0.75"/>
<path d="M1297.0,452.5 A22.4,11.2 0 0 0 1341.8,452.5" fill="none" stroke="#000" stroke-width="0.75"/>
<path d="M1297.0,454.0 A22.4,11.2 0 0 0 1341.8,454.0" fill="none" stroke="#000" stroke-width="0.75"/>
<path d="M1297.0,455.5 A22.4,11.2 0 0 0 1341.8,455.5" fill="none" stroke="#000" stroke-width="0.75"/>
<path d="M1297.0,457.0 A22.4,11.2 0 0 0 1341.8,457.0" fill="none" stroke="#000" stroke-width="0.75"/>
<path d="M1297.0,458.6 A22.4,11.2 0 0 0 1341.8,458.6" fill="none" stroke="#000" stroke-width="0.75"/>
<path d="M1297.0,460.1 A22.4,11.2 0 0 0 1341.8,460.1" fill="none" stroke="#000" stroke-width="0.75"/>
<path d="M1297.0,461.6 A22.4,11.2 0 0 0 1341.8,461.6" fill="none" stroke="#000" stroke-width="0.75"/>
<path d="M1297.0,463.1 A22.4,11.2 0 0 0 1341.8,463.1" fill="none" stroke="#000" stroke-width="0.75"/>
<path d="M1297.0,464.6 A22.4,11.2 0 0 0 1341.8,464.6" fill="none" stroke="#000" stroke-width="0.75"/>
<path d="M1297.0,466.1 A22.4,11.2 0 0 0 1341.8,466.1" fill="none" stroke="#000" stroke-width="0.75"/>
<path d="M1297.0,467.6 A22.4,11.2 0 0 0 1341.8,467.6" fill="none" stroke="#000" stroke-width="0.75"/>
<path d="M1297.0,469.1 A22.4,11.2 0 0 0 1341.8,469.1" fill="none" stroke="#000" stroke-width="0.75"/>
<ellipse cx="1319.4" cy="448.0" rx="22.4" ry="11.2" fill="#9dcedd" stroke="#000" stroke-width="0.9"/>
<path d="M1201.2,463.6 L1201.2,481.6 A22.1,11.2 0 0 1 1245.4,481.6 L1245.4,463.6 A22.1,11.2 0 0 1 1201.2,463.6 Z" fill="#97c6d4" stroke="#000" stroke-width="0.8"/>
<path d="M1201.2,465.1 A22.1,11.2 0 0 0 1245.4,465.1" fill="none" stroke="#000" stroke-width="0.75"/>
<path d="M1201.2,466.6 A22.1,11.2 0 0 0 1245.4,466.6" fill="none" stroke="#000" stroke-width="0.75"/>
<path d="M1201.2,468.1 A22.1,11.2 0 0 0 1245.4,468.1" fill="none" stroke="#000" stroke-width="0.75"/>
<path d="M1201.2,469.6 A22.1,11.2 0 0 0 1245.4,469.6" fill="none" stroke="#000" stroke-width="0.75"/>
<path d="M1201.2,471.1 A22.1,11.2 0 0 0 1245.4,471.1" fill="none" stroke="#000" stroke-width="0.75"/>
<path d="M1201.2,472.6 A22.1,11.2 0 0 0 1245.4,472.6" fill="none" stroke="#000" stroke-width="0.75"/>
<path d="M1201.2,474.1 A22.1,11.2 0 0 0 1245.4,474.1" fill="none" stroke="#000" stroke-width="0.75"/>
<path d="M1201.2,475.6 A22.1,11.2 0 0 0 1245.4,475.6" fill="none" stroke="#000" stroke-width="0.75"/>
<path d="M1201.2,477.1 A22.1,11.2 0 0 0 1245.4,477.1" fill="none" stroke="#000" stroke-width="0.75"/>
<path d="M1201.2,478.6 A22.1,11.2 0 0 0 1245.4,478.6" fill="none" stroke="#000" stroke-width="0.75"/>
<path d="M1201.2,480.1 A22.1,11.2 0 0 0 1245.4,480.1" fill="none" stroke="#000" stroke-width="0.75"/>
<path d="M1201.2,481.6 A22.1,11.2 0 0 0 1245.4,481.6" fill="none" stroke="#000" stroke-width="0.75"/>
<ellipse cx="1223.3" cy="463.6" rx="22.1" ry="11.2" fill="#9dcedd" stroke="#000" stroke-width="0.9"/>
<path d="M1341.1,477.5 L1341.1,490.5 A22.1,11.0 0 0 1 1385.3,490.5 L1385.3,477.5 A22.1,11.0 0 0 1 1341.1,477.5 Z" fill="#97c6d4" stroke="#000" stroke-width="0.8"/>
<path d="M1341.1,479.1 A22.1,11.0 0 0 0 1385.3,479.1" fill="none" stroke="#000" stroke-width="0.75"/>
<path d="M1341.1,480.8 A22.1,11.0 0 0 0 1385.3,480.8" fill="none" stroke="#000" stroke-width="0.75"/>
<path d="M1341.1,482.4 A22.1,11.0 0 0 0 1385.3,482.4" fill="none" stroke="#000" stroke-width="0.75"/>
<path d="M1341.1,484.0 A22.1,11.0 0 0 0 1385.3,484.0" fill="none" stroke="#000" stroke-width="0.75"/>
<path d="M1341.1,485.6 A22.1,11.0 0 0 0 1385.3,485.6" fill="none" stroke="#000" stroke-width="0.75"/>
<path d="M1341.1,487.2 A22.1,11.0 0 0 0 1385.3,487.2" fill="none" stroke="#000" stroke-width="0.75"/>
<path d="M1341.1,488.9 A22.1,11.0 0 0 0 1385.3,488.9" fill="none" stroke="#000" stroke-width="0.75"/>
<path d="M1341.1,490.5 A22.1,11.0 0 0 0 1385.3,490.5" fill="none" stroke="#000" stroke-width="0.75"/>
<ellipse cx="1363.2" cy="477.5" rx="22.1" ry="11.0" fill="#9dcedd" stroke="#000" stroke-width="0.9"/>
<path d="M1266.5,481.6 L1266.5,492.2 A18.4,9.3 0 0 1 1303.3,492.2 L1303.3,481.6 A18.4,9.3 0 0 1 1266.5,481.6 Z" fill="#97c6d4" stroke="#000" stroke-width="0.8"/>
<path d="M1266.5,483.1 A18.4,9.3 0 0 0 1303.3,483.1" fill="none" stroke="#000" stroke-width="0.75"/>
<path d="M1266.5,484.6 A18.4,9.3 0 0 0 1303.3,484.6" fill="none" stroke="#000" stroke-width="0.75"/>
<path d="M1266.5,486.1 A18.4,9.3 0 0 0 1303.3,486.1" fill="none" stroke="#000" stroke-width="0.75"/>
<path d="M1266.5,487.7 A18.4,9.3 0 0 0 1303.3,487.7" fill="none" stroke="#000" stroke-width="0.75"/>
<path d="M1266.5,489.2 A18.4,9.3 0 0 0 1303.3,489.2" fill="none" stroke="#000" stroke-width="0.75"/>
<path d="M1266.5,490.7 A18.4,9.3 0 0 0 1303.3,490.7" fill="none" stroke="#000" stroke-width="0.75"/>
<path d="M1266.5,492.2 A18.4,9.3 0 0 0 1303.3,492.2" fill="none" stroke="#000" stroke-width="0.75"/>
<ellipse cx="1284.9" cy="481.6" rx="18.4" ry="9.3" fill="#9dcedd" stroke="#000" stroke-width="0.9"/>
<path d="M1234.7,497.7 L1234.7,508.3 A18.4,9.5 0 0 1 1271.5,508.3 L1271.5,497.7 A18.4,9.5 0 0 1 1234.7,497.7 Z" fill="#97c6d4" stroke="#000" stroke-width="0.8"/>
<path d="M1234.7,499.2 A18.4,9.5 0 0 0 1271.5,499.2" fill="none" stroke="#000" stroke-width="0.75"/>
<path d="M1234.7,500.7 A18.4,9.5 0 0 0 1271.5,500.7" fill="none" stroke="#000" stroke-width="0.75"/>
<path d="M1234.7,502.2 A18.4,9.5 0 0 0 1271.5,502.2" fill="none" stroke="#000" stroke-width="0.75"/>
<path d="M1234.7,503.8 A18.4,9.5 0 0 0 1271.5,503.8" fill="none" stroke="#000" stroke-width="0.75"/>
<path d="M1234.7,505.3 A18.4,9.5 0 0 0 1271.5,505.3" fill="none" stroke="#000" stroke-width="0.75"/>
<path d="M1234.7,506.8 A18.4,9.5 0 0 0 1271.5,506.8" fill="none" stroke="#000" stroke-width="0.75"/>
<path d="M1234.7,508.3 A18.4,9.5 0 0 0 1271.5,508.3" fill="none" stroke="#000" stroke-width="0.75"/>
<ellipse cx="1253.1" cy="497.7" rx="18.4" ry="9.5" fill="#9dcedd" stroke="#000" stroke-width="0.9"/>
<path d="M1310.6,502.9 L1310.6,514.1 A18.4,9.2 0 0 1 1347.4,514.1 L1347.4,502.9 A18.4,9.2 0 0 1 1310.6,502.9 Z" fill="#97c6d4" stroke="#000" stroke-width="0.8"/>
<path d="M1310.6,504.5 A18.4,9.2 0 0 0 1347.4,504.5" fill="none" stroke="#000" stroke-width="0.75"/>
<path d="M1310.6,506.1 A18.4,9.2 0 0 0 1347.4,506.1" fill="none" stroke="#000" stroke-width="0.75"/>
<path d="M1310.6,507.7 A18.4,9.2 0 0 0 1347.4,507.7" fill="none" stroke="#000" stroke-width="0.75"/>
<path d="M1310.6,509.3 A18.4,9.2 0 0 0 1347.4,509.3" fill="none" stroke="#000" stroke-width="0.75"/>
<path d="M1310.6,510.9 A18.4,9.2 0 0 0 1347.4,510.9" fill="none" stroke="#000" stroke-width="0.75"/>
<path d="M1310.6,512.5 A18.4,9.2 0 0 0 1347.4,512.5" fill="none" stroke="#000" stroke-width="0.75"/>
<path d="M1310.6,514.1 A18.4,9.2 0 0 0 1347.4,514.1" fill="none" stroke="#000" stroke-width="0.75"/>
<ellipse cx="1329.0" cy="502.9" rx="18.4" ry="9.2" fill="#9dcedd" stroke="#000" stroke-width="0.9"/>
<path d="M1278.3,519.0 L1278.3,530.2 A18.4,9.3 0 0 1 1315.1,530.2 L1315.1,519.0 A18.4,9.3 0 0 1 1278.3,519.0 Z" fill="#97c6d4" stroke="#000" stroke-width="0.8"/>
<path d="M1278.3,520.6 A18.4,9.3 0 0 0 1315.1,520.6" fill="none" stroke="#000" stroke-width="0.75"/>
<path d="M1278.3,522.2 A18.4,9.3 0 0 0 1315.1,522.2" fill="none" stroke="#000" stroke-width="0.75"/>
<path d="M1278.3,523.8 A18.4,9.3 0 0 0 1315.1,523.8" fill="none" stroke="#000" stroke-width="0.75"/>
<path d="M1278.3,525.4 A18.4,9.3 0 0 0 1315.1,525.4" fill="none" stroke="#000" stroke-width="0.75"/>
<path d="M1278.3,527.0 A18.4,9.3 0 0 0 1315.1,527.0" fill="none" stroke="#000" stroke-width="0.75"/>
<path d="M1278.3,528.6 A18.4,9.3 0 0 0 1315.1,528.6" fill="none" stroke="#000" stroke-width="0.75"/>
<path d="M1278.3,530.2 A18.4,9.3 0 0 0 1315.1,530.2" fill="none" stroke="#000" stroke-width="0.75"/>
<ellipse cx="1296.7" cy="519.0" rx="18.4" ry="9.3" fill="#9dcedd" stroke="#000" stroke-width="0.9"/>
<path d="M1352.9,524.8 L1352.9,534.8 A18.4,9.6 0 0 1 1389.7,534.8 L1389.7,524.8 A18.4,9.6 0 0 1 1352.9,524.8 Z" fill="#97c6d4" stroke="#000" stroke-width="0.8"/>
<path d="M1352.9,526.5 A18.4,9.6 0 0 0 1389.7,526.5" fill="none" stroke="#000" stroke-width="0.75"/>
<path d="M1352.9,528.1 A18.4,9.6 0 0 0 1389.7,528.1" fill="none" stroke="#000" stroke-width="0.75"/>
<path d="M1352.9,529.8 A18.4,9.6 0 0 0 1389.7,529.8" fill="none" stroke="#000" stroke-width="0.75"/>
<path d="M1352.9,531.5 A18.4,9.6 0 0 0 1389.7,531.5" fill="none" stroke="#000" stroke-width="0.75"/>
<path d="M1352.9,533.1 A18.4,9.6 0 0 0 1389.7,533.1" fill="none" stroke="#000" stroke-width="0.75"/>
<path d="M1352.9,534.8 A18.4,9.6 0 0 0 1389.7,534.8" fill="none" stroke="#000" stroke-width="0.75"/>
<ellipse cx="1371.3" cy="524.8" rx="18.4" ry="9.6" fill="#9dcedd" stroke="#000" stroke-width="0.9"/>
<path d="M1321.3,539.7 L1321.3,550.9 A18.0,9.6 0 0 1 1357.3,550.9 L1357.3,539.7 A18.0,9.6 0 0 1 1321.3,539.7 Z" fill="#97c6d4" stroke="#000" stroke-width="0.8"/>
<path d="M1321.3,541.3 A18.0,9.6 0 0 0 1357.3,541.3" fill="none" stroke="#000" stroke-width="0.75"/>
<path d="M1321.3,542.9 A18.0,9.6 0 0 0 1357.3,542.9" fill="none" stroke="#000" stroke-width="0.75"/>
<path d="M1321.3,544.5 A18.0,9.6 0 0 0 1357.3,544.5" fill="none" stroke="#000" stroke-width="0.75"/>
<path d="M1321.3,546.1 A18.0,9.6 0 0 0 1357.3,546.1" fill="none" stroke="#000" stroke-width="0.75"/>
<path d="M1321.3,547.7 A18.0,9.6 0 0 0 1357.3,547.7" fill="none" stroke="#000" stroke-width="0.75"/>
<path d="M1321.3,549.3 A18.0,9.6 0 0 0 1357.3,549.3" fill="none" stroke="#000" stroke-width="0.75"/>
<path d="M1321.3,550.9 A18.0,9.6 0 0 0 1357.3,550.9" fill="none" stroke="#000" stroke-width="0.75"/>
<ellipse cx="1339.3" cy="539.7" rx="18.0" ry="9.6" fill="#9dcedd" stroke="#000" stroke-width="0.9"/>
<path d="M1108.2,228.4 C1106.1,225.5 1112.7,224.4 1116.2,222.0 C1119.7,219.6 1124.2,216.3 1129.0,214.0 C1133.8,211.7 1139.1,210.0 1145.0,208.4 C1150.9,206.8 1157.5,206.0 1164.2,204.4 C1170.9,202.8 1178.9,200.8 1185.0,198.8 C1191.1,196.8 1196.2,194.9 1201.0,192.4 C1205.8,189.9 1210.1,186.7 1213.8,183.6 C1217.5,180.5 1220.5,177.1 1223.4,174.0 C1226.3,170.9 1229.3,167.1 1231.4,165.2 C1233.5,163.3 1234.1,162.4 1236.2,162.8 C1238.3,163.2 1241.3,165.2 1244.2,167.6 C1247.1,170.0 1250.3,174.1 1253.8,177.2 C1257.3,180.3 1260.5,183.5 1265.0,186.0 C1269.5,188.5 1275.7,190.7 1281.0,192.4 C1286.3,194.1 1292.7,195.2 1297.0,196.4 C1301.3,197.6 1302.7,197.7 1307.0,199.6 C1311.3,201.5 1317.7,204.5 1323.0,207.6 C1328.3,210.7 1333.7,214.5 1339.0,218.0 C1344.3,221.5 1349.7,225.3 1355.0,228.4 C1360.3,231.5 1364.3,233.2 1371.0,236.4 C1377.7,239.6 1387.0,244.0 1395.0,247.6 C1403.0,251.2 1411.0,254.5 1419.0,258.0 C1427.0,261.5 1435.0,264.9 1443.0,268.4 C1451.0,271.9 1460.3,275.9 1467.0,278.8 C1473.7,281.7 1478.7,284.1 1483.0,286.0 C1487.3,287.9 1492.1,288.1 1492.6,290.0 C1493.1,291.9 1489.1,294.4 1486.2,297.2 C1483.3,300.0 1479.5,303.9 1475.0,306.8 C1470.5,309.7 1464.3,312.8 1459.0,314.8 C1453.7,316.8 1447.5,318.0 1443.0,318.8 C1438.5,319.6 1435.8,318.9 1431.8,319.6 C1427.8,320.3 1423.8,320.8 1419.0,322.8 C1414.2,324.8 1408.3,328.4 1403.0,331.6 C1397.7,334.8 1391.8,338.7 1387.0,342.0 C1382.2,345.3 1377.7,349.5 1374.2,351.6 C1370.7,353.7 1369.4,354.4 1366.2,354.8 C1363.0,355.2 1359.5,354.8 1355.0,354.0 C1350.5,353.2 1344.3,351.9 1339.0,350.0 C1333.7,348.1 1328.3,345.5 1323.0,342.8 C1317.7,340.1 1311.1,336.6 1307.0,334.0 C1302.9,331.4 1302.9,329.7 1298.6,327.0 C1294.3,324.3 1287.9,321.1 1281.0,318.0 C1274.1,314.9 1263.7,311.1 1257.0,308.4 C1250.3,305.7 1246.3,304.4 1241.0,302.0 C1235.7,299.6 1230.3,296.9 1225.0,294.0 C1219.7,291.1 1214.3,287.7 1209.0,284.4 C1203.7,281.1 1198.3,277.2 1193.0,274.0 C1187.7,270.8 1183.7,268.8 1177.0,265.2 C1170.3,261.6 1161.0,256.7 1153.0,252.4 C1145.0,248.1 1136.5,243.6 1129.0,239.6 C1121.5,235.6 1110.3,231.3 1108.2,228.4 Z" fill="rgba(248,145,30,0.33)"/>
<polygon points="1493.7,291.9 1500.1,295.0 1506.5,291.8 1500.1,288.7" fill="#dddddd" stroke="#000" stroke-width="0.9" stroke-linejoin="round"/>
<polygon points="1493.7,675.9 1500.1,679.0 1500.1,295.0 1493.7,291.9" fill="#dddddd" stroke="#000" stroke-width="0.9" stroke-linejoin="round"/>
<polygon points="1500.1,679.0 1506.5,675.8 1506.5,291.8 1500.1,295.0" fill="#dddddd" stroke="#000" stroke-width="0.9" stroke-linejoin="round"/><line x1="1500.1" y1="288.7" x2="1500.1" y2="295.0" stroke="#000" stroke-width="0.8"/><polyline points="1493.7,637.2 1500.1,640.3 1506.5,637.1" fill="none" stroke="#000" stroke-width="0.7" stroke-linejoin="round"/><polyline points="1493.7,522.1 1500.1,525.2 1506.5,522.0" fill="none" stroke="#000" stroke-width="0.7" stroke-linejoin="round"/>
<polygon points="1367.1,693.7 1373.5,696.8 1500.1,633.9 1493.7,630.8" fill="#dddddd" stroke="#000" stroke-width="0.9" stroke-linejoin="round"/>
<polygon points="1367.1,700.1 1373.5,703.2 1373.5,696.8 1367.1,693.7" fill="#dddddd" stroke="#000" stroke-width="0.9" stroke-linejoin="round"/>
<polygon points="1373.5,703.2 1500.1,640.3 1500.1,633.9 1373.5,696.8" fill="#dddddd" stroke="#000" stroke-width="0.9" stroke-linejoin="round"/>
<polygon points="1367.1,585.0 1373.5,588.1 1500.1,525.2 1493.7,522.1" fill="#dddddd" stroke="#000" stroke-width="0.9" stroke-linejoin="round"/>
<polygon points="1367.1,592.8 1373.5,595.9 1373.5,588.1 1367.1,585.0" fill="#dddddd" stroke="#000" stroke-width="0.9" stroke-linejoin="round"/>
<polygon points="1373.5,595.9 1500.1,533.0 1500.1,525.2 1373.5,588.1" fill="#dddddd" stroke="#000" stroke-width="0.9" stroke-linejoin="round"/>
<polygon points="1096.3,228.4 1102.7,231.5 1109.1,228.4 1102.7,225.2" fill="#dddddd" stroke="#000" stroke-width="0.9" stroke-linejoin="round"/>
<polygon points="1096.3,612.4 1102.7,615.5 1102.7,231.5 1096.3,228.4" fill="#dddddd" stroke="#000" stroke-width="0.9" stroke-linejoin="round"/>
<polygon points="1102.7,615.5 1109.1,612.4 1109.1,228.4 1102.7,231.5" fill="#dddddd" stroke="#000" stroke-width="0.9" stroke-linejoin="round"/><line x1="1102.7" y1="225.2" x2="1102.7" y2="231.5" stroke="#000" stroke-width="0.8"/><polyline points="1096.3,573.7 1102.7,576.8 1109.1,573.7" fill="none" stroke="#000" stroke-width="0.7" stroke-linejoin="round"/><polyline points="1096.3,458.6 1102.7,461.7 1109.1,458.6" fill="none" stroke="#000" stroke-width="0.7" stroke-linejoin="round"/>
<polygon points="1161.2,498.2 1167.6,501.3 1174.0,498.2 1167.6,495.0" fill="#dddddd" stroke="#000" stroke-width="0.9" stroke-linejoin="round"/>
<polygon points="1161.2,599.1 1167.6,602.2 1167.6,501.3 1161.2,498.2" fill="#dddddd" stroke="#000" stroke-width="0.9" stroke-linejoin="round"/>
<polygon points="1167.6,602.2 1174.0,599.1 1174.0,498.2 1167.6,501.3" fill="#dddddd" stroke="#000" stroke-width="0.9" stroke-linejoin="round"/>
<polygon points="1295.7,564.1 1302.1,567.2 1308.5,564.1 1302.1,560.9" fill="#dddddd" stroke="#000" stroke-width="0.9" stroke-linejoin="round"/>
<polygon points="1295.7,665.0 1302.1,668.1 1302.1,567.2 1295.7,564.1" fill="#dddddd" stroke="#000" stroke-width="0.9" stroke-linejoin="round"/>
<polygon points="1302.1,668.1 1308.5,665.0 1308.5,564.1 1302.1,567.2" fill="#dddddd" stroke="#000" stroke-width="0.9" stroke-linejoin="round"/>
<polygon points="1102.7,570.4 1360.7,696.9 1367.1,693.7 1109.1,567.3" fill="#dddddd" stroke="#000" stroke-width="0.9" stroke-linejoin="round"/>
<polygon points="1102.7,576.8 1360.7,703.3 1360.7,696.9 1102.7,570.4" fill="#dddddd" stroke="#000" stroke-width="0.9" stroke-linejoin="round"/>
<polygon points="1360.7,703.3 1367.1,700.1 1367.1,693.7 1360.7,696.9" fill="#dddddd" stroke="#000" stroke-width="0.9" stroke-linejoin="round"/>
<polygon points="1102.7,461.7 1360.7,588.2 1367.1,585.0 1109.1,458.6" fill="#dddddd" stroke="#000" stroke-width="0.9" stroke-linejoin="round"/>
<polygon points="1102.7,469.5 1360.7,596.0 1360.7,588.2 1102.7,461.7" fill="#dddddd" stroke="#000" stroke-width="0.9" stroke-linejoin="round"/>
<polygon points="1360.7,596.0 1367.1,592.8 1367.1,585.0 1360.7,588.2" fill="#dddddd" stroke="#000" stroke-width="0.9" stroke-linejoin="round"/>
<polygon points="1360.7,358.0 1367.1,361.1 1373.5,357.9 1367.1,354.8" fill="#dddddd" stroke="#000" stroke-width="0.9" stroke-linejoin="round"/>
<polygon points="1360.7,742.0 1367.1,745.1 1367.1,361.1 1360.7,358.0" fill="#dddddd" stroke="#000" stroke-width="0.9" stroke-linejoin="round"/>
<polygon points="1367.1,745.1 1373.5,741.9 1373.5,357.9 1367.1,361.1" fill="#dddddd" stroke="#000" stroke-width="0.9" stroke-linejoin="round"/><line x1="1367.1" y1="354.8" x2="1367.1" y2="361.1" stroke="#000" stroke-width="0.8"/><polyline points="1360.7,703.3 1367.1,706.4 1373.5,703.2" fill="none" stroke="#000" stroke-width="0.7" stroke-linejoin="round"/><polyline points="1360.7,588.2 1367.1,591.3 1373.5,588.1" fill="none" stroke="#000" stroke-width="0.7" stroke-linejoin="round"/>
<clipPath id="fl974"><rect x="1102.7" y="0" width="7.0" height="1125"/><rect x="1302.1" y="0" width="7.0" height="1125"/></clipPath>
<g clip-path="url(#fl974)"><polygon points="1102.7,518.2 1161.2,546.9 1294.2,480.8 1235.7,452.1" fill="#9dcedd" stroke="#000" stroke-width="0.9" stroke-linejoin="round"/>
<polygon points="1102.7,519.7 1161.2,548.4 1161.2,546.9 1102.7,518.2" fill="#9dcedd" stroke="#000" stroke-width="0.9" stroke-linejoin="round"/>
<polygon points="1161.2,548.4 1294.2,482.3 1294.2,480.8 1161.2,546.9" fill="#9dcedd" stroke="#000" stroke-width="0.9" stroke-linejoin="round"/><polygon points="1302.1,616.8 1358.9,644.7 1491.9,578.6 1435.1,550.7" fill="#9dcedd" stroke="#000" stroke-width="0.9" stroke-linejoin="round"/>
<polygon points="1302.1,618.2 1358.9,646.1 1358.9,644.7 1302.1,616.8" fill="#9dcedd" stroke="#000" stroke-width="0.9" stroke-linejoin="round"/>
<polygon points="1358.9,646.1 1491.9,580.0 1491.9,578.6 1358.9,644.7" fill="#9dcedd" stroke="#000" stroke-width="0.9" stroke-linejoin="round"/></g>
<clipPath id="sh974"><rect x="1102.7" y="0" width="7.0" height="1125"/></clipPath>
<g clip-path="url(#sh974)"><polygon points="1102.3,458.7 1127.8,471.2 1264.2,403.4 1238.7,390.9" fill="#9dcedd" stroke="#000" stroke-width="0.9" stroke-linejoin="round"/>
<polygon points="1102.3,460.3 1127.8,472.8 1127.8,471.2 1102.3,458.7" fill="#9dcedd" stroke="#000" stroke-width="0.9" stroke-linejoin="round"/>
<polygon points="1127.8,472.8 1264.2,405.0 1264.2,403.4 1127.8,471.2" fill="#9dcedd" stroke="#000" stroke-width="0.9" stroke-linejoin="round"/><polygon points="1102.3,403.6 1129.8,417.1 1266.2,349.3 1238.7,335.8" fill="#9dcedd" stroke="#000" stroke-width="0.9" stroke-linejoin="round"/>
<polygon points="1102.3,405.1 1129.8,418.6 1129.8,417.1 1102.3,403.6" fill="#9dcedd" stroke="#000" stroke-width="0.9" stroke-linejoin="round"/>
<polygon points="1129.8,418.6 1266.2,350.8 1266.2,349.3 1129.8,417.1" fill="#9dcedd" stroke="#000" stroke-width="0.9" stroke-linejoin="round"/></g>
<text x="96.7" y="774.5" font-size="18.6" font-weight="bold" fill="#0b618c" textLength="233.2" lengthAdjust="spacingAndGlyphs">Hygiene wagon - Initial use</text>
<text x="96.3" y="805.7" font-size="18.8" font-weight="normal" fill="#000" textLength="41.5" lengthAdjust="spacingAndGlyphs">Used</text>
<text x="154.0" y="805.7" font-size="18.8" font-weight="normal" fill="#000" textLength="22.7" lengthAdjust="spacingAndGlyphs">for</text>
<text x="193.0" y="805.7" font-size="18.8" font-weight="normal" fill="#000" textLength="84.7" lengthAdjust="spacingAndGlyphs">previously</text>
<text x="294.2" y="805.7" font-size="18.8" font-weight="normal" fill="#000" textLength="82.4" lengthAdjust="spacingAndGlyphs">described</text>
<text x="392.8" y="805.7" font-size="18.8" font-weight="normal" fill="#000" textLength="67.4" lengthAdjust="spacingAndGlyphs">sanitary</text>
<text x="476.2" y="805.7" font-size="18.8" font-weight="normal" fill="#000" textLength="83.6" lengthAdjust="spacingAndGlyphs">purposes.</text>
<text x="96.3" y="828.5" font-size="18.8" font-weight="normal" fill="#000" textLength="97.5" lengthAdjust="spacingAndGlyphs">Consists of:</text>
<circle cx="100.0" cy="845.1" r="3.6" fill="#000"/>
<text x="129.2" y="851.4" font-size="18.8" font-weight="normal" fill="#000" textLength="99.6" lengthAdjust="spacingAndGlyphs">washbasins</text>
<circle cx="100.0" cy="868.0" r="3.6" fill="#000"/>
<text x="130.4" y="874.3" font-size="18.8" font-weight="normal" fill="#000" textLength="182.8" lengthAdjust="spacingAndGlyphs">disinfectant suppliers</text>
<circle cx="100.0" cy="890.9" r="3.6" fill="#000"/>
<text x="130.4" y="897.2" font-size="18.8" font-weight="normal" fill="#000" textLength="63.4" lengthAdjust="spacingAndGlyphs">coolbox</text>
<circle cx="100.0" cy="913.8" r="3.6" fill="#000"/>
<text x="130.4" y="920.1" font-size="18.8" font-weight="normal" fill="#000" textLength="116.9" lengthAdjust="spacingAndGlyphs">storage space</text>
<circle cx="100.0" cy="936.7" r="3.6" fill="#000"/>
<text x="130.4" y="943.0" font-size="18.8" font-weight="normal" fill="#000" textLength="155.2" lengthAdjust="spacingAndGlyphs">plexiglass screens</text>
<circle cx="100.0" cy="959.6" r="3.6" fill="#000"/>
<text x="129.2" y="965.9" font-size="18.8" font-weight="normal" fill="#000" textLength="136.5" lengthAdjust="spacingAndGlyphs">working surface</text>
<text x="286.5" y="1008.5" font-size="18.6" font-weight="bold" fill="#0b618c" textLength="272.7" lengthAdjust="spacingAndGlyphs">Can later be transformed into...</text>
<text x="582.7" y="774.7" font-size="18.6" font-weight="bold" fill="#0b618c" textLength="147.3" lengthAdjust="spacingAndGlyphs">Street food stand</text>
<text x="582.7" y="805.7" font-size="18.8" font-weight="normal" fill="#000" textLength="456.4" lengthAdjust="spacingAndGlyphs">Used as a pop-up culinary spot in the city. Consists of:</text>
<circle cx="587.0" cy="822.2" r="3.6" fill="#000"/>
<text x="616.2" y="828.5" font-size="18.8" font-weight="normal" fill="#000" textLength="89.6" lengthAdjust="spacingAndGlyphs">washbasin</text>
<circle cx="587.0" cy="845.1" r="3.6" fill="#000"/>
<text x="616.8" y="851.4" font-size="18.8" font-weight="normal" fill="#000" textLength="64.0" lengthAdjust="spacingAndGlyphs">coolbox</text>
<circle cx="587.0" cy="868.0" r="3.6" fill="#000"/>
<text x="616.8" y="874.3" font-size="18.8" font-weight="normal" fill="#000" textLength="117.4" lengthAdjust="spacingAndGlyphs">storage space</text>
<circle cx="587.0" cy="890.9" r="3.6" fill="#000"/>
<text x="616.8" y="897.2" font-size="18.8" font-weight="normal" fill="#000" textLength="155.0" lengthAdjust="spacingAndGlyphs">plexiglass screens</text>
<circle cx="587.0" cy="913.8" r="3.6" fill="#000"/>
<text x="616.2" y="920.1" font-size="18.8" font-weight="normal" fill="#000" textLength="136.5" lengthAdjust="spacingAndGlyphs">working surface</text>
<circle cx="587.0" cy="936.7" r="3.6" fill="#000"/>
<text x="616.8" y="943.0" font-size="18.8" font-weight="normal" fill="#000" textLength="91.8" lengthAdjust="spacingAndGlyphs">gas cooker</text>
<circle cx="587.0" cy="959.6" r="3.6" fill="#000"/>
<text x="616.8" y="965.9" font-size="18.8" font-weight="normal" fill="#000" textLength="309.4" lengthAdjust="spacingAndGlyphs">space for ingredients (e.g. salad bar)</text>
<circle cx="587.0" cy="982.5" r="3.6" fill="#000"/>
<text x="616.8" y="988.8" font-size="18.8" font-weight="normal" fill="#000" textLength="33.6" lengthAdjust="spacingAndGlyphs">roof</text>
<text x="1070.0" y="774.7" font-size="18.6" font-weight="bold" fill="#0b618c" textLength="104.3" lengthAdjust="spacingAndGlyphs">Market stall</text>
<text x="1070.0" y="805.7" font-size="18.8" font-weight="normal" fill="#000" textLength="402.9" lengthAdjust="spacingAndGlyphs">Used for street sales or exhibitions. Consists of:</text>
<circle cx="1074.2" cy="822.2" r="3.6" fill="#000"/>
<text x="1103.2" y="828.5" font-size="18.8" font-weight="normal" fill="#000" textLength="216.1" lengthAdjust="spacingAndGlyphs">work &amp; exhibition surface</text>
<circle cx="1074.2" cy="845.1" r="3.6" fill="#000"/>
<text x="1104.1" y="851.4" font-size="18.8" font-weight="normal" fill="#000" textLength="137.9" lengthAdjust="spacingAndGlyphs">multiple shelves</text>
<circle cx="1074.2" cy="868.0" r="3.6" fill="#000"/>
<text x="1104.1" y="874.3" font-size="18.8" font-weight="normal" fill="#000" textLength="63.4" lengthAdjust="spacingAndGlyphs">storage</text>
<circle cx="1074.2" cy="890.9" r="3.6" fill="#000"/>
<text x="1104.1" y="897.2" font-size="18.8" font-weight="normal" fill="#000" textLength="315.6" lengthAdjust="spacingAndGlyphs">side elements as exhibition extension</text>
<circle cx="1074.2" cy="913.8" r="3.6" fill="#000"/>
<text x="1104.1" y="920.1" font-size="18.8" font-weight="normal" fill="#000" textLength="32.7" lengthAdjust="spacingAndGlyphs">roof</text>
<text x="36.4" y="1088.8" font-size="18.2" font-weight="normal" fill="#000" textLength="128.6" lengthAdjust="spacingAndGlyphs">ARCHITECTURE</text>
<text x="173.0" y="1088.8" font-size="18.2" font-weight="normal" fill="#000" textLength="31.2" lengthAdjust="spacingAndGlyphs">FOR</text>
<text x="210.9" y="1088.8" font-size="18.2" font-weight="normal" fill="#000" textLength="48.7" lengthAdjust="spacingAndGlyphs">COVID</text>
<text x="265.6" y="1088.8" font-size="18.2" font-weight="normal" fill="#000" textLength="6.1" lengthAdjust="spacingAndGlyphs">-</text>
<text x="278.1" y="1088.8" font-size="18.2" font-weight="normal" fill="#000" textLength="17.4" lengthAdjust="spacingAndGlyphs">19</text>
<text x="301.9" y="1088.8" font-size="18.2" font-weight="normal" fill="#000" textLength="5.6" lengthAdjust="spacingAndGlyphs">-</text>
<text x="314.0" y="1088.8" font-size="18.2" font-weight="normal" fill="#000" textLength="65.5" lengthAdjust="spacingAndGlyphs">Dominik</text>
<text x="384.1" y="1088.8" font-size="18.2" font-weight="normal" fill="#000" textLength="48.8" lengthAdjust="spacingAndGlyphs">Glück,</text>
<text x="438.9" y="1088.8" font-size="18.2" font-weight="normal" fill="#000" textLength="41.3" lengthAdjust="spacingAndGlyphs">Ginet</text>
<text x="485.6" y="1088.8" font-size="18.2" font-weight="normal" fill="#000" textLength="56.4" lengthAdjust="spacingAndGlyphs">Porras,</text>
<text x="548.7" y="1088.8" font-size="18.2" font-weight="normal" fill="#000" textLength="43.3" lengthAdjust="spacingAndGlyphs">Heiko</text>
<text x="597.0" y="1088.8" font-size="18.2" font-weight="normal" fill="#000" textLength="65.4" lengthAdjust="spacingAndGlyphs">Rehage,</text>
<text x="668.8" y="1088.8" font-size="18.2" font-weight="normal" fill="#000" textLength="58.6" lengthAdjust="spacingAndGlyphs">Ihordan</text>
<text x="733.8" y="1088.8" font-size="18.2" font-weight="normal" fill="#000" textLength="61.9" lengthAdjust="spacingAndGlyphs">Romero</text>
<text x="801.4" y="1088.8" font-size="18.2" font-weight="normal" fill="#000" textLength="39.1" lengthAdjust="spacingAndGlyphs">Miro,</text>
<text x="846.4" y="1088.8" font-size="18.2" font-weight="normal" fill="#000" textLength="53.8" lengthAdjust="spacingAndGlyphs">Philipp</text>
<text x="906.6" y="1088.8" font-size="18.2" font-weight="normal" fill="#000" textLength="72.5" lengthAdjust="spacingAndGlyphs">Merbeler,</text>
<text x="984.4" y="1088.8" font-size="18.2" font-weight="normal" fill="#000" textLength="79.2" lengthAdjust="spacingAndGlyphs">Sebastian</text>
<text x="1069.3" y="1088.8" font-size="18.2" font-weight="normal" fill="#000" textLength="91.3" lengthAdjust="spacingAndGlyphs">Gubernatis,</text>
<text x="1166.0" y="1088.8" font-size="18.2" font-weight="normal" fill="#000" textLength="57.5" lengthAdjust="spacingAndGlyphs">Susana</text>
<text x="1228.9" y="1088.8" font-size="18.2" font-weight="normal" fill="#000" textLength="72.5" lengthAdjust="spacingAndGlyphs">Cordoves</text>
<text x="1307.8" y="1088.8" font-size="18.2" font-weight="normal" fill="#000" textLength="38.8" lengthAdjust="spacingAndGlyphs">Pupo</text>
</svg>
</body></html>
